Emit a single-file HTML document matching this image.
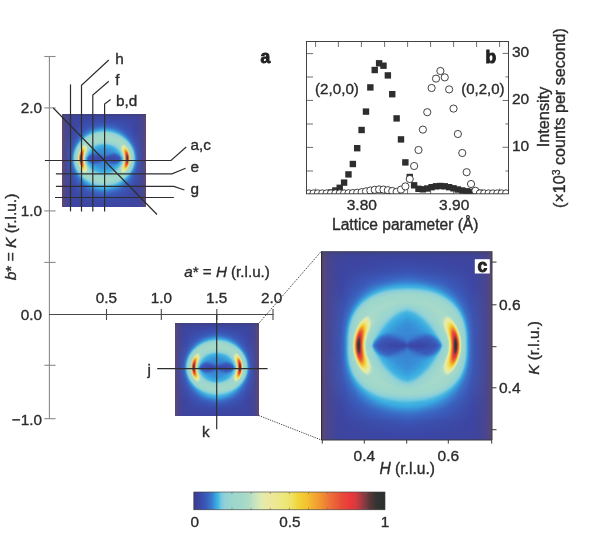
<!DOCTYPE html><html><head><meta charset="utf-8"><style>html,body{margin:0;padding:0;background:#fff;width:600px;height:552px;overflow:hidden}svg{display:block;filter:blur(0.35px)}text{font-family:"Liberation Sans",sans-serif;stroke:#2b2b2b;stroke-width:0.35px}</style></head><body>
<svg width="600" height="552" viewBox="0 0 600 552">
<defs>
<symbol id="hm" viewBox="0 0 170 189" preserveAspectRatio="none">
<defs><linearGradient id="hm0" gradientUnits="userSpaceOnUse" x2="85.60" spreadMethod="reflect"><stop offset="0.006" stop-color="#4f436a"/><stop offset="0.123" stop-color="#41427f"/><stop offset="1.000" stop-color="#3c4285"/></linearGradient><linearGradient id="hm1" gradientUnits="userSpaceOnUse" x2="85.60" spreadMethod="reflect"><stop offset="0.006" stop-color="#53446b"/><stop offset="0.099" stop-color="#434382"/><stop offset="0.426" stop-color="#3c428c"/><stop offset="1.000" stop-color="#3c438d"/></linearGradient><linearGradient id="hm2" gradientUnits="userSpaceOnUse" x2="85.60" spreadMethod="reflect"><stop offset="0.006" stop-color="#56456c"/><stop offset="0.099" stop-color="#444386"/><stop offset="0.368" stop-color="#3c4391"/><stop offset="1.000" stop-color="#3c4393"/></linearGradient><linearGradient id="hm3" gradientUnits="userSpaceOnUse" x2="85.60" spreadMethod="reflect"><stop offset="0.006" stop-color="#59456d"/><stop offset="0.088" stop-color="#464488"/><stop offset="0.298" stop-color="#3c4395"/><stop offset="1.000" stop-color="#3c4498"/></linearGradient><linearGradient id="hm4" gradientUnits="userSpaceOnUse" x2="85.60" spreadMethod="reflect"><stop offset="0.006" stop-color="#5a466e"/><stop offset="0.088" stop-color="#46448a"/><stop offset="0.286" stop-color="#3c4497"/><stop offset="1.000" stop-color="#3b459b"/></linearGradient><linearGradient id="hm5" gradientUnits="userSpaceOnUse" x2="85.60" spreadMethod="reflect"><stop offset="0.006" stop-color="#5b466e"/><stop offset="0.088" stop-color="#46448c"/><stop offset="0.275" stop-color="#3c449a"/><stop offset="1.000" stop-color="#3b459e"/></linearGradient><linearGradient id="hm6" gradientUnits="userSpaceOnUse" x2="85.60" spreadMethod="reflect"><stop offset="0.006" stop-color="#5c466f"/><stop offset="0.088" stop-color="#47458d"/><stop offset="0.263" stop-color="#3d449b"/><stop offset="1.000" stop-color="#3b46a1"/></linearGradient><linearGradient id="hm7" gradientUnits="userSpaceOnUse" x2="85.60" spreadMethod="reflect"><stop offset="0.006" stop-color="#5d476f"/><stop offset="0.076" stop-color="#49458b"/><stop offset="0.228" stop-color="#3d449b"/><stop offset="1.000" stop-color="#3b46a3"/></linearGradient><linearGradient id="hm8" gradientUnits="userSpaceOnUse" x2="85.60" spreadMethod="reflect"><stop offset="0.006" stop-color="#5e476f"/><stop offset="0.076" stop-color="#49458c"/><stop offset="0.228" stop-color="#3d449c"/><stop offset="1.000" stop-color="#3b47a4"/></linearGradient><linearGradient id="hm9" gradientUnits="userSpaceOnUse" x2="85.60" spreadMethod="reflect"><stop offset="0.006" stop-color="#5e476f"/><stop offset="0.076" stop-color="#49458c"/><stop offset="0.228" stop-color="#3d449d"/><stop offset="1.000" stop-color="#3b48a6"/></linearGradient><linearGradient id="hm10" gradientUnits="userSpaceOnUse" x2="85.60" spreadMethod="reflect"><stop offset="0.006" stop-color="#5e476f"/><stop offset="0.076" stop-color="#49458d"/><stop offset="0.228" stop-color="#3d449e"/><stop offset="1.000" stop-color="#3b48a7"/></linearGradient><linearGradient id="hm11" gradientUnits="userSpaceOnUse" x2="85.60" spreadMethod="reflect"><stop offset="0.006" stop-color="#5f476f"/><stop offset="0.076" stop-color="#49458d"/><stop offset="0.228" stop-color="#3d459e"/><stop offset="1.000" stop-color="#3b49a8"/></linearGradient><linearGradient id="hm12" gradientUnits="userSpaceOnUse" x2="85.60" spreadMethod="reflect"><stop offset="0.006" stop-color="#5f476f"/><stop offset="0.076" stop-color="#49458d"/><stop offset="0.228" stop-color="#3d459f"/><stop offset="1.000" stop-color="#3b4aa9"/></linearGradient><linearGradient id="hm13" gradientUnits="userSpaceOnUse" x2="85.60" spreadMethod="reflect"><stop offset="0.006" stop-color="#5f476f"/><stop offset="0.076" stop-color="#49458d"/><stop offset="0.228" stop-color="#3d459f"/><stop offset="1.000" stop-color="#3b4baa"/></linearGradient><linearGradient id="hm14" gradientUnits="userSpaceOnUse" x2="85.60" spreadMethod="reflect"><stop offset="0.006" stop-color="#5f476f"/><stop offset="0.076" stop-color="#49458d"/><stop offset="0.228" stop-color="#3d459f"/><stop offset="1.000" stop-color="#3b4cac"/></linearGradient><linearGradient id="hm15" gradientUnits="userSpaceOnUse" x2="85.60" spreadMethod="reflect"><stop offset="0.006" stop-color="#5f476f"/><stop offset="0.076" stop-color="#49458e"/><stop offset="0.228" stop-color="#3d459f"/><stop offset="1.000" stop-color="#3b4dad"/></linearGradient><linearGradient id="hm16" gradientUnits="userSpaceOnUse" x2="85.60" spreadMethod="reflect"><stop offset="0.006" stop-color="#5f476f"/><stop offset="0.076" stop-color="#49458e"/><stop offset="0.228" stop-color="#3d45a0"/><stop offset="1.000" stop-color="#3b4fae"/></linearGradient><linearGradient id="hm17" gradientUnits="userSpaceOnUse" x2="85.60" spreadMethod="reflect"><stop offset="0.006" stop-color="#5f476f"/><stop offset="0.076" stop-color="#49468e"/><stop offset="0.228" stop-color="#3d45a0"/><stop offset="1.000" stop-color="#3a50b0"/></linearGradient><linearGradient id="hm18" gradientUnits="userSpaceOnUse" x2="85.60" spreadMethod="reflect"><stop offset="0.006" stop-color="#5f4770"/><stop offset="0.076" stop-color="#49468e"/><stop offset="0.228" stop-color="#3d45a0"/><stop offset="1.000" stop-color="#3a51b1"/></linearGradient><linearGradient id="hm19" gradientUnits="userSpaceOnUse" x2="85.60" spreadMethod="reflect"><stop offset="0.006" stop-color="#5f4770"/><stop offset="0.076" stop-color="#49468e"/><stop offset="0.228" stop-color="#3d45a0"/><stop offset="1.000" stop-color="#3a53b3"/></linearGradient><linearGradient id="hm20" gradientUnits="userSpaceOnUse" x2="85.60" spreadMethod="reflect"><stop offset="0.006" stop-color="#5f4770"/><stop offset="0.076" stop-color="#49468e"/><stop offset="0.228" stop-color="#3d45a0"/><stop offset="1.000" stop-color="#3a55b5"/></linearGradient><linearGradient id="hm21" gradientUnits="userSpaceOnUse" x2="85.60" spreadMethod="reflect"><stop offset="0.006" stop-color="#5f4770"/><stop offset="0.076" stop-color="#49468e"/><stop offset="0.228" stop-color="#3d45a0"/><stop offset="1.000" stop-color="#3a57b7"/></linearGradient><linearGradient id="hm22" gradientUnits="userSpaceOnUse" x2="85.60" spreadMethod="reflect"><stop offset="0.006" stop-color="#5f4770"/><stop offset="0.076" stop-color="#49468e"/><stop offset="0.228" stop-color="#3d45a0"/><stop offset="1.000" stop-color="#3a59b9"/></linearGradient><linearGradient id="hm23" gradientUnits="userSpaceOnUse" x2="85.60" spreadMethod="reflect"><stop offset="0.006" stop-color="#5f4770"/><stop offset="0.076" stop-color="#49468e"/><stop offset="0.228" stop-color="#3d45a1"/><stop offset="0.999" stop-color="#3a5dbb"/><stop offset="1.000" stop-color="#3a5dbb"/></linearGradient><linearGradient id="hm24" gradientUnits="userSpaceOnUse" x2="85.60" spreadMethod="reflect"><stop offset="0.006" stop-color="#5f4770"/><stop offset="0.076" stop-color="#49468e"/><stop offset="0.228" stop-color="#3d45a1"/><stop offset="0.987" stop-color="#3a60bd"/><stop offset="1.000" stop-color="#3a60bd"/></linearGradient><linearGradient id="hm25" gradientUnits="userSpaceOnUse" x2="85.60" spreadMethod="reflect"><stop offset="0.006" stop-color="#5f4770"/><stop offset="0.076" stop-color="#49468e"/><stop offset="0.228" stop-color="#3d45a1"/><stop offset="0.742" stop-color="#3a5bba"/><stop offset="1.000" stop-color="#3a64c0"/></linearGradient><linearGradient id="hm26" gradientUnits="userSpaceOnUse" x2="85.60" spreadMethod="reflect"><stop offset="0.006" stop-color="#5f4770"/><stop offset="0.076" stop-color="#49468e"/><stop offset="0.228" stop-color="#3d45a1"/><stop offset="0.695" stop-color="#3a5bba"/><stop offset="1.000" stop-color="#3a68c3"/></linearGradient><linearGradient id="hm27" gradientUnits="userSpaceOnUse" x2="85.60" spreadMethod="reflect"><stop offset="0.006" stop-color="#5f4770"/><stop offset="0.076" stop-color="#49468e"/><stop offset="0.228" stop-color="#3d45a1"/><stop offset="0.660" stop-color="#3a5bba"/><stop offset="0.964" stop-color="#3a6cc5"/><stop offset="1.000" stop-color="#3a6cc5"/></linearGradient><linearGradient id="hm28" gradientUnits="userSpaceOnUse" x2="85.60" spreadMethod="reflect"><stop offset="0.006" stop-color="#5f4770"/><stop offset="0.076" stop-color="#49468e"/><stop offset="0.228" stop-color="#3d46a2"/><stop offset="0.625" stop-color="#3a5ab9"/><stop offset="0.940" stop-color="#3a71c8"/><stop offset="1.000" stop-color="#3a71c9"/></linearGradient><linearGradient id="hm29" gradientUnits="userSpaceOnUse" x2="85.60" spreadMethod="reflect"><stop offset="0.006" stop-color="#5f4770"/><stop offset="0.076" stop-color="#49468e"/><stop offset="0.239" stop-color="#3d46a3"/><stop offset="0.613" stop-color="#3a5cbb"/><stop offset="0.964" stop-color="#3978cc"/><stop offset="1.000" stop-color="#3979cc"/></linearGradient><linearGradient id="hm30" gradientUnits="userSpaceOnUse" x2="85.60" spreadMethod="reflect"><stop offset="0.006" stop-color="#5f4770"/><stop offset="0.076" stop-color="#49468e"/><stop offset="0.239" stop-color="#3d46a3"/><stop offset="0.590" stop-color="#3a5cbb"/><stop offset="0.929" stop-color="#397fd0"/><stop offset="1.000" stop-color="#3980d0"/></linearGradient><linearGradient id="hm31" gradientUnits="userSpaceOnUse" x2="85.60" spreadMethod="reflect"><stop offset="0.006" stop-color="#5f4770"/><stop offset="0.076" stop-color="#49468e"/><stop offset="0.239" stop-color="#3d46a3"/><stop offset="0.567" stop-color="#3a5cbb"/><stop offset="0.905" stop-color="#3986d3"/><stop offset="1.000" stop-color="#3889d4"/></linearGradient><linearGradient id="hm32" gradientUnits="userSpaceOnUse" x2="85.60" spreadMethod="reflect"><stop offset="0.006" stop-color="#5f4770"/><stop offset="0.076" stop-color="#49468e"/><stop offset="0.239" stop-color="#3d46a4"/><stop offset="0.543" stop-color="#3a5bba"/><stop offset="0.882" stop-color="#388dd7"/><stop offset="1.000" stop-color="#3892d8"/></linearGradient><linearGradient id="hm33" gradientUnits="userSpaceOnUse" x2="85.60" spreadMethod="reflect"><stop offset="0.006" stop-color="#5f4770"/><stop offset="0.076" stop-color="#49468e"/><stop offset="0.239" stop-color="#3d46a4"/><stop offset="0.532" stop-color="#3a5dbb"/><stop offset="0.882" stop-color="#3899db"/><stop offset="1.000" stop-color="#389edd"/></linearGradient><linearGradient id="hm34" gradientUnits="userSpaceOnUse" x2="85.60" spreadMethod="reflect"><stop offset="0.006" stop-color="#5f4770"/><stop offset="0.076" stop-color="#49468e"/><stop offset="0.239" stop-color="#3d47a4"/><stop offset="0.508" stop-color="#3a5cba"/><stop offset="0.859" stop-color="#38a3de"/><stop offset="1.000" stop-color="#3aaae0"/></linearGradient><linearGradient id="hm35" gradientUnits="userSpaceOnUse" x2="85.60" spreadMethod="reflect"><stop offset="0.006" stop-color="#5f4770"/><stop offset="0.076" stop-color="#49468e"/><stop offset="0.239" stop-color="#3d47a4"/><stop offset="0.496" stop-color="#3a5cbb"/><stop offset="0.672" stop-color="#3984d2"/><stop offset="0.824" stop-color="#3aa9e0"/><stop offset="1.000" stop-color="#40b0e0"/></linearGradient><linearGradient id="hm36" gradientUnits="userSpaceOnUse" x2="85.60" spreadMethod="reflect"><stop offset="0.006" stop-color="#5f4770"/><stop offset="0.076" stop-color="#49468e"/><stop offset="0.239" stop-color="#3d47a5"/><stop offset="0.485" stop-color="#3a5dbb"/><stop offset="0.637" stop-color="#3982d1"/><stop offset="0.777" stop-color="#3babe0"/><stop offset="1.000" stop-color="#4ab8e0"/></linearGradient><linearGradient id="hm37" gradientUnits="userSpaceOnUse" x2="85.60" spreadMethod="reflect"><stop offset="0.006" stop-color="#5f4770"/><stop offset="0.076" stop-color="#49468f"/><stop offset="0.239" stop-color="#3d48a5"/><stop offset="0.473" stop-color="#3a5ebc"/><stop offset="0.602" stop-color="#397ecf"/><stop offset="0.730" stop-color="#3babe0"/><stop offset="0.870" stop-color="#57bee0"/><stop offset="0.987" stop-color="#66c4e0"/><stop offset="1.000" stop-color="#66c4e0"/></linearGradient><linearGradient id="hm38" gradientUnits="userSpaceOnUse" x2="85.60" spreadMethod="reflect"><stop offset="0.006" stop-color="#5f4770"/><stop offset="0.076" stop-color="#49468f"/><stop offset="0.239" stop-color="#3d48a5"/><stop offset="0.461" stop-color="#3a5ebc"/><stop offset="0.578" stop-color="#397dcf"/><stop offset="0.695" stop-color="#3cace0"/><stop offset="0.777" stop-color="#52bce0"/><stop offset="0.847" stop-color="#6fc7df"/><stop offset="0.987" stop-color="#7bcbdd"/><stop offset="1.000" stop-color="#7bcbdd"/></linearGradient><linearGradient id="hm39" gradientUnits="userSpaceOnUse" x2="85.60" spreadMethod="reflect"><stop offset="0.006" stop-color="#5f4770"/><stop offset="0.076" stop-color="#49468f"/><stop offset="0.239" stop-color="#3d48a6"/><stop offset="0.450" stop-color="#3a5ebc"/><stop offset="0.555" stop-color="#397cce"/><stop offset="0.660" stop-color="#3babe0"/><stop offset="0.718" stop-color="#4cb9e0"/><stop offset="0.777" stop-color="#71c8df"/><stop offset="0.905" stop-color="#8aceda"/><stop offset="1.000" stop-color="#8ccfd9"/></linearGradient><linearGradient id="hm40" gradientUnits="userSpaceOnUse" x2="85.60" spreadMethod="reflect"><stop offset="0.006" stop-color="#5f4770"/><stop offset="0.076" stop-color="#49468f"/><stop offset="0.239" stop-color="#3d49a6"/><stop offset="0.438" stop-color="#3a5fbc"/><stop offset="0.543" stop-color="#397ecf"/><stop offset="0.637" stop-color="#3cace0"/><stop offset="0.683" stop-color="#4dbae0"/><stop offset="0.730" stop-color="#73c8df"/><stop offset="0.824" stop-color="#8fd0d8"/><stop offset="1.000" stop-color="#94d2d4"/></linearGradient><linearGradient id="hm41" gradientUnits="userSpaceOnUse" x2="85.60" spreadMethod="reflect"><stop offset="0.006" stop-color="#5f4770"/><stop offset="0.076" stop-color="#49468f"/><stop offset="0.239" stop-color="#3d49a6"/><stop offset="0.426" stop-color="#3a5fbc"/><stop offset="0.520" stop-color="#397bce"/><stop offset="0.613" stop-color="#3dade0"/><stop offset="0.648" stop-color="#4bb8e0"/><stop offset="0.695" stop-color="#75c9df"/><stop offset="0.765" stop-color="#90d0d7"/><stop offset="1.000" stop-color="#98d4d0"/></linearGradient><linearGradient id="hm42" gradientUnits="userSpaceOnUse" x2="85.60" spreadMethod="reflect"><stop offset="0.006" stop-color="#5f4770"/><stop offset="0.076" stop-color="#49468f"/><stop offset="0.251" stop-color="#3c4aa8"/><stop offset="0.415" stop-color="#3a5ebc"/><stop offset="0.508" stop-color="#397dce"/><stop offset="0.590" stop-color="#3cace0"/><stop offset="0.625" stop-color="#4ebae0"/><stop offset="0.660" stop-color="#74c9df"/><stop offset="0.718" stop-color="#90d0d7"/><stop offset="0.952" stop-color="#9cd6cc"/><stop offset="1.000" stop-color="#9cd6cc"/></linearGradient><linearGradient id="hm43" gradientUnits="userSpaceOnUse" x2="85.60" spreadMethod="reflect"><stop offset="0.006" stop-color="#5f4770"/><stop offset="0.076" stop-color="#49468f"/><stop offset="0.251" stop-color="#3c4aa8"/><stop offset="0.403" stop-color="#3a5ebc"/><stop offset="0.485" stop-color="#3a78cc"/><stop offset="0.567" stop-color="#3babe0"/><stop offset="0.602" stop-color="#4fbae0"/><stop offset="0.637" stop-color="#78cade"/><stop offset="0.683" stop-color="#91d1d7"/><stop offset="0.859" stop-color="#9ed7cb"/><stop offset="1.000" stop-color="#9ed7cb"/></linearGradient><linearGradient id="hm44" gradientUnits="userSpaceOnUse" x2="85.60" spreadMethod="reflect"><stop offset="0.006" stop-color="#5f4770"/><stop offset="0.076" stop-color="#49468f"/><stop offset="0.251" stop-color="#3c4ba9"/><stop offset="0.403" stop-color="#3a61bd"/><stop offset="0.473" stop-color="#3a79cc"/><stop offset="0.532" stop-color="#38a0dd"/><stop offset="0.567" stop-color="#43b3e0"/><stop offset="0.590" stop-color="#5ec1e0"/><stop offset="0.613" stop-color="#7acade"/><stop offset="0.648" stop-color="#90d0d7"/><stop offset="0.789" stop-color="#9ed7cb"/><stop offset="1.000" stop-color="#a0d7cb"/></linearGradient><linearGradient id="hm45" gradientUnits="userSpaceOnUse" x2="85.60" spreadMethod="reflect"><stop offset="0.006" stop-color="#5f4770"/><stop offset="0.076" stop-color="#49468f"/><stop offset="0.251" stop-color="#3c4ba9"/><stop offset="0.391" stop-color="#3a60bd"/><stop offset="0.461" stop-color="#397acd"/><stop offset="0.508" stop-color="#3898db"/><stop offset="0.543" stop-color="#41b1e0"/><stop offset="0.555" stop-color="#48b7e0"/><stop offset="0.590" stop-color="#7acade"/><stop offset="0.625" stop-color="#91d1d7"/><stop offset="0.754" stop-color="#9fd7cb"/><stop offset="1.000" stop-color="#a1d8ca"/></linearGradient><linearGradient id="hm46" gradientUnits="userSpaceOnUse" x2="85.60" spreadMethod="reflect"><stop offset="0.006" stop-color="#5f4770"/><stop offset="0.076" stop-color="#49468f"/><stop offset="0.263" stop-color="#3c4dab"/><stop offset="0.391" stop-color="#3a63bf"/><stop offset="0.461" stop-color="#3981d0"/><stop offset="0.520" stop-color="#3eade0"/><stop offset="0.543" stop-color="#50bbe0"/><stop offset="0.567" stop-color="#77cade"/><stop offset="0.602" stop-color="#91d1d6"/><stop offset="0.707" stop-color="#9fd7cb"/><stop offset="1.000" stop-color="#a1d8ca"/></linearGradient><linearGradient id="hm47" gradientUnits="userSpaceOnUse" x2="85.60" spreadMethod="reflect"><stop offset="0.006" stop-color="#5f4770"/><stop offset="0.076" stop-color="#49468f"/><stop offset="0.263" stop-color="#3c4eac"/><stop offset="0.380" stop-color="#3a62be"/><stop offset="0.438" stop-color="#3a79cc"/><stop offset="0.485" stop-color="#389ddc"/><stop offset="0.520" stop-color="#47b6e0"/><stop offset="0.543" stop-color="#70c8df"/><stop offset="0.578" stop-color="#91d0d7"/><stop offset="0.672" stop-color="#9ed7cb"/><stop offset="1.000" stop-color="#a1d8ca"/></linearGradient><linearGradient id="hm48" gradientUnits="userSpaceOnUse" x2="85.60" spreadMethod="reflect"><stop offset="0.006" stop-color="#5f4770"/><stop offset="0.076" stop-color="#49468f"/><stop offset="0.275" stop-color="#3c4fae"/><stop offset="0.380" stop-color="#3a64c0"/><stop offset="0.438" stop-color="#3980d0"/><stop offset="0.485" stop-color="#3aaae0"/><stop offset="0.508" stop-color="#4cb9e0"/><stop offset="0.532" stop-color="#77cade"/><stop offset="0.555" stop-color="#8ed0d8"/><stop offset="0.648" stop-color="#9fd7cb"/><stop offset="0.917" stop-color="#a2d8ca"/><stop offset="1.000" stop-color="#a1d8ca"/></linearGradient><linearGradient id="hm49" gradientUnits="userSpaceOnUse" x2="85.60" spreadMethod="reflect"><stop offset="0.006" stop-color="#5f4770"/><stop offset="0.076" stop-color="#49468f"/><stop offset="0.275" stop-color="#3b50ae"/><stop offset="0.380" stop-color="#3a67c2"/><stop offset="0.426" stop-color="#397fcf"/><stop offset="0.473" stop-color="#3baae0"/><stop offset="0.496" stop-color="#50bbe0"/><stop offset="0.508" stop-color="#6ac5df"/><stop offset="0.532" stop-color="#89ced9"/><stop offset="0.578" stop-color="#9ad5ce"/><stop offset="0.835" stop-color="#a5d9c9"/><stop offset="1.000" stop-color="#a0d7cb"/></linearGradient><linearGradient id="hm50" gradientUnits="userSpaceOnUse" x2="85.60" spreadMethod="reflect"><stop offset="0.006" stop-color="#5f4770"/><stop offset="0.076" stop-color="#49468f"/><stop offset="0.275" stop-color="#3b51af"/><stop offset="0.368" stop-color="#3a66c1"/><stop offset="0.415" stop-color="#397dce"/><stop offset="0.461" stop-color="#3baae0"/><stop offset="0.473" stop-color="#43b2e0"/><stop offset="0.485" stop-color="#54bce0"/><stop offset="0.496" stop-color="#6fc7df"/><stop offset="0.520" stop-color="#8dcfd8"/><stop offset="0.590" stop-color="#9ed7cb"/><stop offset="0.835" stop-color="#a5d9c9"/><stop offset="1.000" stop-color="#9fd7cb"/></linearGradient><linearGradient id="hm51" gradientUnits="userSpaceOnUse" x2="85.60" spreadMethod="reflect"><stop offset="0.006" stop-color="#5f4770"/><stop offset="0.076" stop-color="#49468f"/><stop offset="0.275" stop-color="#3b51b0"/><stop offset="0.368" stop-color="#3a69c3"/><stop offset="0.415" stop-color="#3984d2"/><stop offset="0.450" stop-color="#3baae0"/><stop offset="0.461" stop-color="#43b3e0"/><stop offset="0.473" stop-color="#56bde0"/><stop offset="0.485" stop-color="#72c8df"/><stop offset="0.508" stop-color="#8fd0d7"/><stop offset="0.578" stop-color="#9ed7cb"/><stop offset="0.812" stop-color="#a6d9c9"/><stop offset="1.000" stop-color="#9ed7cb"/></linearGradient><linearGradient id="hm52" gradientUnits="userSpaceOnUse" x2="85.60" spreadMethod="reflect"><stop offset="0.006" stop-color="#5f4770"/><stop offset="0.076" stop-color="#49468f"/><stop offset="0.275" stop-color="#3b52b1"/><stop offset="0.368" stop-color="#3a6bc4"/><stop offset="0.415" stop-color="#388cd6"/><stop offset="0.438" stop-color="#3aa9df"/><stop offset="0.450" stop-color="#42b2e0"/><stop offset="0.461" stop-color="#56bde0"/><stop offset="0.473" stop-color="#73c8df"/><stop offset="0.496" stop-color="#90d0d7"/><stop offset="0.567" stop-color="#9fd7cb"/><stop offset="0.789" stop-color="#a6d9c9"/><stop offset="1.000" stop-color="#9dd6cc"/></linearGradient><linearGradient id="hm53" gradientUnits="userSpaceOnUse" x2="85.60" spreadMethod="reflect"><stop offset="0.006" stop-color="#5f4770"/><stop offset="0.076" stop-color="#494690"/><stop offset="0.275" stop-color="#3b53b1"/><stop offset="0.368" stop-color="#3a6fc6"/><stop offset="0.415" stop-color="#3897da"/><stop offset="0.438" stop-color="#41b1e0"/><stop offset="0.450" stop-color="#54bce0"/><stop offset="0.461" stop-color="#73c8de"/><stop offset="0.485" stop-color="#91d0d7"/><stop offset="0.543" stop-color="#9ed7cb"/><stop offset="0.754" stop-color="#a7d9c9"/><stop offset="1.000" stop-color="#9bd5cd"/></linearGradient><linearGradient id="hm54" gradientUnits="userSpaceOnUse" x2="85.60" spreadMethod="reflect"><stop offset="0.006" stop-color="#5f4770"/><stop offset="0.076" stop-color="#494690"/><stop offset="0.275" stop-color="#3b54b2"/><stop offset="0.356" stop-color="#3a6cc5"/><stop offset="0.403" stop-color="#3893d8"/><stop offset="0.426" stop-color="#40afe0"/><stop offset="0.438" stop-color="#51bbe0"/><stop offset="0.450" stop-color="#71c7df"/><stop offset="0.473" stop-color="#91d0d6"/><stop offset="0.532" stop-color="#9ed7cb"/><stop offset="0.742" stop-color="#a7d9c9"/><stop offset="1.000" stop-color="#97d4d1"/></linearGradient><linearGradient id="hm55" gradientUnits="userSpaceOnUse" x2="85.60" spreadMethod="reflect"><stop offset="0.006" stop-color="#5f4770"/><stop offset="0.076" stop-color="#494690"/><stop offset="0.263" stop-color="#3c52b1"/><stop offset="0.345" stop-color="#3a6ac3"/><stop offset="0.391" stop-color="#388ed7"/><stop offset="0.415" stop-color="#3eade0"/><stop offset="0.426" stop-color="#4cb8e0"/><stop offset="0.438" stop-color="#6dc6df"/><stop offset="0.461" stop-color="#90d0d7"/><stop offset="0.520" stop-color="#9fd7cb"/><stop offset="0.718" stop-color="#a7dac8"/><stop offset="0.952" stop-color="#97d3d1"/><stop offset="1.000" stop-color="#93d2d5"/></linearGradient><linearGradient id="hm56" gradientUnits="userSpaceOnUse" x2="85.60" spreadMethod="reflect"><stop offset="0.006" stop-color="#5f4770"/><stop offset="0.076" stop-color="#494690"/><stop offset="0.263" stop-color="#3c53b1"/><stop offset="0.345" stop-color="#3a6dc5"/><stop offset="0.380" stop-color="#398ad4"/><stop offset="0.403" stop-color="#3baadf"/><stop offset="0.415" stop-color="#47b5e0"/><stop offset="0.438" stop-color="#7fccdc"/><stop offset="0.450" stop-color="#8fd0d7"/><stop offset="0.508" stop-color="#9fd7cb"/><stop offset="0.707" stop-color="#a7dac8"/><stop offset="0.917" stop-color="#97d4d1"/><stop offset="1.000" stop-color="#8fd0d8"/></linearGradient><linearGradient id="hm57" gradientUnits="userSpaceOnUse" x2="85.60" spreadMethod="reflect"><stop offset="0.006" stop-color="#5f4770"/><stop offset="0.076" stop-color="#494690"/><stop offset="0.263" stop-color="#3b54b2"/><stop offset="0.345" stop-color="#3a70c7"/><stop offset="0.380" stop-color="#3892d8"/><stop offset="0.403" stop-color="#42b1df"/><stop offset="0.426" stop-color="#7bcadd"/><stop offset="0.438" stop-color="#8dcfd8"/><stop offset="0.496" stop-color="#9fd7cb"/><stop offset="0.683" stop-color="#a8dac8"/><stop offset="0.894" stop-color="#98d4d0"/><stop offset="1.000" stop-color="#82ccdc"/></linearGradient><linearGradient id="hm58" gradientUnits="userSpaceOnUse" x2="85.60" spreadMethod="reflect"><stop offset="0.006" stop-color="#5f4770"/><stop offset="0.076" stop-color="#494690"/><stop offset="0.263" stop-color="#3b54b3"/><stop offset="0.333" stop-color="#3a6dc5"/><stop offset="0.368" stop-color="#398cd5"/><stop offset="0.391" stop-color="#3eaedf"/><stop offset="0.403" stop-color="#51badf"/><stop offset="0.415" stop-color="#74c8de"/><stop offset="0.426" stop-color="#8aced9"/><stop offset="0.461" stop-color="#9bd5cd"/><stop offset="0.637" stop-color="#a8dac8"/><stop offset="0.870" stop-color="#98d4d0"/><stop offset="0.929" stop-color="#8ccfd9"/><stop offset="0.987" stop-color="#76c9df"/><stop offset="1.000" stop-color="#75c9df"/></linearGradient><linearGradient id="hm59" gradientUnits="userSpaceOnUse" x2="85.60" spreadMethod="reflect"><stop offset="0.006" stop-color="#5f4770"/><stop offset="0.076" stop-color="#494690"/><stop offset="0.251" stop-color="#3c53b1"/><stop offset="0.321" stop-color="#3b69c3"/><stop offset="0.356" stop-color="#3986d2"/><stop offset="0.380" stop-color="#3ba8df"/><stop offset="0.391" stop-color="#47b5df"/><stop offset="0.403" stop-color="#6ac5df"/><stop offset="0.415" stop-color="#84cddb"/><stop offset="0.426" stop-color="#92d1d6"/><stop offset="0.473" stop-color="#9ed7cb"/><stop offset="0.648" stop-color="#a8dac8"/><stop offset="0.859" stop-color="#97d3d1"/><stop offset="0.905" stop-color="#8ccfd9"/><stop offset="0.999" stop-color="#61c2e0"/><stop offset="1.000" stop-color="#61c2e0"/></linearGradient><linearGradient id="hm60" gradientUnits="userSpaceOnUse" x2="85.60" spreadMethod="reflect"><stop offset="0.006" stop-color="#5f4770"/><stop offset="0.076" stop-color="#494690"/><stop offset="0.251" stop-color="#3c54b2"/><stop offset="0.321" stop-color="#3b6cc4"/><stop offset="0.356" stop-color="#398cd5"/><stop offset="0.380" stop-color="#40b0df"/><stop offset="0.403" stop-color="#7ccbdc"/><stop offset="0.415" stop-color="#8fd0d7"/><stop offset="0.461" stop-color="#9ed6cb"/><stop offset="0.637" stop-color="#a8dac8"/><stop offset="0.835" stop-color="#98d4d0"/><stop offset="0.882" stop-color="#8dcfd9"/><stop offset="0.987" stop-color="#4dbae0"/><stop offset="1.000" stop-color="#4bb9e0"/></linearGradient><linearGradient id="hm61" gradientUnits="userSpaceOnUse" x2="85.60" spreadMethod="reflect"><stop offset="0.006" stop-color="#5f4770"/><stop offset="0.076" stop-color="#494690"/><stop offset="0.251" stop-color="#3c54b2"/><stop offset="0.321" stop-color="#3b6ec6"/><stop offset="0.356" stop-color="#3895d9"/><stop offset="0.368" stop-color="#3caadf"/><stop offset="0.380" stop-color="#4bb7df"/><stop offset="0.391" stop-color="#71c7de"/><stop offset="0.403" stop-color="#89ced9"/><stop offset="0.438" stop-color="#9cd6cc"/><stop offset="0.602" stop-color="#a8dac8"/><stop offset="0.824" stop-color="#97d4d1"/><stop offset="0.870" stop-color="#88ceda"/><stop offset="0.929" stop-color="#5cc0e0"/><stop offset="0.964" stop-color="#47b7e0"/><stop offset="1.000" stop-color="#44b4e0"/></linearGradient><linearGradient id="hm62" gradientUnits="userSpaceOnUse" x2="85.60" spreadMethod="reflect"><stop offset="0.006" stop-color="#5f4770"/><stop offset="0.076" stop-color="#494690"/><stop offset="0.251" stop-color="#3c55b3"/><stop offset="0.321" stop-color="#3a72c8"/><stop offset="0.345" stop-color="#398bd5"/><stop offset="0.356" stop-color="#39a0dc"/><stop offset="0.368" stop-color="#41b0df"/><stop offset="0.391" stop-color="#80cbdb"/><stop offset="0.403" stop-color="#91d0d6"/><stop offset="0.450" stop-color="#9fd7cb"/><stop offset="0.613" stop-color="#a8dac8"/><stop offset="0.800" stop-color="#99d5cf"/><stop offset="0.847" stop-color="#8dcfd9"/><stop offset="0.905" stop-color="#5cc0e0"/><stop offset="0.940" stop-color="#46b6e0"/><stop offset="1.000" stop-color="#40b0e0"/></linearGradient><linearGradient id="hm63" gradientUnits="userSpaceOnUse" x2="85.60" spreadMethod="reflect"><stop offset="0.006" stop-color="#5f4770"/><stop offset="0.076" stop-color="#494690"/><stop offset="0.239" stop-color="#3c53b1"/><stop offset="0.310" stop-color="#3b6dc5"/><stop offset="0.345" stop-color="#3993d8"/><stop offset="0.356" stop-color="#3ba9df"/><stop offset="0.368" stop-color="#4cb7df"/><stop offset="0.380" stop-color="#74c8de"/><stop offset="0.391" stop-color="#8cced8"/><stop offset="0.426" stop-color="#9dd6cb"/><stop offset="0.590" stop-color="#a8dac8"/><stop offset="0.789" stop-color="#99d4cf"/><stop offset="0.835" stop-color="#8acfd9"/><stop offset="0.882" stop-color="#61c2e0"/><stop offset="0.905" stop-color="#4ab8e0"/><stop offset="0.999" stop-color="#3cace0"/><stop offset="1.000" stop-color="#3cace0"/></linearGradient><linearGradient id="hm64" gradientUnits="userSpaceOnUse" x2="85.60" spreadMethod="reflect"><stop offset="0.006" stop-color="#5f4770"/><stop offset="0.076" stop-color="#494690"/><stop offset="0.239" stop-color="#3c54b1"/><stop offset="0.310" stop-color="#3b6fc6"/><stop offset="0.333" stop-color="#3989d3"/><stop offset="0.345" stop-color="#399ddb"/><stop offset="0.356" stop-color="#40afdf"/><stop offset="0.380" stop-color="#81ccdb"/><stop offset="0.391" stop-color="#92d0d5"/><stop offset="0.438" stop-color="#9fd7cb"/><stop offset="0.555" stop-color="#abdac7"/><stop offset="0.777" stop-color="#99d4cf"/><stop offset="0.812" stop-color="#90d0d8"/><stop offset="0.859" stop-color="#68c5e0"/><stop offset="0.882" stop-color="#4cbae0"/><stop offset="0.952" stop-color="#3cace0"/><stop offset="1.000" stop-color="#3aaae0"/></linearGradient><linearGradient id="hm65" gradientUnits="userSpaceOnUse" x2="85.60" spreadMethod="reflect"><stop offset="0.006" stop-color="#5f4770"/><stop offset="0.076" stop-color="#494690"/><stop offset="0.239" stop-color="#3c54b2"/><stop offset="0.298" stop-color="#3b6ac3"/><stop offset="0.321" stop-color="#3a7fcf"/><stop offset="0.345" stop-color="#3aa6de"/><stop offset="0.356" stop-color="#49b6df"/><stop offset="0.368" stop-color="#72c7de"/><stop offset="0.380" stop-color="#8cced8"/><stop offset="0.415" stop-color="#9dd6cb"/><stop offset="0.508" stop-color="#aadac8"/><stop offset="0.532" stop-color="#bfe1c2"/><stop offset="0.543" stop-color="#bde0c3"/><stop offset="0.578" stop-color="#a8dac8"/><stop offset="0.765" stop-color="#98d4d0"/><stop offset="0.800" stop-color="#8fd0d8"/><stop offset="0.847" stop-color="#63c3e0"/><stop offset="0.870" stop-color="#48b8e0"/><stop offset="0.975" stop-color="#38a8e0"/><stop offset="1.000" stop-color="#38a6df"/></linearGradient><linearGradient id="hm66" gradientUnits="userSpaceOnUse" x2="85.60" spreadMethod="reflect"><stop offset="0.006" stop-color="#5f4770"/><stop offset="0.076" stop-color="#494690"/><stop offset="0.239" stop-color="#3c55b2"/><stop offset="0.298" stop-color="#3b6cc4"/><stop offset="0.321" stop-color="#3984d1"/><stop offset="0.345" stop-color="#3eaddf"/><stop offset="0.356" stop-color="#59bedf"/><stop offset="0.368" stop-color="#7fcbdb"/><stop offset="0.380" stop-color="#91d0d5"/><stop offset="0.426" stop-color="#9fd7cb"/><stop offset="0.485" stop-color="#a6d9c9"/><stop offset="0.496" stop-color="#acdbc7"/><stop offset="0.520" stop-color="#d1e7ba"/><stop offset="0.532" stop-color="#d4e8b8"/><stop offset="0.578" stop-color="#aadac8"/><stop offset="0.754" stop-color="#98d4d0"/><stop offset="0.789" stop-color="#8ed0d8"/><stop offset="0.824" stop-color="#6fc7e0"/><stop offset="0.847" stop-color="#4fbbe0"/><stop offset="0.882" stop-color="#41b0e0"/><stop offset="0.999" stop-color="#38a2de"/><stop offset="1.000" stop-color="#38a2de"/></linearGradient><linearGradient id="hm67" gradientUnits="userSpaceOnUse" x2="85.60" spreadMethod="reflect"><stop offset="0.006" stop-color="#5f4770"/><stop offset="0.076" stop-color="#494690"/><stop offset="0.239" stop-color="#3c55b3"/><stop offset="0.298" stop-color="#3b6ec6"/><stop offset="0.321" stop-color="#3989d4"/><stop offset="0.333" stop-color="#39a0dc"/><stop offset="0.345" stop-color="#44b2df"/><stop offset="0.356" stop-color="#6bc5de"/><stop offset="0.368" stop-color="#89ced9"/><stop offset="0.391" stop-color="#99d4ce"/><stop offset="0.473" stop-color="#a6d9c9"/><stop offset="0.485" stop-color="#aedbc6"/><stop offset="0.508" stop-color="#deeab0"/><stop offset="0.520" stop-color="#e4eaaa"/><stop offset="0.543" stop-color="#d8e9b5"/><stop offset="0.578" stop-color="#aedbc7"/><stop offset="0.648" stop-color="#a3d8ca"/><stop offset="0.742" stop-color="#98d4d0"/><stop offset="0.777" stop-color="#8ecfd8"/><stop offset="0.812" stop-color="#6cc6e0"/><stop offset="0.835" stop-color="#4cb9e0"/><stop offset="0.905" stop-color="#3aaae0"/><stop offset="1.000" stop-color="#389edd"/></linearGradient><linearGradient id="hm68" gradientUnits="userSpaceOnUse" x2="85.60" spreadMethod="reflect"><stop offset="0.006" stop-color="#5f4770"/><stop offset="0.076" stop-color="#494690"/><stop offset="0.239" stop-color="#3c56b3"/><stop offset="0.298" stop-color="#3b71c7"/><stop offset="0.321" stop-color="#3990d6"/><stop offset="0.333" stop-color="#3ba7de"/><stop offset="0.345" stop-color="#4fb8df"/><stop offset="0.356" stop-color="#79c9dd"/><stop offset="0.368" stop-color="#90cfd6"/><stop offset="0.403" stop-color="#9dd6cb"/><stop offset="0.461" stop-color="#a5d9c9"/><stop offset="0.473" stop-color="#addbc7"/><stop offset="0.485" stop-color="#cde5bb"/><stop offset="0.496" stop-color="#e5eaa9"/><stop offset="0.508" stop-color="#ebe89f"/><stop offset="0.532" stop-color="#e8e9a5"/><stop offset="0.555" stop-color="#d5e8b7"/><stop offset="0.578" stop-color="#b3ddc5"/><stop offset="0.602" stop-color="#a7d9c9"/><stop offset="0.730" stop-color="#99d4cf"/><stop offset="0.765" stop-color="#8ecfd8"/><stop offset="0.800" stop-color="#6bc6e0"/><stop offset="0.824" stop-color="#4ab8e0"/><stop offset="0.905" stop-color="#38a7e0"/><stop offset="1.000" stop-color="#389bdc"/></linearGradient><linearGradient id="hm69" gradientUnits="userSpaceOnUse" x2="85.60" spreadMethod="reflect"><stop offset="0.006" stop-color="#5f4770"/><stop offset="0.088" stop-color="#474794"/><stop offset="0.239" stop-color="#3c56b3"/><stop offset="0.298" stop-color="#3a74c9"/><stop offset="0.321" stop-color="#3997d9"/><stop offset="0.333" stop-color="#3faddf"/><stop offset="0.356" stop-color="#83ccda"/><stop offset="0.368" stop-color="#93d1d4"/><stop offset="0.415" stop-color="#a0d7ca"/><stop offset="0.461" stop-color="#aadac8"/><stop offset="0.473" stop-color="#cce5bb"/><stop offset="0.485" stop-color="#e7e9a5"/><stop offset="0.496" stop-color="#ece896"/><stop offset="0.508" stop-color="#ece891"/><stop offset="0.543" stop-color="#e7e9a6"/><stop offset="0.567" stop-color="#cce5bd"/><stop offset="0.590" stop-color="#aadac8"/><stop offset="0.718" stop-color="#99d5cf"/><stop offset="0.754" stop-color="#8ed0d8"/><stop offset="0.789" stop-color="#6ac6e0"/><stop offset="0.812" stop-color="#49b8e0"/><stop offset="0.894" stop-color="#38a5df"/><stop offset="1.000" stop-color="#3898db"/></linearGradient><linearGradient id="hm70" gradientUnits="userSpaceOnUse" x2="85.60" spreadMethod="reflect"><stop offset="0.006" stop-color="#5f4770"/><stop offset="0.088" stop-color="#474794"/><stop offset="0.239" stop-color="#3c56b4"/><stop offset="0.286" stop-color="#3b6cc4"/><stop offset="0.310" stop-color="#3987d2"/><stop offset="0.321" stop-color="#399edb"/><stop offset="0.333" stop-color="#44b2df"/><stop offset="0.345" stop-color="#6dc5de"/><stop offset="0.356" stop-color="#8bced8"/><stop offset="0.391" stop-color="#9dd6cb"/><stop offset="0.450" stop-color="#a7d9c8"/><stop offset="0.461" stop-color="#c5e3be"/><stop offset="0.473" stop-color="#e6e9a4"/><stop offset="0.485" stop-color="#ece88f"/><stop offset="0.496" stop-color="#ece884"/><stop offset="0.520" stop-color="#ece88c"/><stop offset="0.543" stop-color="#ebe8a0"/><stop offset="0.555" stop-color="#e3ebac"/><stop offset="0.578" stop-color="#bde0c3"/><stop offset="0.590" stop-color="#acdbc7"/><stop offset="0.648" stop-color="#a1d8ca"/><stop offset="0.718" stop-color="#96d3d2"/><stop offset="0.742" stop-color="#8fd0d8"/><stop offset="0.777" stop-color="#6ac6e0"/><stop offset="0.800" stop-color="#49b8e0"/><stop offset="0.882" stop-color="#38a4df"/><stop offset="1.000" stop-color="#3895da"/></linearGradient><linearGradient id="hm71" gradientUnits="userSpaceOnUse" x2="85.60" spreadMethod="reflect"><stop offset="0.006" stop-color="#5f4770"/><stop offset="0.088" stop-color="#474794"/><stop offset="0.239" stop-color="#3c57b4"/><stop offset="0.286" stop-color="#3b6ec5"/><stop offset="0.310" stop-color="#398cd4"/><stop offset="0.321" stop-color="#3aa5dd"/><stop offset="0.333" stop-color="#4db7df"/><stop offset="0.345" stop-color="#79c9dc"/><stop offset="0.356" stop-color="#90cfd6"/><stop offset="0.391" stop-color="#9ed6cb"/><stop offset="0.438" stop-color="#a4d8c9"/><stop offset="0.450" stop-color="#b9dfc3"/><stop offset="0.461" stop-color="#e3e9a8"/><stop offset="0.473" stop-color="#ece88d"/><stop offset="0.485" stop-color="#ece779"/><stop offset="0.496" stop-color="#ede671"/><stop offset="0.543" stop-color="#ece89b"/><stop offset="0.555" stop-color="#e6eaa8"/><stop offset="0.578" stop-color="#bfe1c2"/><stop offset="0.590" stop-color="#acdbc7"/><stop offset="0.625" stop-color="#a2d8ca"/><stop offset="0.707" stop-color="#97d3d1"/><stop offset="0.730" stop-color="#90d0d8"/><stop offset="0.765" stop-color="#6cc6e0"/><stop offset="0.789" stop-color="#49b8e0"/><stop offset="0.859" stop-color="#38a7df"/><stop offset="0.987" stop-color="#3893d9"/><stop offset="1.000" stop-color="#3893d9"/></linearGradient><linearGradient id="hm72" gradientUnits="userSpaceOnUse" x2="85.60" spreadMethod="reflect"><stop offset="0.006" stop-color="#5f4770"/><stop offset="0.088" stop-color="#474794"/><stop offset="0.228" stop-color="#3c55b2"/><stop offset="0.286" stop-color="#3b70c6"/><stop offset="0.310" stop-color="#3991d7"/><stop offset="0.321" stop-color="#3daade"/><stop offset="0.333" stop-color="#59bddf"/><stop offset="0.345" stop-color="#82cbda"/><stop offset="0.356" stop-color="#93d0d4"/><stop offset="0.403" stop-color="#a0d7ca"/><stop offset="0.426" stop-color="#a3d8c9"/><stop offset="0.438" stop-color="#addbc7"/><stop offset="0.450" stop-color="#dae8b1"/><stop offset="0.461" stop-color="#ece890"/><stop offset="0.485" stop-color="#f0de5a"/><stop offset="0.496" stop-color="#f0df5c"/><stop offset="0.532" stop-color="#ece889"/><stop offset="0.555" stop-color="#e8e9a6"/><stop offset="0.567" stop-color="#d7e9b6"/><stop offset="0.590" stop-color="#abdbc7"/><stop offset="0.625" stop-color="#a1d8ca"/><stop offset="0.695" stop-color="#98d4d0"/><stop offset="0.718" stop-color="#91d0d7"/><stop offset="0.754" stop-color="#6ec7e0"/><stop offset="0.777" stop-color="#49b8e0"/><stop offset="0.847" stop-color="#38a6df"/><stop offset="0.975" stop-color="#3891d8"/><stop offset="1.000" stop-color="#3890d8"/></linearGradient><linearGradient id="hm73" gradientUnits="userSpaceOnUse" x2="85.60" spreadMethod="reflect"><stop offset="0.006" stop-color="#5f4770"/><stop offset="0.088" stop-color="#474794"/><stop offset="0.228" stop-color="#3c55b2"/><stop offset="0.275" stop-color="#3b69c2"/><stop offset="0.298" stop-color="#3a81cf"/><stop offset="0.310" stop-color="#3997d9"/><stop offset="0.321" stop-color="#40aede"/><stop offset="0.333" stop-color="#65c2de"/><stop offset="0.345" stop-color="#89cdd8"/><stop offset="0.368" stop-color="#9ad4cd"/><stop offset="0.426" stop-color="#a5d8c9"/><stop offset="0.438" stop-color="#c9e4bc"/><stop offset="0.450" stop-color="#eae898"/><stop offset="0.461" stop-color="#ede573"/><stop offset="0.473" stop-color="#f1d848"/><stop offset="0.485" stop-color="#f2d138"/><stop offset="0.496" stop-color="#f1d53f"/><stop offset="0.520" stop-color="#ede671"/><stop offset="0.555" stop-color="#e8e9a5"/><stop offset="0.567" stop-color="#d7e9b6"/><stop offset="0.578" stop-color="#bce0c3"/><stop offset="0.590" stop-color="#a9dac8"/><stop offset="0.637" stop-color="#a0d7cb"/><stop offset="0.695" stop-color="#95d2d3"/><stop offset="0.718" stop-color="#8aceda"/><stop offset="0.742" stop-color="#70c8df"/><stop offset="0.765" stop-color="#4ab9e0"/><stop offset="0.835" stop-color="#38a6df"/><stop offset="0.964" stop-color="#3890d8"/><stop offset="1.000" stop-color="#388fd7"/></linearGradient><linearGradient id="hm74" gradientUnits="userSpaceOnUse" x2="85.60" spreadMethod="reflect"><stop offset="0.006" stop-color="#5f4770"/><stop offset="0.088" stop-color="#474794"/><stop offset="0.228" stop-color="#3c55b2"/><stop offset="0.275" stop-color="#3b6ac2"/><stop offset="0.298" stop-color="#3985d1"/><stop offset="0.310" stop-color="#399ddb"/><stop offset="0.321" stop-color="#44b2de"/><stop offset="0.333" stop-color="#71c6dd"/><stop offset="0.345" stop-color="#8eced7"/><stop offset="0.380" stop-color="#9ed6cb"/><stop offset="0.415" stop-color="#a2d8ca"/><stop offset="0.426" stop-color="#b3ddc5"/><stop offset="0.438" stop-color="#e4e8a6"/><stop offset="0.450" stop-color="#ece67d"/><stop offset="0.461" stop-color="#f1d748"/><stop offset="0.473" stop-color="#f2c733"/><stop offset="0.485" stop-color="#f2c532"/><stop offset="0.496" stop-color="#f2cd35"/><stop offset="0.508" stop-color="#f1d846"/><stop offset="0.520" stop-color="#eee369"/><stop offset="0.555" stop-color="#e8e9a5"/><stop offset="0.567" stop-color="#d3e8b8"/><stop offset="0.578" stop-color="#b7dec4"/><stop offset="0.590" stop-color="#a6d9c9"/><stop offset="0.683" stop-color="#96d3d2"/><stop offset="0.707" stop-color="#8ccfd9"/><stop offset="0.730" stop-color="#73c9df"/><stop offset="0.754" stop-color="#4cbae0"/><stop offset="0.800" stop-color="#3babe0"/><stop offset="0.940" stop-color="#3890d8"/><stop offset="1.000" stop-color="#388ed7"/></linearGradient><linearGradient id="hm75" gradientUnits="userSpaceOnUse" x2="85.60" spreadMethod="reflect"><stop offset="0.006" stop-color="#5f4770"/><stop offset="0.088" stop-color="#474794"/><stop offset="0.228" stop-color="#3c55b2"/><stop offset="0.275" stop-color="#3b6bc3"/><stop offset="0.298" stop-color="#3988d3"/><stop offset="0.310" stop-color="#3aa2dc"/><stop offset="0.321" stop-color="#4bb6de"/><stop offset="0.333" stop-color="#7ac9dc"/><stop offset="0.345" stop-color="#91d0d5"/><stop offset="0.380" stop-color="#9ed6cb"/><stop offset="0.415" stop-color="#a5d8c9"/><stop offset="0.426" stop-color="#d1e5b7"/><stop offset="0.438" stop-color="#ebe88d"/><stop offset="0.450" stop-color="#f0db54"/><stop offset="0.461" stop-color="#f2c232"/><stop offset="0.473" stop-color="#f2b230"/><stop offset="0.496" stop-color="#f2c532"/><stop offset="0.508" stop-color="#f2d23a"/><stop offset="0.520" stop-color="#efe162"/><stop offset="0.543" stop-color="#ece894"/><stop offset="0.555" stop-color="#e6eaa8"/><stop offset="0.567" stop-color="#cde6bc"/><stop offset="0.578" stop-color="#b0dcc6"/><stop offset="0.590" stop-color="#a3d8ca"/><stop offset="0.672" stop-color="#97d3d1"/><stop offset="0.695" stop-color="#8fd0d8"/><stop offset="0.730" stop-color="#65c3e0"/><stop offset="0.742" stop-color="#50bbe0"/><stop offset="0.765" stop-color="#41b1e0"/><stop offset="0.835" stop-color="#389fdd"/><stop offset="0.964" stop-color="#388ed7"/><stop offset="1.000" stop-color="#388dd6"/></linearGradient><linearGradient id="hm76" gradientUnits="userSpaceOnUse" x2="85.60" spreadMethod="reflect"><stop offset="0.006" stop-color="#5f4770"/><stop offset="0.088" stop-color="#474794"/><stop offset="0.228" stop-color="#3c56b3"/><stop offset="0.275" stop-color="#3b6cc4"/><stop offset="0.298" stop-color="#398cd4"/><stop offset="0.310" stop-color="#3ba6dd"/><stop offset="0.321" stop-color="#54bbde"/><stop offset="0.333" stop-color="#80cbdb"/><stop offset="0.345" stop-color="#93d0d4"/><stop offset="0.391" stop-color="#a0d7ca"/><stop offset="0.403" stop-color="#a1d7ca"/><stop offset="0.415" stop-color="#b4ddc4"/><stop offset="0.426" stop-color="#e6e8a1"/><stop offset="0.438" stop-color="#eee36c"/><stop offset="0.450" stop-color="#f2c635"/><stop offset="0.461" stop-color="#f1a730"/><stop offset="0.473" stop-color="#f19f30"/><stop offset="0.485" stop-color="#f2a930"/><stop offset="0.508" stop-color="#f2ce36"/><stop offset="0.520" stop-color="#f0df5e"/><stop offset="0.532" stop-color="#ece880"/><stop offset="0.543" stop-color="#ece897"/><stop offset="0.555" stop-color="#e2eaac"/><stop offset="0.567" stop-color="#c4e3c0"/><stop offset="0.578" stop-color="#aadac8"/><stop offset="0.602" stop-color="#a1d8ca"/><stop offset="0.672" stop-color="#95d2d3"/><stop offset="0.695" stop-color="#87ceda"/><stop offset="0.718" stop-color="#6ac6e0"/><stop offset="0.730" stop-color="#54bde0"/><stop offset="0.742" stop-color="#46b6e0"/><stop offset="0.812" stop-color="#38a2de"/><stop offset="0.940" stop-color="#388ed7"/><stop offset="1.000" stop-color="#388cd6"/></linearGradient><linearGradient id="hm77" gradientUnits="userSpaceOnUse" x2="85.60" spreadMethod="reflect"><stop offset="0.006" stop-color="#5f4770"/><stop offset="0.088" stop-color="#474794"/><stop offset="0.228" stop-color="#3c56b3"/><stop offset="0.275" stop-color="#3b6ec5"/><stop offset="0.298" stop-color="#398fd6"/><stop offset="0.310" stop-color="#3daade"/><stop offset="0.321" stop-color="#5dbfde"/><stop offset="0.333" stop-color="#86ccd9"/><stop offset="0.345" stop-color="#94d1d3"/><stop offset="0.403" stop-color="#a3d8c9"/><stop offset="0.415" stop-color="#cfe5b7"/><stop offset="0.426" stop-color="#ece788"/><stop offset="0.438" stop-color="#f1d244"/><stop offset="0.450" stop-color="#f1a930"/><stop offset="0.461" stop-color="#f08e32"/><stop offset="0.473" stop-color="#f08e31"/><stop offset="0.485" stop-color="#f19d30"/><stop offset="0.508" stop-color="#f2cb35"/><stop offset="0.520" stop-color="#efdf5d"/><stop offset="0.532" stop-color="#ece882"/><stop offset="0.543" stop-color="#ebe89b"/><stop offset="0.555" stop-color="#dbe9b3"/><stop offset="0.567" stop-color="#b8dfc4"/><stop offset="0.578" stop-color="#a5d9c9"/><stop offset="0.660" stop-color="#96d3d2"/><stop offset="0.683" stop-color="#8bcfd9"/><stop offset="0.707" stop-color="#70c8df"/><stop offset="0.730" stop-color="#48b7e0"/><stop offset="0.789" stop-color="#38a6df"/><stop offset="0.905" stop-color="#388fd7"/><stop offset="1.000" stop-color="#388bd5"/></linearGradient><linearGradient id="hm78" gradientUnits="userSpaceOnUse" x2="85.60" spreadMethod="reflect"><stop offset="0.006" stop-color="#5f4770"/><stop offset="0.088" stop-color="#474794"/><stop offset="0.228" stop-color="#3c56b3"/><stop offset="0.275" stop-color="#3b6fc5"/><stop offset="0.298" stop-color="#3993d7"/><stop offset="0.310" stop-color="#3fadde"/><stop offset="0.321" stop-color="#65c2de"/><stop offset="0.333" stop-color="#8acdd8"/><stop offset="0.356" stop-color="#9bd4cc"/><stop offset="0.391" stop-color="#a1d7ca"/><stop offset="0.403" stop-color="#aedbc6"/><stop offset="0.415" stop-color="#e4e8a3"/><stop offset="0.426" stop-color="#eee167"/><stop offset="0.438" stop-color="#f2b932"/><stop offset="0.450" stop-color="#ef8b33"/><stop offset="0.461" stop-color="#ee7538"/><stop offset="0.473" stop-color="#ee7c36"/><stop offset="0.496" stop-color="#f2ae30"/><stop offset="0.508" stop-color="#f2ca34"/><stop offset="0.520" stop-color="#efe060"/><stop offset="0.532" stop-color="#ece887"/><stop offset="0.543" stop-color="#e9e9a1"/><stop offset="0.555" stop-color="#d0e6ba"/><stop offset="0.567" stop-color="#addbc7"/><stop offset="0.578" stop-color="#a2d8ca"/><stop offset="0.648" stop-color="#97d4d1"/><stop offset="0.672" stop-color="#8fd0d8"/><stop offset="0.695" stop-color="#74c9df"/><stop offset="0.718" stop-color="#4cb9e0"/><stop offset="0.765" stop-color="#3aaae0"/><stop offset="0.882" stop-color="#388fd8"/><stop offset="1.000" stop-color="#388ad5"/></linearGradient><linearGradient id="hm79" gradientUnits="userSpaceOnUse" x2="85.60" spreadMethod="reflect"><stop offset="0.006" stop-color="#5f4770"/><stop offset="0.088" stop-color="#474794"/><stop offset="0.228" stop-color="#3c56b3"/><stop offset="0.275" stop-color="#3b70c6"/><stop offset="0.298" stop-color="#3997d9"/><stop offset="0.310" stop-color="#41afde"/><stop offset="0.321" stop-color="#6dc5dd"/><stop offset="0.333" stop-color="#8dced7"/><stop offset="0.368" stop-color="#9ed6cb"/><stop offset="0.391" stop-color="#a1d7ca"/><stop offset="0.403" stop-color="#c4e2bd"/><stop offset="0.415" stop-color="#ebe78d"/><stop offset="0.426" stop-color="#f1d043"/><stop offset="0.438" stop-color="#f09a31"/><stop offset="0.450" stop-color="#ed6e38"/><stop offset="0.461" stop-color="#ec6438"/><stop offset="0.473" stop-color="#ed6f38"/><stop offset="0.496" stop-color="#f2aa30"/><stop offset="0.508" stop-color="#f2cb35"/><stop offset="0.520" stop-color="#eee267"/><stop offset="0.532" stop-color="#ece88d"/><stop offset="0.543" stop-color="#e4eaa9"/><stop offset="0.555" stop-color="#c1e2c1"/><stop offset="0.567" stop-color="#a6d9c9"/><stop offset="0.637" stop-color="#99d4cf"/><stop offset="0.660" stop-color="#91d1d7"/><stop offset="0.695" stop-color="#68c5e0"/><stop offset="0.707" stop-color="#50bbe0"/><stop offset="0.730" stop-color="#40b0e0"/><stop offset="0.789" stop-color="#389edd"/><stop offset="0.917" stop-color="#388cd6"/><stop offset="1.000" stop-color="#3889d4"/></linearGradient><linearGradient id="hm80" gradientUnits="userSpaceOnUse" x2="85.60" spreadMethod="reflect"><stop offset="0.006" stop-color="#5f4770"/><stop offset="0.088" stop-color="#474794"/><stop offset="0.228" stop-color="#3c56b3"/><stop offset="0.275" stop-color="#3b71c7"/><stop offset="0.298" stop-color="#399ada"/><stop offset="0.310" stop-color="#45b2de"/><stop offset="0.321" stop-color="#73c7dd"/><stop offset="0.333" stop-color="#8fcfd6"/><stop offset="0.368" stop-color="#9ed6ca"/><stop offset="0.391" stop-color="#a6d8c8"/><stop offset="0.403" stop-color="#dbe7ae"/><stop offset="0.415" stop-color="#ede370"/><stop offset="0.426" stop-color="#f1b732"/><stop offset="0.438" stop-color="#ee7936"/><stop offset="0.450" stop-color="#ea5738"/><stop offset="0.461" stop-color="#ea5538"/><stop offset="0.473" stop-color="#ec6538"/><stop offset="0.485" stop-color="#ef8234"/><stop offset="0.496" stop-color="#f2a930"/><stop offset="0.508" stop-color="#f2ce39"/><stop offset="0.520" stop-color="#ede571"/><stop offset="0.532" stop-color="#ece895"/><stop offset="0.543" stop-color="#dae9b2"/><stop offset="0.555" stop-color="#b2ddc5"/><stop offset="0.567" stop-color="#a2d8ca"/><stop offset="0.637" stop-color="#97d3d1"/><stop offset="0.660" stop-color="#8dcfd9"/><stop offset="0.683" stop-color="#6fc7df"/><stop offset="0.707" stop-color="#46b6e0"/><stop offset="0.754" stop-color="#38a4df"/><stop offset="0.835" stop-color="#3891d8"/><stop offset="1.000" stop-color="#3888d4"/></linearGradient><linearGradient id="hm81" gradientUnits="userSpaceOnUse" x2="85.60" spreadMethod="reflect"><stop offset="0.006" stop-color="#5f4770"/><stop offset="0.088" stop-color="#474794"/><stop offset="0.228" stop-color="#3c56b3"/><stop offset="0.275" stop-color="#3b72c7"/><stop offset="0.286" stop-color="#3a84d0"/><stop offset="0.298" stop-color="#399ddb"/><stop offset="0.310" stop-color="#49b4de"/><stop offset="0.321" stop-color="#79c9dc"/><stop offset="0.333" stop-color="#91d0d5"/><stop offset="0.368" stop-color="#9ed6ca"/><stop offset="0.380" stop-color="#a0d7ca"/><stop offset="0.391" stop-color="#b2dcc5"/><stop offset="0.403" stop-color="#e8e89b"/><stop offset="0.415" stop-color="#f0d74f"/><stop offset="0.426" stop-color="#f09932"/><stop offset="0.438" stop-color="#eb5d38"/><stop offset="0.450" stop-color="#e94638"/><stop offset="0.461" stop-color="#e84938"/><stop offset="0.473" stop-color="#eb5c38"/><stop offset="0.485" stop-color="#ee7f35"/><stop offset="0.496" stop-color="#f2ab30"/><stop offset="0.508" stop-color="#f1d23f"/><stop offset="0.520" stop-color="#ede67a"/><stop offset="0.532" stop-color="#eae99d"/><stop offset="0.543" stop-color="#cce5bc"/><stop offset="0.555" stop-color="#a8dac8"/><stop offset="0.602" stop-color="#9ed6cb"/><stop offset="0.648" stop-color="#90d0d7"/><stop offset="0.672" stop-color="#75c9df"/><stop offset="0.695" stop-color="#48b7e0"/><stop offset="0.742" stop-color="#38a1de"/><stop offset="0.789" stop-color="#3891d8"/><stop offset="1.000" stop-color="#3987d4"/></linearGradient><linearGradient id="hm82" gradientUnits="userSpaceOnUse" x2="85.60" spreadMethod="reflect"><stop offset="0.006" stop-color="#5f4770"/><stop offset="0.088" stop-color="#474794"/><stop offset="0.228" stop-color="#3c57b4"/><stop offset="0.275" stop-color="#3b73c8"/><stop offset="0.286" stop-color="#3a85d1"/><stop offset="0.298" stop-color="#3aa0db"/><stop offset="0.310" stop-color="#4db6de"/><stop offset="0.321" stop-color="#7dcadb"/><stop offset="0.333" stop-color="#92d0d4"/><stop offset="0.368" stop-color="#9fd6ca"/><stop offset="0.380" stop-color="#a0d7ca"/><stop offset="0.391" stop-color="#c5e2bc"/><stop offset="0.403" stop-color="#ece687"/><stop offset="0.415" stop-color="#f1c338"/><stop offset="0.426" stop-color="#ee7a35"/><stop offset="0.438" stop-color="#e94838"/><stop offset="0.450" stop-color="#eb3b38"/><stop offset="0.461" stop-color="#ea4138"/><stop offset="0.473" stop-color="#ea5638"/><stop offset="0.485" stop-color="#ee7e35"/><stop offset="0.496" stop-color="#f2af30"/><stop offset="0.508" stop-color="#f1d749"/><stop offset="0.520" stop-color="#ece884"/><stop offset="0.532" stop-color="#e5e9a7"/><stop offset="0.543" stop-color="#bbe0c3"/><stop offset="0.555" stop-color="#a3d8ca"/><stop offset="0.625" stop-color="#96d3d2"/><stop offset="0.648" stop-color="#8bcfd9"/><stop offset="0.672" stop-color="#66c4e0"/><stop offset="0.683" stop-color="#4bb9e0"/><stop offset="0.718" stop-color="#38a5df"/><stop offset="0.765" stop-color="#388bd6"/><stop offset="1.000" stop-color="#3987d3"/></linearGradient><linearGradient id="hm83" gradientUnits="userSpaceOnUse" x2="85.60" spreadMethod="reflect"><stop offset="0.006" stop-color="#5f4770"/><stop offset="0.088" stop-color="#474794"/><stop offset="0.228" stop-color="#3c57b4"/><stop offset="0.275" stop-color="#3b74c8"/><stop offset="0.286" stop-color="#3987d2"/><stop offset="0.298" stop-color="#3aa2dc"/><stop offset="0.310" stop-color="#51b8de"/><stop offset="0.321" stop-color="#80cada"/><stop offset="0.333" stop-color="#93d0d3"/><stop offset="0.380" stop-color="#a3d8c9"/><stop offset="0.391" stop-color="#d7e6b0"/><stop offset="0.403" stop-color="#eee16c"/><stop offset="0.415" stop-color="#f1aa31"/><stop offset="0.426" stop-color="#eb5e38"/><stop offset="0.438" stop-color="#e73c3a"/><stop offset="0.450" stop-color="#df393d"/><stop offset="0.461" stop-color="#ea3c39"/><stop offset="0.473" stop-color="#ea5238"/><stop offset="0.485" stop-color="#ee7f35"/><stop offset="0.496" stop-color="#f2b531"/><stop offset="0.508" stop-color="#f0dc55"/><stop offset="0.520" stop-color="#ece88e"/><stop offset="0.532" stop-color="#dae8b2"/><stop offset="0.543" stop-color="#addbc7"/><stop offset="0.555" stop-color="#a1d8ca"/><stop offset="0.613" stop-color="#99d4cf"/><stop offset="0.637" stop-color="#90d0d7"/><stop offset="0.660" stop-color="#6ec7df"/><stop offset="0.672" stop-color="#4fbae0"/><stop offset="0.695" stop-color="#3aa9e0"/><stop offset="0.730" stop-color="#388cd6"/><stop offset="0.777" stop-color="#397cce"/><stop offset="0.952" stop-color="#3986d3"/><stop offset="1.000" stop-color="#3986d3"/></linearGradient><linearGradient id="hm84" gradientUnits="userSpaceOnUse" x2="85.60" spreadMethod="reflect"><stop offset="0.006" stop-color="#5f4770"/><stop offset="0.088" stop-color="#474794"/><stop offset="0.228" stop-color="#3c57b4"/><stop offset="0.263" stop-color="#3b6ac2"/><stop offset="0.286" stop-color="#3988d2"/><stop offset="0.298" stop-color="#3ba4dc"/><stop offset="0.310" stop-color="#55bbde"/><stop offset="0.321" stop-color="#83cbda"/><stop offset="0.333" stop-color="#94d1d3"/><stop offset="0.368" stop-color="#9fd6ca"/><stop offset="0.380" stop-color="#aadac7"/><stop offset="0.391" stop-color="#e4e8a2"/><stop offset="0.403" stop-color="#efd853"/><stop offset="0.415" stop-color="#ef8f33"/><stop offset="0.426" stop-color="#ea4a38"/><stop offset="0.438" stop-color="#d03a40"/><stop offset="0.450" stop-color="#c73a42"/><stop offset="0.461" stop-color="#e53a3b"/><stop offset="0.473" stop-color="#ea5138"/><stop offset="0.485" stop-color="#ef8234"/><stop offset="0.496" stop-color="#f2bb32"/><stop offset="0.508" stop-color="#eee163"/><stop offset="0.520" stop-color="#ebe898"/><stop offset="0.532" stop-color="#cbe5bc"/><stop offset="0.543" stop-color="#a5d9c9"/><stop offset="0.613" stop-color="#97d3d1"/><stop offset="0.637" stop-color="#88ceda"/><stop offset="0.648" stop-color="#75c9de"/><stop offset="0.660" stop-color="#54bde0"/><stop offset="0.672" stop-color="#41b1e0"/><stop offset="0.695" stop-color="#3897da"/><stop offset="0.730" stop-color="#397cce"/><stop offset="0.777" stop-color="#3a6ec7"/><stop offset="0.929" stop-color="#3984d2"/><stop offset="1.000" stop-color="#3985d3"/></linearGradient><linearGradient id="hm85" gradientUnits="userSpaceOnUse" x2="85.60" spreadMethod="reflect"><stop offset="0.006" stop-color="#5f4770"/><stop offset="0.088" stop-color="#474794"/><stop offset="0.228" stop-color="#3c57b4"/><stop offset="0.263" stop-color="#3b6ac2"/><stop offset="0.286" stop-color="#3989d3"/><stop offset="0.298" stop-color="#3ba6dd"/><stop offset="0.310" stop-color="#59bcde"/><stop offset="0.321" stop-color="#85ccd9"/><stop offset="0.333" stop-color="#94d1d2"/><stop offset="0.368" stop-color="#9fd6ca"/><stop offset="0.380" stop-color="#b5ddc4"/><stop offset="0.391" stop-color="#e9e893"/><stop offset="0.403" stop-color="#f1c940"/><stop offset="0.415" stop-color="#ed7636"/><stop offset="0.426" stop-color="#e23e3b"/><stop offset="0.438" stop-color="#a93a43"/><stop offset="0.450" stop-color="#ad3a43"/><stop offset="0.461" stop-color="#de3a3d"/><stop offset="0.473" stop-color="#ea5038"/><stop offset="0.496" stop-color="#f2c233"/><stop offset="0.508" stop-color="#ede573"/><stop offset="0.520" stop-color="#e7e9a2"/><stop offset="0.532" stop-color="#bbe0c3"/><stop offset="0.543" stop-color="#a2d8ca"/><stop offset="0.602" stop-color="#99d4cf"/><stop offset="0.625" stop-color="#8fd0d8"/><stop offset="0.637" stop-color="#7ccbdd"/><stop offset="0.660" stop-color="#41b1e0"/><stop offset="0.683" stop-color="#3890d8"/><stop offset="0.718" stop-color="#3a72c9"/><stop offset="0.777" stop-color="#3a64c0"/><stop offset="0.964" stop-color="#3984d2"/><stop offset="1.000" stop-color="#3985d2"/></linearGradient><linearGradient id="hm86" gradientUnits="userSpaceOnUse" x2="85.60" spreadMethod="reflect"><stop offset="0.006" stop-color="#5f4770"/><stop offset="0.088" stop-color="#474794"/><stop offset="0.216" stop-color="#3d54b1"/><stop offset="0.263" stop-color="#3b6ac2"/><stop offset="0.286" stop-color="#398ad3"/><stop offset="0.298" stop-color="#3ca7dd"/><stop offset="0.310" stop-color="#5bbdde"/><stop offset="0.321" stop-color="#86ccd9"/><stop offset="0.333" stop-color="#94d1d2"/><stop offset="0.368" stop-color="#9fd6ca"/><stop offset="0.380" stop-color="#c2e1bd"/><stop offset="0.391" stop-color="#ece684"/><stop offset="0.403" stop-color="#f1b833"/><stop offset="0.415" stop-color="#eb5f38"/><stop offset="0.426" stop-color="#cc3a3f"/><stop offset="0.438" stop-color="#843a40"/><stop offset="0.450" stop-color="#953a42"/><stop offset="0.461" stop-color="#d8393e"/><stop offset="0.473" stop-color="#ea5138"/><stop offset="0.485" stop-color="#f08d33"/><stop offset="0.496" stop-color="#f2ca3a"/><stop offset="0.508" stop-color="#ede67f"/><stop offset="0.520" stop-color="#e0e9ac"/><stop offset="0.532" stop-color="#aedcc7"/><stop offset="0.543" stop-color="#a1d8ca"/><stop offset="0.602" stop-color="#97d4d1"/><stop offset="0.613" stop-color="#93d1d5"/><stop offset="0.625" stop-color="#85cddb"/><stop offset="0.637" stop-color="#66c4df"/><stop offset="0.648" stop-color="#43b2e0"/><stop offset="0.660" stop-color="#39a0dd"/><stop offset="0.683" stop-color="#397dcf"/><stop offset="0.718" stop-color="#3a68c2"/><stop offset="0.789" stop-color="#3a5dbb"/><stop offset="0.999" stop-color="#3984d2"/><stop offset="1.000" stop-color="#3984d2"/></linearGradient><linearGradient id="hm87" gradientUnits="userSpaceOnUse" x2="85.60" spreadMethod="reflect"><stop offset="0.006" stop-color="#5f4770"/><stop offset="0.088" stop-color="#474794"/><stop offset="0.216" stop-color="#3d54b1"/><stop offset="0.263" stop-color="#3b6ac2"/><stop offset="0.286" stop-color="#398bd4"/><stop offset="0.298" stop-color="#3ca8dd"/><stop offset="0.310" stop-color="#5dbede"/><stop offset="0.321" stop-color="#88ccd8"/><stop offset="0.345" stop-color="#9bd4cc"/><stop offset="0.368" stop-color="#a0d7ca"/><stop offset="0.380" stop-color="#cee3b6"/><stop offset="0.391" stop-color="#ede272"/><stop offset="0.403" stop-color="#f0a532"/><stop offset="0.415" stop-color="#ea4f38"/><stop offset="0.426" stop-color="#a83a41"/><stop offset="0.438" stop-color="#64393b"/><stop offset="0.450" stop-color="#813a3f"/><stop offset="0.461" stop-color="#d3393f"/><stop offset="0.473" stop-color="#ea5338"/><stop offset="0.485" stop-color="#f09332"/><stop offset="0.496" stop-color="#f1d142"/><stop offset="0.508" stop-color="#ece889"/><stop offset="0.520" stop-color="#d5e7b5"/><stop offset="0.532" stop-color="#a6d9c9"/><stop offset="0.602" stop-color="#95d3d2"/><stop offset="0.613" stop-color="#8ed0d8"/><stop offset="0.625" stop-color="#74c8de"/><stop offset="0.637" stop-color="#48b6e0"/><stop offset="0.648" stop-color="#39a1dd"/><stop offset="0.672" stop-color="#3979cd"/><stop offset="0.707" stop-color="#3a64c0"/><stop offset="0.789" stop-color="#3a57b7"/><stop offset="0.894" stop-color="#3a67c2"/><stop offset="0.999" stop-color="#3982d1"/><stop offset="1.000" stop-color="#3982d1"/></linearGradient><linearGradient id="hm88" gradientUnits="userSpaceOnUse" x2="85.60" spreadMethod="reflect"><stop offset="0.006" stop-color="#5f4770"/><stop offset="0.088" stop-color="#474794"/><stop offset="0.216" stop-color="#3d54b1"/><stop offset="0.263" stop-color="#3b6bc2"/><stop offset="0.286" stop-color="#398cd4"/><stop offset="0.298" stop-color="#3da8dd"/><stop offset="0.310" stop-color="#5fbfde"/><stop offset="0.321" stop-color="#89cdd8"/><stop offset="0.345" stop-color="#9bd4cc"/><stop offset="0.368" stop-color="#a2d7c9"/><stop offset="0.380" stop-color="#d8e6af"/><stop offset="0.391" stop-color="#eedd61"/><stop offset="0.403" stop-color="#ef9433"/><stop offset="0.415" stop-color="#e5443a"/><stop offset="0.426" stop-color="#83393f"/><stop offset="0.438" stop-color="#503737"/><stop offset="0.450" stop-color="#72393d"/><stop offset="0.461" stop-color="#d0393f"/><stop offset="0.473" stop-color="#ea5638"/><stop offset="0.485" stop-color="#f09a32"/><stop offset="0.496" stop-color="#f0d64b"/><stop offset="0.508" stop-color="#ece891"/><stop offset="0.520" stop-color="#c9e4bc"/><stop offset="0.532" stop-color="#a3d8ca"/><stop offset="0.590" stop-color="#99d4cf"/><stop offset="0.602" stop-color="#94d2d4"/><stop offset="0.613" stop-color="#82cddb"/><stop offset="0.625" stop-color="#54bce0"/><stop offset="0.637" stop-color="#3aa5de"/><stop offset="0.648" stop-color="#388ad5"/><stop offset="0.672" stop-color="#3a6dc6"/><stop offset="0.730" stop-color="#3a58b8"/><stop offset="0.859" stop-color="#3a56b6"/><stop offset="0.964" stop-color="#3a74ca"/><stop offset="1.000" stop-color="#3980d0"/></linearGradient><linearGradient id="hm89" gradientUnits="userSpaceOnUse" x2="85.60" spreadMethod="reflect"><stop offset="0.006" stop-color="#5f4770"/><stop offset="0.088" stop-color="#474794"/><stop offset="0.216" stop-color="#3d54b1"/><stop offset="0.263" stop-color="#3b6bc2"/><stop offset="0.286" stop-color="#398cd4"/><stop offset="0.298" stop-color="#3da9dd"/><stop offset="0.310" stop-color="#60bfde"/><stop offset="0.321" stop-color="#89cdd8"/><stop offset="0.345" stop-color="#9bd4cc"/><stop offset="0.368" stop-color="#a4d8c9"/><stop offset="0.380" stop-color="#dfe7a8"/><stop offset="0.391" stop-color="#efd855"/><stop offset="0.403" stop-color="#ee8434"/><stop offset="0.415" stop-color="#d93e3c"/><stop offset="0.426" stop-color="#66383b"/><stop offset="0.438" stop-color="#443535"/><stop offset="0.450" stop-color="#68393b"/><stop offset="0.461" stop-color="#cd393f"/><stop offset="0.473" stop-color="#eb5938"/><stop offset="0.485" stop-color="#f1a131"/><stop offset="0.496" stop-color="#efdb56"/><stop offset="0.508" stop-color="#eae898"/><stop offset="0.520" stop-color="#bfe1c1"/><stop offset="0.532" stop-color="#a1d8ca"/><stop offset="0.590" stop-color="#97d3d1"/><stop offset="0.602" stop-color="#8fd0d7"/><stop offset="0.613" stop-color="#6ac5df"/><stop offset="0.625" stop-color="#3eacdf"/><stop offset="0.637" stop-color="#388ed6"/><stop offset="0.648" stop-color="#3979cc"/><stop offset="0.672" stop-color="#3a65c1"/><stop offset="0.730" stop-color="#3a55b5"/><stop offset="0.882" stop-color="#3a54b4"/><stop offset="0.952" stop-color="#3a65c1"/><stop offset="0.999" stop-color="#397cce"/><stop offset="1.000" stop-color="#397bce"/></linearGradient><linearGradient id="hm90" gradientUnits="userSpaceOnUse" x2="85.60" spreadMethod="reflect"><stop offset="0.006" stop-color="#5f4770"/><stop offset="0.088" stop-color="#474794"/><stop offset="0.216" stop-color="#3d54b1"/><stop offset="0.263" stop-color="#3b6bc2"/><stop offset="0.286" stop-color="#398dd4"/><stop offset="0.298" stop-color="#3da9dd"/><stop offset="0.310" stop-color="#61c0de"/><stop offset="0.321" stop-color="#8acdd8"/><stop offset="0.345" stop-color="#9bd5cc"/><stop offset="0.368" stop-color="#a8d9c8"/><stop offset="0.380" stop-color="#e4e7a1"/><stop offset="0.391" stop-color="#f0d249"/><stop offset="0.403" stop-color="#ed7735"/><stop offset="0.415" stop-color="#cb3c3e"/><stop offset="0.426" stop-color="#523738"/><stop offset="0.438" stop-color="#3c3434"/><stop offset="0.450" stop-color="#60383a"/><stop offset="0.461" stop-color="#cc3a3f"/><stop offset="0.473" stop-color="#eb5b38"/><stop offset="0.485" stop-color="#f1a830"/><stop offset="0.496" stop-color="#efde5d"/><stop offset="0.508" stop-color="#e8e99f"/><stop offset="0.520" stop-color="#b6dec4"/><stop offset="0.532" stop-color="#a1d7ca"/><stop offset="0.590" stop-color="#95d3d3"/><stop offset="0.602" stop-color="#85cdda"/><stop offset="0.613" stop-color="#4bb6e0"/><stop offset="0.625" stop-color="#3896d9"/><stop offset="0.637" stop-color="#397cce"/><stop offset="0.660" stop-color="#3a65c0"/><stop offset="0.718" stop-color="#3a54b4"/><stop offset="0.894" stop-color="#3a50b0"/><stop offset="0.964" stop-color="#3a5fbd"/><stop offset="0.999" stop-color="#3a74ca"/><stop offset="1.000" stop-color="#3a74ca"/></linearGradient><linearGradient id="hm91" gradientUnits="userSpaceOnUse" x2="85.60" spreadMethod="reflect"><stop offset="0.006" stop-color="#5f4770"/><stop offset="0.088" stop-color="#474794"/><stop offset="0.216" stop-color="#3d54b1"/><stop offset="0.263" stop-color="#3b6bc2"/><stop offset="0.286" stop-color="#398dd4"/><stop offset="0.298" stop-color="#3daadd"/><stop offset="0.310" stop-color="#62c0de"/><stop offset="0.321" stop-color="#8acdd7"/><stop offset="0.345" stop-color="#9bd5cb"/><stop offset="0.356" stop-color="#9ed6ca"/><stop offset="0.368" stop-color="#acdac7"/><stop offset="0.380" stop-color="#e7e89b"/><stop offset="0.391" stop-color="#f0cb44"/><stop offset="0.403" stop-color="#ec6e36"/><stop offset="0.415" stop-color="#bd3a3e"/><stop offset="0.426" stop-color="#453636"/><stop offset="0.438" stop-color="#373433"/><stop offset="0.450" stop-color="#5c3839"/><stop offset="0.461" stop-color="#cc3a3f"/><stop offset="0.473" stop-color="#eb5e38"/><stop offset="0.485" stop-color="#f1ac31"/><stop offset="0.496" stop-color="#efe063"/><stop offset="0.508" stop-color="#e5e9a4"/><stop offset="0.520" stop-color="#b0dcc6"/><stop offset="0.532" stop-color="#a0d7ca"/><stop offset="0.578" stop-color="#98d4d0"/><stop offset="0.590" stop-color="#93d1d5"/><stop offset="0.602" stop-color="#6ec5dd"/><stop offset="0.613" stop-color="#3ba4dd"/><stop offset="0.625" stop-color="#3982d1"/><stop offset="0.637" stop-color="#3a6fc7"/><stop offset="0.672" stop-color="#3a59b9"/><stop offset="0.824" stop-color="#3b4bab"/><stop offset="0.952" stop-color="#3a52b2"/><stop offset="0.987" stop-color="#3a61be"/><stop offset="0.999" stop-color="#3a6bc5"/><stop offset="1.000" stop-color="#3a6ac4"/></linearGradient><linearGradient id="hm92" gradientUnits="userSpaceOnUse" x2="85.60" spreadMethod="reflect"><stop offset="0.006" stop-color="#5f4770"/><stop offset="0.088" stop-color="#474794"/><stop offset="0.216" stop-color="#3d54b1"/><stop offset="0.263" stop-color="#3b6bc2"/><stop offset="0.286" stop-color="#398dd5"/><stop offset="0.298" stop-color="#3eaadd"/><stop offset="0.310" stop-color="#62c0de"/><stop offset="0.321" stop-color="#8acdd7"/><stop offset="0.345" stop-color="#9bd5cb"/><stop offset="0.356" stop-color="#9ed6ca"/><stop offset="0.368" stop-color="#aedbc6"/><stop offset="0.380" stop-color="#e8e897"/><stop offset="0.391" stop-color="#f1c741"/><stop offset="0.403" stop-color="#ec6736"/><stop offset="0.415" stop-color="#b0393f"/><stop offset="0.426" stop-color="#3f3534"/><stop offset="0.438" stop-color="#353332"/><stop offset="0.450" stop-color="#593739"/><stop offset="0.461" stop-color="#cc3a3f"/><stop offset="0.473" stop-color="#eb6038"/><stop offset="0.485" stop-color="#f1af31"/><stop offset="0.496" stop-color="#eee269"/><stop offset="0.508" stop-color="#e2e8a7"/><stop offset="0.520" stop-color="#addbc7"/><stop offset="0.532" stop-color="#a0d7cb"/><stop offset="0.578" stop-color="#95d2d3"/><stop offset="0.590" stop-color="#8ed0d8"/><stop offset="0.602" stop-color="#54badf"/><stop offset="0.613" stop-color="#3890d7"/><stop offset="0.625" stop-color="#3a75ca"/><stop offset="0.660" stop-color="#3a59b8"/><stop offset="0.789" stop-color="#3b4aaa"/><stop offset="0.952" stop-color="#3b4bab"/><stop offset="0.987" stop-color="#3a56b6"/><stop offset="0.999" stop-color="#3a5fbd"/><stop offset="1.000" stop-color="#3a5fbc"/></linearGradient><linearGradient id="hm93" gradientUnits="userSpaceOnUse" x2="85.60" spreadMethod="reflect"><stop offset="0.006" stop-color="#5f4770"/><stop offset="0.088" stop-color="#474794"/><stop offset="0.216" stop-color="#3d54b1"/><stop offset="0.263" stop-color="#3b6bc2"/><stop offset="0.286" stop-color="#398dd5"/><stop offset="0.298" stop-color="#3eaadd"/><stop offset="0.310" stop-color="#62c0de"/><stop offset="0.321" stop-color="#8acdd7"/><stop offset="0.345" stop-color="#9bd5cb"/><stop offset="0.356" stop-color="#9ed6ca"/><stop offset="0.368" stop-color="#b0dcc5"/><stop offset="0.380" stop-color="#e8e895"/><stop offset="0.391" stop-color="#f1c43f"/><stop offset="0.403" stop-color="#ec6337"/><stop offset="0.415" stop-color="#a8393f"/><stop offset="0.426" stop-color="#3c3434"/><stop offset="0.438" stop-color="#343332"/><stop offset="0.450" stop-color="#583739"/><stop offset="0.461" stop-color="#cc3a3e"/><stop offset="0.473" stop-color="#eb6138"/><stop offset="0.485" stop-color="#f1b131"/><stop offset="0.496" stop-color="#eee36d"/><stop offset="0.508" stop-color="#e1e8a9"/><stop offset="0.520" stop-color="#aadac8"/><stop offset="0.532" stop-color="#9fd7cb"/><stop offset="0.578" stop-color="#92d1d6"/><stop offset="0.590" stop-color="#80ccdc"/><stop offset="0.602" stop-color="#42abde"/><stop offset="0.613" stop-color="#3982d1"/><stop offset="0.625" stop-color="#3a6dc6"/><stop offset="0.660" stop-color="#3a56b6"/><stop offset="0.812" stop-color="#3b47a7"/><stop offset="0.975" stop-color="#3b4aaa"/><stop offset="1.000" stop-color="#3a54b4"/></linearGradient><linearGradient id="hm94" gradientUnits="userSpaceOnUse" x2="85.60" spreadMethod="reflect"><stop offset="0.006" stop-color="#5f4770"/><stop offset="0.088" stop-color="#474794"/><stop offset="0.216" stop-color="#3c54b1"/><stop offset="0.263" stop-color="#3b6cc3"/><stop offset="0.286" stop-color="#398fd5"/><stop offset="0.298" stop-color="#3eacde"/><stop offset="0.310" stop-color="#65c2de"/><stop offset="0.321" stop-color="#8bcdd7"/><stop offset="0.345" stop-color="#9bd5cb"/><stop offset="0.356" stop-color="#9ed6ca"/><stop offset="0.368" stop-color="#b1dcc5"/><stop offset="0.380" stop-color="#e9e894"/><stop offset="0.391" stop-color="#f1c33e"/><stop offset="0.403" stop-color="#eb6237"/><stop offset="0.415" stop-color="#a5393f"/><stop offset="0.426" stop-color="#3b3434"/><stop offset="0.438" stop-color="#333332"/><stop offset="0.450" stop-color="#583739"/><stop offset="0.461" stop-color="#cc3a3e"/><stop offset="0.473" stop-color="#eb6238"/><stop offset="0.485" stop-color="#f1b231"/><stop offset="0.496" stop-color="#eee36e"/><stop offset="0.508" stop-color="#e0e8aa"/><stop offset="0.520" stop-color="#aadac8"/><stop offset="0.532" stop-color="#9fd7cb"/><stop offset="0.567" stop-color="#95d3d2"/><stop offset="0.578" stop-color="#8dcfd8"/><stop offset="0.590" stop-color="#72c8df"/><stop offset="0.602" stop-color="#3ca1dc"/><stop offset="0.613" stop-color="#397cce"/><stop offset="0.625" stop-color="#3a6ac4"/><stop offset="0.660" stop-color="#3a55b5"/><stop offset="0.812" stop-color="#3b46a6"/><stop offset="0.975" stop-color="#3b48a8"/><stop offset="1.000" stop-color="#3a4faf"/></linearGradient><linearGradient id="hm95" gradientUnits="userSpaceOnUse" x2="85.60" spreadMethod="reflect"><stop offset="0.006" stop-color="#5f4770"/><stop offset="0.088" stop-color="#474794"/><stop offset="0.216" stop-color="#3c55b1"/><stop offset="0.263" stop-color="#3b6cc4"/><stop offset="0.286" stop-color="#3990d6"/><stop offset="0.298" stop-color="#3facde"/><stop offset="0.310" stop-color="#67c2dd"/><stop offset="0.321" stop-color="#8cced7"/><stop offset="0.345" stop-color="#9bd5cb"/><stop offset="0.356" stop-color="#9ed6ca"/><stop offset="0.368" stop-color="#b0dbc6"/><stop offset="0.380" stop-color="#e8e895"/><stop offset="0.391" stop-color="#f1c43f"/><stop offset="0.403" stop-color="#ec6437"/><stop offset="0.415" stop-color="#a9393f"/><stop offset="0.426" stop-color="#3c3434"/><stop offset="0.438" stop-color="#343332"/><stop offset="0.450" stop-color="#583739"/><stop offset="0.461" stop-color="#cc3a3e"/><stop offset="0.473" stop-color="#eb6138"/><stop offset="0.485" stop-color="#f1b131"/><stop offset="0.496" stop-color="#eee26c"/><stop offset="0.508" stop-color="#e1e8a9"/><stop offset="0.520" stop-color="#abdac8"/><stop offset="0.532" stop-color="#9fd7cb"/><stop offset="0.578" stop-color="#92d1d6"/><stop offset="0.590" stop-color="#82cddb"/><stop offset="0.602" stop-color="#44acdf"/><stop offset="0.613" stop-color="#3982d1"/><stop offset="0.625" stop-color="#3a6dc6"/><stop offset="0.660" stop-color="#3a56b6"/><stop offset="0.812" stop-color="#3b47a7"/><stop offset="0.964" stop-color="#3b49a9"/><stop offset="1.000" stop-color="#3a56b5"/></linearGradient><linearGradient id="hm96" gradientUnits="userSpaceOnUse" x2="85.60" spreadMethod="reflect"><stop offset="0.006" stop-color="#5f4770"/><stop offset="0.088" stop-color="#474794"/><stop offset="0.216" stop-color="#3c55b1"/><stop offset="0.263" stop-color="#3b6cc4"/><stop offset="0.286" stop-color="#3990d6"/><stop offset="0.298" stop-color="#3facde"/><stop offset="0.310" stop-color="#67c2dd"/><stop offset="0.321" stop-color="#8ccdd7"/><stop offset="0.345" stop-color="#9bd5cb"/><stop offset="0.356" stop-color="#9ed6ca"/><stop offset="0.368" stop-color="#aedbc6"/><stop offset="0.380" stop-color="#e8e898"/><stop offset="0.391" stop-color="#f1c742"/><stop offset="0.403" stop-color="#ec6836"/><stop offset="0.415" stop-color="#b2393f"/><stop offset="0.426" stop-color="#403535"/><stop offset="0.438" stop-color="#353332"/><stop offset="0.450" stop-color="#5a3739"/><stop offset="0.461" stop-color="#cc3a3f"/><stop offset="0.473" stop-color="#eb5f38"/><stop offset="0.485" stop-color="#f1af31"/><stop offset="0.496" stop-color="#eee168"/><stop offset="0.508" stop-color="#e3e9a7"/><stop offset="0.520" stop-color="#addbc7"/><stop offset="0.532" stop-color="#a0d7cb"/><stop offset="0.578" stop-color="#95d3d3"/><stop offset="0.590" stop-color="#8fd0d7"/><stop offset="0.602" stop-color="#57bbdf"/><stop offset="0.613" stop-color="#3892d8"/><stop offset="0.625" stop-color="#3a76cb"/><stop offset="0.648" stop-color="#3a5fbd"/><stop offset="0.707" stop-color="#3a50b0"/><stop offset="0.929" stop-color="#3b4aaa"/><stop offset="0.987" stop-color="#3a58b7"/><stop offset="0.999" stop-color="#3a62bf"/><stop offset="1.000" stop-color="#3a61be"/></linearGradient><linearGradient id="hm97" gradientUnits="userSpaceOnUse" x2="85.60" spreadMethod="reflect"><stop offset="0.006" stop-color="#5f4770"/><stop offset="0.088" stop-color="#474794"/><stop offset="0.216" stop-color="#3c55b1"/><stop offset="0.263" stop-color="#3b6cc4"/><stop offset="0.286" stop-color="#3990d6"/><stop offset="0.298" stop-color="#3facde"/><stop offset="0.310" stop-color="#66c2de"/><stop offset="0.321" stop-color="#8bcdd7"/><stop offset="0.345" stop-color="#9bd5cb"/><stop offset="0.356" stop-color="#9ed6cb"/><stop offset="0.368" stop-color="#abdac7"/><stop offset="0.380" stop-color="#e6e89c"/><stop offset="0.391" stop-color="#f0cc45"/><stop offset="0.403" stop-color="#ec6f36"/><stop offset="0.415" stop-color="#bf3a3e"/><stop offset="0.426" stop-color="#473636"/><stop offset="0.438" stop-color="#383433"/><stop offset="0.450" stop-color="#5d3839"/><stop offset="0.461" stop-color="#cc3a3f"/><stop offset="0.473" stop-color="#eb5d38"/><stop offset="0.485" stop-color="#f1ab31"/><stop offset="0.496" stop-color="#efe062"/><stop offset="0.508" stop-color="#e6e9a3"/><stop offset="0.520" stop-color="#b1dcc6"/><stop offset="0.532" stop-color="#a0d7ca"/><stop offset="0.578" stop-color="#98d4d0"/><stop offset="0.590" stop-color="#93d2d5"/><stop offset="0.602" stop-color="#72c7dd"/><stop offset="0.613" stop-color="#3ca6de"/><stop offset="0.625" stop-color="#3984d2"/><stop offset="0.637" stop-color="#3a70c8"/><stop offset="0.672" stop-color="#3a59b9"/><stop offset="0.824" stop-color="#3b4bab"/><stop offset="0.952" stop-color="#3a53b3"/><stop offset="0.999" stop-color="#3a6dc6"/><stop offset="1.000" stop-color="#3a6cc5"/></linearGradient><linearGradient id="hm98" gradientUnits="userSpaceOnUse" x2="85.60" spreadMethod="reflect"><stop offset="0.006" stop-color="#5f4770"/><stop offset="0.088" stop-color="#474794"/><stop offset="0.216" stop-color="#3c55b1"/><stop offset="0.263" stop-color="#3b6cc4"/><stop offset="0.286" stop-color="#3990d6"/><stop offset="0.298" stop-color="#3eacde"/><stop offset="0.310" stop-color="#65c2de"/><stop offset="0.321" stop-color="#8bcdd7"/><stop offset="0.345" stop-color="#9bd4cc"/><stop offset="0.368" stop-color="#a7d9c8"/><stop offset="0.380" stop-color="#e3e7a2"/><stop offset="0.391" stop-color="#f0d34b"/><stop offset="0.403" stop-color="#ed7935"/><stop offset="0.415" stop-color="#ce3c3e"/><stop offset="0.426" stop-color="#563738"/><stop offset="0.438" stop-color="#3d3434"/><stop offset="0.450" stop-color="#62383a"/><stop offset="0.461" stop-color="#cc3a3f"/><stop offset="0.473" stop-color="#eb5b38"/><stop offset="0.485" stop-color="#f1a630"/><stop offset="0.496" stop-color="#efde5c"/><stop offset="0.508" stop-color="#e9e99e"/><stop offset="0.520" stop-color="#b7dfc4"/><stop offset="0.532" stop-color="#a1d7ca"/><stop offset="0.590" stop-color="#95d3d3"/><stop offset="0.602" stop-color="#87ceda"/><stop offset="0.613" stop-color="#4eb8e0"/><stop offset="0.625" stop-color="#3998da"/><stop offset="0.637" stop-color="#397dcf"/><stop offset="0.660" stop-color="#3a65c1"/><stop offset="0.718" stop-color="#3a54b4"/><stop offset="0.894" stop-color="#3a50b0"/><stop offset="0.964" stop-color="#3a62be"/><stop offset="0.999" stop-color="#3a76cb"/><stop offset="1.000" stop-color="#3a75cb"/></linearGradient><linearGradient id="hm99" gradientUnits="userSpaceOnUse" x2="85.60" spreadMethod="reflect"><stop offset="0.006" stop-color="#5f4770"/><stop offset="0.088" stop-color="#474794"/><stop offset="0.216" stop-color="#3c55b1"/><stop offset="0.263" stop-color="#3b6cc4"/><stop offset="0.286" stop-color="#3990d6"/><stop offset="0.298" stop-color="#3eabde"/><stop offset="0.310" stop-color="#64c1de"/><stop offset="0.321" stop-color="#8acdd7"/><stop offset="0.345" stop-color="#9bd4cc"/><stop offset="0.368" stop-color="#a4d8c9"/><stop offset="0.380" stop-color="#dee7a9"/><stop offset="0.391" stop-color="#efd958"/><stop offset="0.403" stop-color="#ef8734"/><stop offset="0.415" stop-color="#dc3f3c"/><stop offset="0.426" stop-color="#6b383c"/><stop offset="0.438" stop-color="#473636"/><stop offset="0.450" stop-color="#69393c"/><stop offset="0.461" stop-color="#ce393f"/><stop offset="0.473" stop-color="#eb5838"/><stop offset="0.485" stop-color="#f1a031"/><stop offset="0.496" stop-color="#f0da54"/><stop offset="0.508" stop-color="#eae897"/><stop offset="0.520" stop-color="#c1e1c0"/><stop offset="0.532" stop-color="#a1d8ca"/><stop offset="0.590" stop-color="#97d3d1"/><stop offset="0.602" stop-color="#90d0d7"/><stop offset="0.613" stop-color="#6dc6de"/><stop offset="0.625" stop-color="#3fade0"/><stop offset="0.637" stop-color="#3890d7"/><stop offset="0.648" stop-color="#397acd"/><stop offset="0.672" stop-color="#3a66c1"/><stop offset="0.730" stop-color="#3a55b5"/><stop offset="0.882" stop-color="#3a55b5"/><stop offset="0.964" stop-color="#3a6cc5"/><stop offset="0.999" stop-color="#397dce"/><stop offset="1.000" stop-color="#397cce"/></linearGradient><linearGradient id="hm100" gradientUnits="userSpaceOnUse" x2="85.60" spreadMethod="reflect"><stop offset="0.006" stop-color="#5f4770"/><stop offset="0.088" stop-color="#474794"/><stop offset="0.216" stop-color="#3c55b1"/><stop offset="0.263" stop-color="#3b6cc3"/><stop offset="0.286" stop-color="#398fd5"/><stop offset="0.298" stop-color="#3eabde"/><stop offset="0.310" stop-color="#62c0de"/><stop offset="0.321" stop-color="#89cdd8"/><stop offset="0.345" stop-color="#9bd4cc"/><stop offset="0.368" stop-color="#a2d7c9"/><stop offset="0.380" stop-color="#d7e5b0"/><stop offset="0.391" stop-color="#eede63"/><stop offset="0.403" stop-color="#f09733"/><stop offset="0.415" stop-color="#e6463a"/><stop offset="0.426" stop-color="#8a3a3f"/><stop offset="0.438" stop-color="#533737"/><stop offset="0.450" stop-color="#74393d"/><stop offset="0.461" stop-color="#d0393f"/><stop offset="0.473" stop-color="#ea5538"/><stop offset="0.485" stop-color="#f09932"/><stop offset="0.496" stop-color="#f1d549"/><stop offset="0.508" stop-color="#ece88f"/><stop offset="0.520" stop-color="#cce5ba"/><stop offset="0.532" stop-color="#a3d8ca"/><stop offset="0.590" stop-color="#99d4cf"/><stop offset="0.602" stop-color="#94d2d4"/><stop offset="0.613" stop-color="#84cddb"/><stop offset="0.625" stop-color="#57bde0"/><stop offset="0.637" stop-color="#3ba7df"/><stop offset="0.648" stop-color="#388cd6"/><stop offset="0.672" stop-color="#3a6dc6"/><stop offset="0.730" stop-color="#3a59b8"/><stop offset="0.859" stop-color="#3a58b7"/><stop offset="1.000" stop-color="#3980d0"/></linearGradient><linearGradient id="hm101" gradientUnits="userSpaceOnUse" x2="85.60" spreadMethod="reflect"><stop offset="0.006" stop-color="#5f4770"/><stop offset="0.088" stop-color="#474794"/><stop offset="0.216" stop-color="#3c55b1"/><stop offset="0.263" stop-color="#3b6cc3"/><stop offset="0.286" stop-color="#398ed5"/><stop offset="0.298" stop-color="#3eaade"/><stop offset="0.310" stop-color="#60c0de"/><stop offset="0.321" stop-color="#88cdd8"/><stop offset="0.345" stop-color="#9bd4cc"/><stop offset="0.368" stop-color="#a0d6ca"/><stop offset="0.380" stop-color="#cce3b8"/><stop offset="0.391" stop-color="#ede376"/><stop offset="0.403" stop-color="#f1a932"/><stop offset="0.415" stop-color="#ea5138"/><stop offset="0.426" stop-color="#b03a41"/><stop offset="0.438" stop-color="#6a393c"/><stop offset="0.450" stop-color="#853a40"/><stop offset="0.461" stop-color="#d4393e"/><stop offset="0.473" stop-color="#ea5338"/><stop offset="0.485" stop-color="#f09233"/><stop offset="0.496" stop-color="#f1d040"/><stop offset="0.508" stop-color="#ece887"/><stop offset="0.520" stop-color="#d8e7b3"/><stop offset="0.532" stop-color="#a7d9c8"/><stop offset="0.567" stop-color="#9ed7cb"/><stop offset="0.613" stop-color="#8ed0d8"/><stop offset="0.625" stop-color="#75c9de"/><stop offset="0.637" stop-color="#4ab7e0"/><stop offset="0.648" stop-color="#3aa3de"/><stop offset="0.672" stop-color="#397bcd"/><stop offset="0.707" stop-color="#3a65c0"/><stop offset="0.789" stop-color="#3a57b7"/><stop offset="0.905" stop-color="#3a6cc5"/><stop offset="0.999" stop-color="#3982d1"/><stop offset="1.000" stop-color="#3982d1"/></linearGradient><linearGradient id="hm102" gradientUnits="userSpaceOnUse" x2="85.60" spreadMethod="reflect"><stop offset="0.006" stop-color="#5f4770"/><stop offset="0.088" stop-color="#474794"/><stop offset="0.216" stop-color="#3c55b1"/><stop offset="0.263" stop-color="#3b6cc3"/><stop offset="0.286" stop-color="#398ed5"/><stop offset="0.298" stop-color="#3da9dd"/><stop offset="0.310" stop-color="#5ebfde"/><stop offset="0.321" stop-color="#87ccd9"/><stop offset="0.345" stop-color="#9ad4cc"/><stop offset="0.368" stop-color="#9fd6ca"/><stop offset="0.380" stop-color="#c0e1bf"/><stop offset="0.391" stop-color="#ece687"/><stop offset="0.403" stop-color="#f1bb35"/><stop offset="0.415" stop-color="#eb6437"/><stop offset="0.426" stop-color="#d23a3e"/><stop offset="0.438" stop-color="#8b3a41"/><stop offset="0.450" stop-color="#993a42"/><stop offset="0.461" stop-color="#d9393d"/><stop offset="0.473" stop-color="#ea5138"/><stop offset="0.485" stop-color="#ef8b33"/><stop offset="0.496" stop-color="#f2c838"/><stop offset="0.508" stop-color="#ede67d"/><stop offset="0.520" stop-color="#e2e9aa"/><stop offset="0.532" stop-color="#b0dcc6"/><stop offset="0.543" stop-color="#a1d8ca"/><stop offset="0.602" stop-color="#97d4d1"/><stop offset="0.613" stop-color="#93d1d5"/><stop offset="0.625" stop-color="#85cddb"/><stop offset="0.637" stop-color="#68c4df"/><stop offset="0.648" stop-color="#44b3e0"/><stop offset="0.660" stop-color="#39a2de"/><stop offset="0.683" stop-color="#397fd0"/><stop offset="0.718" stop-color="#3a69c3"/><stop offset="0.789" stop-color="#3a5ebc"/><stop offset="0.987" stop-color="#3983d2"/><stop offset="1.000" stop-color="#3984d2"/></linearGradient><linearGradient id="hm103" gradientUnits="userSpaceOnUse" x2="85.60" spreadMethod="reflect"><stop offset="0.006" stop-color="#5f4770"/><stop offset="0.088" stop-color="#474794"/><stop offset="0.216" stop-color="#3c55b1"/><stop offset="0.263" stop-color="#3b6cc3"/><stop offset="0.286" stop-color="#398cd4"/><stop offset="0.298" stop-color="#3ca8dd"/><stop offset="0.310" stop-color="#5bbdde"/><stop offset="0.321" stop-color="#85ccd9"/><stop offset="0.333" stop-color="#94d1d2"/><stop offset="0.368" stop-color="#9fd6ca"/><stop offset="0.380" stop-color="#b2dcc5"/><stop offset="0.391" stop-color="#e9e896"/><stop offset="0.403" stop-color="#f1cc43"/><stop offset="0.415" stop-color="#ee7b35"/><stop offset="0.426" stop-color="#e53f3a"/><stop offset="0.438" stop-color="#b23a43"/><stop offset="0.450" stop-color="#b23a43"/><stop offset="0.461" stop-color="#e03a3c"/><stop offset="0.473" stop-color="#ea5038"/><stop offset="0.496" stop-color="#f2c133"/><stop offset="0.508" stop-color="#eee470"/><stop offset="0.520" stop-color="#e8e9a0"/><stop offset="0.532" stop-color="#bee1c1"/><stop offset="0.543" stop-color="#a2d8ca"/><stop offset="0.602" stop-color="#99d4cf"/><stop offset="0.625" stop-color="#8ed0d8"/><stop offset="0.637" stop-color="#7ccbdd"/><stop offset="0.660" stop-color="#42b2e0"/><stop offset="0.683" stop-color="#3892d8"/><stop offset="0.718" stop-color="#3a74ca"/><stop offset="0.777" stop-color="#3a66c1"/><stop offset="0.964" stop-color="#3984d2"/><stop offset="1.000" stop-color="#3985d2"/></linearGradient><linearGradient id="hm104" gradientUnits="userSpaceOnUse" x2="85.60" spreadMethod="reflect"><stop offset="0.006" stop-color="#5f4770"/><stop offset="0.076" stop-color="#494791"/><stop offset="0.216" stop-color="#3c55b1"/><stop offset="0.263" stop-color="#3b6bc3"/><stop offset="0.286" stop-color="#398bd4"/><stop offset="0.298" stop-color="#3ca6dd"/><stop offset="0.310" stop-color="#57bcde"/><stop offset="0.321" stop-color="#83cbda"/><stop offset="0.333" stop-color="#93d0d3"/><stop offset="0.380" stop-color="#a8d9c8"/><stop offset="0.391" stop-color="#e2e7a5"/><stop offset="0.403" stop-color="#efda58"/><stop offset="0.415" stop-color="#f09533"/><stop offset="0.426" stop-color="#ea4d38"/><stop offset="0.438" stop-color="#d73a3f"/><stop offset="0.450" stop-color="#cd3a41"/><stop offset="0.461" stop-color="#e63a3a"/><stop offset="0.473" stop-color="#ea5138"/><stop offset="0.485" stop-color="#ef8134"/><stop offset="0.496" stop-color="#f2ba31"/><stop offset="0.508" stop-color="#efe060"/><stop offset="0.520" stop-color="#ebe896"/><stop offset="0.532" stop-color="#cee6ba"/><stop offset="0.543" stop-color="#a6d9c9"/><stop offset="0.613" stop-color="#96d3d2"/><stop offset="0.637" stop-color="#87ceda"/><stop offset="0.648" stop-color="#74c9df"/><stop offset="0.660" stop-color="#54bde0"/><stop offset="0.672" stop-color="#41b1e0"/><stop offset="0.695" stop-color="#3899db"/><stop offset="0.730" stop-color="#397ecf"/><stop offset="0.777" stop-color="#3a70c8"/><stop offset="0.929" stop-color="#3984d2"/><stop offset="1.000" stop-color="#3985d3"/></linearGradient><linearGradient id="hm105" gradientUnits="userSpaceOnUse" x2="85.60" spreadMethod="reflect"><stop offset="0.006" stop-color="#5f4770"/><stop offset="0.076" stop-color="#494791"/><stop offset="0.216" stop-color="#3c55b1"/><stop offset="0.263" stop-color="#3b6bc3"/><stop offset="0.286" stop-color="#398ad3"/><stop offset="0.298" stop-color="#3ba5dd"/><stop offset="0.310" stop-color="#53bade"/><stop offset="0.321" stop-color="#80cada"/><stop offset="0.333" stop-color="#93d0d4"/><stop offset="0.380" stop-color="#a2d7c9"/><stop offset="0.391" stop-color="#d4e5b3"/><stop offset="0.403" stop-color="#ede372"/><stop offset="0.415" stop-color="#f1af32"/><stop offset="0.426" stop-color="#eb6338"/><stop offset="0.438" stop-color="#e83d39"/><stop offset="0.450" stop-color="#e3393c"/><stop offset="0.461" stop-color="#ea3d38"/><stop offset="0.473" stop-color="#ea5338"/><stop offset="0.485" stop-color="#ee7e35"/><stop offset="0.496" stop-color="#f2b331"/><stop offset="0.508" stop-color="#f0db52"/><stop offset="0.520" stop-color="#ece88c"/><stop offset="0.532" stop-color="#dde9b0"/><stop offset="0.543" stop-color="#afdcc6"/><stop offset="0.555" stop-color="#a1d8ca"/><stop offset="0.613" stop-color="#98d4d0"/><stop offset="0.637" stop-color="#8fd0d8"/><stop offset="0.660" stop-color="#6cc6e0"/><stop offset="0.672" stop-color="#4ebae0"/><stop offset="0.695" stop-color="#3baae0"/><stop offset="0.742" stop-color="#3988d4"/><stop offset="0.789" stop-color="#397fcf"/><stop offset="0.975" stop-color="#3986d3"/><stop offset="1.000" stop-color="#3986d3"/></linearGradient><linearGradient id="hm106" gradientUnits="userSpaceOnUse" x2="85.60" spreadMethod="reflect"><stop offset="0.006" stop-color="#5f4770"/><stop offset="0.076" stop-color="#494791"/><stop offset="0.216" stop-color="#3c55b1"/><stop offset="0.263" stop-color="#3b6bc2"/><stop offset="0.286" stop-color="#3988d2"/><stop offset="0.298" stop-color="#3aa3dc"/><stop offset="0.310" stop-color="#4eb7de"/><stop offset="0.321" stop-color="#7dcadb"/><stop offset="0.333" stop-color="#92d0d4"/><stop offset="0.368" stop-color="#9ed6ca"/><stop offset="0.380" stop-color="#a0d7ca"/><stop offset="0.391" stop-color="#c1e1be"/><stop offset="0.403" stop-color="#ebe78b"/><stop offset="0.415" stop-color="#f1c73c"/><stop offset="0.426" stop-color="#ee8035"/><stop offset="0.438" stop-color="#e94c38"/><stop offset="0.450" stop-color="#eb3d38"/><stop offset="0.461" stop-color="#e94338"/><stop offset="0.473" stop-color="#ea5738"/><stop offset="0.485" stop-color="#ee7e35"/><stop offset="0.496" stop-color="#f2ae30"/><stop offset="0.508" stop-color="#f1d646"/><stop offset="0.520" stop-color="#ece782"/><stop offset="0.532" stop-color="#e6e9a5"/><stop offset="0.543" stop-color="#bee1c2"/><stop offset="0.555" stop-color="#a3d8ca"/><stop offset="0.625" stop-color="#96d3d2"/><stop offset="0.648" stop-color="#89ceda"/><stop offset="0.672" stop-color="#63c3e0"/><stop offset="0.683" stop-color="#4ab8e0"/><stop offset="0.718" stop-color="#38a5df"/><stop offset="0.765" stop-color="#388cd6"/><stop offset="1.000" stop-color="#3986d3"/></linearGradient><linearGradient id="hm107" gradientUnits="userSpaceOnUse" x2="85.60" spreadMethod="reflect"><stop offset="0.006" stop-color="#5f4770"/><stop offset="0.076" stop-color="#494791"/><stop offset="0.216" stop-color="#3c55b1"/><stop offset="0.263" stop-color="#3b6ac2"/><stop offset="0.286" stop-color="#3986d2"/><stop offset="0.298" stop-color="#3aa0db"/><stop offset="0.310" stop-color="#4ab5de"/><stop offset="0.321" stop-color="#79c8dc"/><stop offset="0.333" stop-color="#91cfd5"/><stop offset="0.368" stop-color="#9ed6cb"/><stop offset="0.380" stop-color="#a0d7ca"/><stop offset="0.391" stop-color="#afdbc6"/><stop offset="0.403" stop-color="#e6e89f"/><stop offset="0.415" stop-color="#efda55"/><stop offset="0.426" stop-color="#f09f31"/><stop offset="0.438" stop-color="#eb6238"/><stop offset="0.450" stop-color="#e94838"/><stop offset="0.461" stop-color="#e84b38"/><stop offset="0.473" stop-color="#eb5e38"/><stop offset="0.485" stop-color="#ee7f35"/><stop offset="0.496" stop-color="#f1ab30"/><stop offset="0.508" stop-color="#f1d13d"/><stop offset="0.520" stop-color="#ede678"/><stop offset="0.532" stop-color="#eae89c"/><stop offset="0.543" stop-color="#cfe6ba"/><stop offset="0.555" stop-color="#a9dac8"/><stop offset="0.578" stop-color="#a0d7cb"/><stop offset="0.637" stop-color="#94d2d4"/><stop offset="0.648" stop-color="#90d0d8"/><stop offset="0.672" stop-color="#73c8df"/><stop offset="0.695" stop-color="#47b6e0"/><stop offset="0.742" stop-color="#38a1de"/><stop offset="0.789" stop-color="#3891d8"/><stop offset="1.000" stop-color="#3987d4"/></linearGradient><linearGradient id="hm108" gradientUnits="userSpaceOnUse" x2="85.60" spreadMethod="reflect"><stop offset="0.006" stop-color="#5f4770"/><stop offset="0.076" stop-color="#494791"/><stop offset="0.216" stop-color="#3c55b1"/><stop offset="0.263" stop-color="#3b6ac2"/><stop offset="0.286" stop-color="#3a85d1"/><stop offset="0.298" stop-color="#399ddb"/><stop offset="0.310" stop-color="#46b2de"/><stop offset="0.321" stop-color="#73c7dd"/><stop offset="0.333" stop-color="#8fcfd6"/><stop offset="0.368" stop-color="#9ed6cb"/><stop offset="0.391" stop-color="#a4d8c9"/><stop offset="0.403" stop-color="#d7e6b1"/><stop offset="0.415" stop-color="#ede477"/><stop offset="0.426" stop-color="#f1bc33"/><stop offset="0.438" stop-color="#ee8035"/><stop offset="0.450" stop-color="#eb5b38"/><stop offset="0.461" stop-color="#ea5838"/><stop offset="0.473" stop-color="#ec6738"/><stop offset="0.485" stop-color="#ef8334"/><stop offset="0.496" stop-color="#f2a930"/><stop offset="0.508" stop-color="#f2cd38"/><stop offset="0.520" stop-color="#eee46f"/><stop offset="0.532" stop-color="#ece893"/><stop offset="0.543" stop-color="#dde9b0"/><stop offset="0.555" stop-color="#b5dec5"/><stop offset="0.567" stop-color="#a2d8ca"/><stop offset="0.637" stop-color="#96d3d2"/><stop offset="0.660" stop-color="#8bcfd9"/><stop offset="0.683" stop-color="#6bc6e0"/><stop offset="0.695" stop-color="#52bce0"/><stop offset="0.707" stop-color="#45b5e0"/><stop offset="0.754" stop-color="#38a4df"/><stop offset="0.835" stop-color="#3890d8"/><stop offset="1.000" stop-color="#3988d4"/></linearGradient><linearGradient id="hm109" gradientUnits="userSpaceOnUse" x2="85.60" spreadMethod="reflect"><stop offset="0.006" stop-color="#5f4770"/><stop offset="0.076" stop-color="#494791"/><stop offset="0.216" stop-color="#3c55b1"/><stop offset="0.263" stop-color="#3b69c1"/><stop offset="0.286" stop-color="#3a83d0"/><stop offset="0.298" stop-color="#3999da"/><stop offset="0.310" stop-color="#42b0de"/><stop offset="0.321" stop-color="#6cc4de"/><stop offset="0.333" stop-color="#8cced7"/><stop offset="0.368" stop-color="#9dd6cb"/><stop offset="0.391" stop-color="#a1d7ca"/><stop offset="0.403" stop-color="#c0e1bf"/><stop offset="0.415" stop-color="#eae892"/><stop offset="0.426" stop-color="#f0d449"/><stop offset="0.438" stop-color="#f1a031"/><stop offset="0.450" stop-color="#ed7337"/><stop offset="0.461" stop-color="#ec6738"/><stop offset="0.473" stop-color="#ed7138"/><stop offset="0.496" stop-color="#f2ab30"/><stop offset="0.508" stop-color="#f2cb34"/><stop offset="0.520" stop-color="#eee266"/><stop offset="0.532" stop-color="#ece88c"/><stop offset="0.543" stop-color="#e6eaa7"/><stop offset="0.555" stop-color="#c4e3c0"/><stop offset="0.567" stop-color="#a7d9c9"/><stop offset="0.637" stop-color="#98d4d0"/><stop offset="0.660" stop-color="#90d0d7"/><stop offset="0.683" stop-color="#76cade"/><stop offset="0.707" stop-color="#4cb9e0"/><stop offset="0.754" stop-color="#39a9e0"/><stop offset="0.859" stop-color="#3890d8"/><stop offset="1.000" stop-color="#3888d4"/></linearGradient><linearGradient id="hm110" gradientUnits="userSpaceOnUse" x2="85.60" spreadMethod="reflect"><stop offset="0.006" stop-color="#5f4770"/><stop offset="0.076" stop-color="#494791"/><stop offset="0.216" stop-color="#3c55b1"/><stop offset="0.263" stop-color="#3b69c1"/><stop offset="0.286" stop-color="#3a81cf"/><stop offset="0.310" stop-color="#40adde"/><stop offset="0.321" stop-color="#64c1de"/><stop offset="0.333" stop-color="#88cdd9"/><stop offset="0.356" stop-color="#9ad4cd"/><stop offset="0.391" stop-color="#a0d7ca"/><stop offset="0.403" stop-color="#abdac7"/><stop offset="0.415" stop-color="#e1e8a8"/><stop offset="0.426" stop-color="#eee36e"/><stop offset="0.438" stop-color="#f2bf33"/><stop offset="0.450" stop-color="#f09132"/><stop offset="0.461" stop-color="#ee7a37"/><stop offset="0.473" stop-color="#ee8035"/><stop offset="0.496" stop-color="#f2af30"/><stop offset="0.508" stop-color="#f2ca34"/><stop offset="0.520" stop-color="#efe05f"/><stop offset="0.532" stop-color="#ece886"/><stop offset="0.543" stop-color="#eae9a0"/><stop offset="0.555" stop-color="#d2e7b9"/><stop offset="0.567" stop-color="#afdcc6"/><stop offset="0.578" stop-color="#a2d8ca"/><stop offset="0.648" stop-color="#97d3d1"/><stop offset="0.672" stop-color="#8dcfd9"/><stop offset="0.695" stop-color="#71c8df"/><stop offset="0.718" stop-color="#48b7e0"/><stop offset="0.777" stop-color="#38a5df"/><stop offset="0.894" stop-color="#388ed7"/><stop offset="1.000" stop-color="#3889d5"/></linearGradient><linearGradient id="hm111" gradientUnits="userSpaceOnUse" x2="85.60" spreadMethod="reflect"><stop offset="0.006" stop-color="#5f4770"/><stop offset="0.076" stop-color="#494791"/><stop offset="0.216" stop-color="#3c55b1"/><stop offset="0.275" stop-color="#3b70c6"/><stop offset="0.298" stop-color="#3992d7"/><stop offset="0.310" stop-color="#3dabde"/><stop offset="0.321" stop-color="#5bbede"/><stop offset="0.333" stop-color="#83cbda"/><stop offset="0.345" stop-color="#93d0d4"/><stop offset="0.391" stop-color="#a0d7ca"/><stop offset="0.403" stop-color="#a2d8c9"/><stop offset="0.415" stop-color="#c9e3ba"/><stop offset="0.426" stop-color="#ebe78d"/><stop offset="0.438" stop-color="#f0d64b"/><stop offset="0.450" stop-color="#f1b030"/><stop offset="0.461" stop-color="#f09331"/><stop offset="0.473" stop-color="#f09231"/><stop offset="0.485" stop-color="#f19f30"/><stop offset="0.508" stop-color="#f2cc35"/><stop offset="0.520" stop-color="#f0df5d"/><stop offset="0.532" stop-color="#ece882"/><stop offset="0.543" stop-color="#ece89a"/><stop offset="0.555" stop-color="#dceab1"/><stop offset="0.567" stop-color="#bbe0c3"/><stop offset="0.578" stop-color="#a5d9c9"/><stop offset="0.648" stop-color="#99d4cf"/><stop offset="0.683" stop-color="#88ceda"/><stop offset="0.707" stop-color="#6ac6e0"/><stop offset="0.718" stop-color="#53bce0"/><stop offset="0.730" stop-color="#46b6e0"/><stop offset="0.789" stop-color="#38a4df"/><stop offset="0.905" stop-color="#388ed7"/><stop offset="1.000" stop-color="#388ad5"/></linearGradient><linearGradient id="hm112" gradientUnits="userSpaceOnUse" x2="85.60" spreadMethod="reflect"><stop offset="0.006" stop-color="#5f4770"/><stop offset="0.076" stop-color="#494791"/><stop offset="0.228" stop-color="#3c57b4"/><stop offset="0.275" stop-color="#3b6fc5"/><stop offset="0.298" stop-color="#398ed5"/><stop offset="0.310" stop-color="#3ba7dd"/><stop offset="0.321" stop-color="#51b9de"/><stop offset="0.333" stop-color="#7dcadb"/><stop offset="0.345" stop-color="#91d0d5"/><stop offset="0.380" stop-color="#9ed6cb"/><stop offset="0.403" stop-color="#a1d7ca"/><stop offset="0.415" stop-color="#b0dcc6"/><stop offset="0.426" stop-color="#e3e8a5"/><stop offset="0.438" stop-color="#ede474"/><stop offset="0.450" stop-color="#f1cb38"/><stop offset="0.461" stop-color="#f2ad30"/><stop offset="0.473" stop-color="#f1a230"/><stop offset="0.485" stop-color="#f2ac30"/><stop offset="0.508" stop-color="#f2cf37"/><stop offset="0.520" stop-color="#efdf5e"/><stop offset="0.532" stop-color="#ece87f"/><stop offset="0.543" stop-color="#ece896"/><stop offset="0.555" stop-color="#e3eaab"/><stop offset="0.567" stop-color="#c6e3bf"/><stop offset="0.578" stop-color="#abdbc7"/><stop offset="0.590" stop-color="#a2d8ca"/><stop offset="0.660" stop-color="#97d4d1"/><stop offset="0.683" stop-color="#8fd0d8"/><stop offset="0.718" stop-color="#63c3e0"/><stop offset="0.730" stop-color="#4ebae0"/><stop offset="0.765" stop-color="#3dade0"/><stop offset="0.905" stop-color="#388fd8"/><stop offset="1.000" stop-color="#388bd5"/></linearGradient><linearGradient id="hm113" gradientUnits="userSpaceOnUse" x2="85.60" spreadMethod="reflect"><stop offset="0.006" stop-color="#5f4770"/><stop offset="0.076" stop-color="#494791"/><stop offset="0.228" stop-color="#3c57b4"/><stop offset="0.275" stop-color="#3b6ec5"/><stop offset="0.298" stop-color="#398ad4"/><stop offset="0.310" stop-color="#3aa3dd"/><stop offset="0.321" stop-color="#49b5de"/><stop offset="0.333" stop-color="#75c8dd"/><stop offset="0.345" stop-color="#8ecfd7"/><stop offset="0.380" stop-color="#9dd6cb"/><stop offset="0.415" stop-color="#a3d8c9"/><stop offset="0.426" stop-color="#cae4ba"/><stop offset="0.438" stop-color="#ebe892"/><stop offset="0.450" stop-color="#efde5d"/><stop offset="0.461" stop-color="#f2c633"/><stop offset="0.473" stop-color="#f2b730"/><stop offset="0.496" stop-color="#f2c633"/><stop offset="0.508" stop-color="#f2d33c"/><stop offset="0.520" stop-color="#efe163"/><stop offset="0.543" stop-color="#ece894"/><stop offset="0.555" stop-color="#e6eaa7"/><stop offset="0.567" stop-color="#cfe6bb"/><stop offset="0.578" stop-color="#b2ddc6"/><stop offset="0.590" stop-color="#a4d8c9"/><stop offset="0.672" stop-color="#96d3d2"/><stop offset="0.695" stop-color="#8ccfd9"/><stop offset="0.718" stop-color="#71c8df"/><stop offset="0.742" stop-color="#4ab8e0"/><stop offset="0.800" stop-color="#38a7e0"/><stop offset="0.917" stop-color="#388fd8"/><stop offset="1.000" stop-color="#388cd6"/></linearGradient><linearGradient id="hm114" gradientUnits="userSpaceOnUse" x2="85.60" spreadMethod="reflect"><stop offset="0.006" stop-color="#5f4770"/><stop offset="0.076" stop-color="#494791"/><stop offset="0.228" stop-color="#3c57b4"/><stop offset="0.275" stop-color="#3b6dc4"/><stop offset="0.298" stop-color="#3987d2"/><stop offset="0.310" stop-color="#399edb"/><stop offset="0.321" stop-color="#43b1de"/><stop offset="0.333" stop-color="#6bc4de"/><stop offset="0.345" stop-color="#8acdd8"/><stop offset="0.368" stop-color="#9ad4cd"/><stop offset="0.415" stop-color="#a1d7ca"/><stop offset="0.426" stop-color="#aedbc6"/><stop offset="0.438" stop-color="#e0e8ab"/><stop offset="0.450" stop-color="#ece783"/><stop offset="0.461" stop-color="#f0da50"/><stop offset="0.473" stop-color="#f2ca34"/><stop offset="0.485" stop-color="#f2c733"/><stop offset="0.496" stop-color="#f2ce36"/><stop offset="0.508" stop-color="#f1d949"/><stop offset="0.520" stop-color="#eee46b"/><stop offset="0.555" stop-color="#e8e9a5"/><stop offset="0.567" stop-color="#d4e8b8"/><stop offset="0.578" stop-color="#b8dfc4"/><stop offset="0.590" stop-color="#a7d9c9"/><stop offset="0.672" stop-color="#98d4d0"/><stop offset="0.707" stop-color="#88ceda"/><stop offset="0.730" stop-color="#6dc7e0"/><stop offset="0.754" stop-color="#48b7e0"/><stop offset="0.824" stop-color="#38a3de"/><stop offset="0.952" stop-color="#388ed7"/><stop offset="1.000" stop-color="#388dd6"/></linearGradient><linearGradient id="hm115" gradientUnits="userSpaceOnUse" x2="85.60" spreadMethod="reflect"><stop offset="0.006" stop-color="#5f4770"/><stop offset="0.076" stop-color="#494791"/><stop offset="0.228" stop-color="#3c57b4"/><stop offset="0.275" stop-color="#3b6cc3"/><stop offset="0.298" stop-color="#3a84d1"/><stop offset="0.321" stop-color="#3fadde"/><stop offset="0.345" stop-color="#83ccda"/><stop offset="0.356" stop-color="#93d0d4"/><stop offset="0.403" stop-color="#a0d7ca"/><stop offset="0.426" stop-color="#a3d8c9"/><stop offset="0.438" stop-color="#c2e2bf"/><stop offset="0.450" stop-color="#e9e89d"/><stop offset="0.461" stop-color="#ece67a"/><stop offset="0.473" stop-color="#f0db51"/><stop offset="0.485" stop-color="#f2d33c"/><stop offset="0.496" stop-color="#f1d744"/><stop offset="0.520" stop-color="#ede673"/><stop offset="0.555" stop-color="#e8e9a5"/><stop offset="0.567" stop-color="#d7e9b6"/><stop offset="0.590" stop-color="#aadac8"/><stop offset="0.613" stop-color="#a1d8ca"/><stop offset="0.683" stop-color="#97d4d1"/><stop offset="0.707" stop-color="#90d0d7"/><stop offset="0.742" stop-color="#68c5e0"/><stop offset="0.754" stop-color="#53bce0"/><stop offset="0.765" stop-color="#46b6e0"/><stop offset="0.835" stop-color="#38a3de"/><stop offset="0.964" stop-color="#388fd8"/><stop offset="1.000" stop-color="#388ed7"/></linearGradient><linearGradient id="hm116" gradientUnits="userSpaceOnUse" x2="85.60" spreadMethod="reflect"><stop offset="0.006" stop-color="#5f4770"/><stop offset="0.076" stop-color="#494791"/><stop offset="0.228" stop-color="#3c56b3"/><stop offset="0.286" stop-color="#3b73c8"/><stop offset="0.310" stop-color="#3992d7"/><stop offset="0.321" stop-color="#3ca9de"/><stop offset="0.333" stop-color="#51badf"/><stop offset="0.345" stop-color="#7bcadc"/><stop offset="0.356" stop-color="#90cfd6"/><stop offset="0.391" stop-color="#9dd6cb"/><stop offset="0.426" stop-color="#a2d7ca"/><stop offset="0.438" stop-color="#a9dac8"/><stop offset="0.450" stop-color="#d4e6b5"/><stop offset="0.461" stop-color="#ebe895"/><stop offset="0.485" stop-color="#efe062"/><stop offset="0.496" stop-color="#efe061"/><stop offset="0.555" stop-color="#e7e9a6"/><stop offset="0.567" stop-color="#d7e9b6"/><stop offset="0.590" stop-color="#abdbc7"/><stop offset="0.613" stop-color="#a2d8ca"/><stop offset="0.695" stop-color="#96d3d2"/><stop offset="0.718" stop-color="#8ed0d8"/><stop offset="0.754" stop-color="#64c3e0"/><stop offset="0.765" stop-color="#50bbe0"/><stop offset="0.789" stop-color="#42b2e0"/><stop offset="0.870" stop-color="#389ddc"/><stop offset="1.000" stop-color="#388fd8"/></linearGradient><linearGradient id="hm117" gradientUnits="userSpaceOnUse" x2="85.60" spreadMethod="reflect"><stop offset="0.006" stop-color="#5f4770"/><stop offset="0.076" stop-color="#494791"/><stop offset="0.228" stop-color="#3c56b3"/><stop offset="0.286" stop-color="#3b71c7"/><stop offset="0.310" stop-color="#398dd5"/><stop offset="0.321" stop-color="#3aa4dd"/><stop offset="0.333" stop-color="#47b4df"/><stop offset="0.345" stop-color="#70c6de"/><stop offset="0.356" stop-color="#8bced8"/><stop offset="0.391" stop-color="#9dd6cb"/><stop offset="0.438" stop-color="#a3d8ca"/><stop offset="0.450" stop-color="#b3ddc5"/><stop offset="0.461" stop-color="#dfe9ad"/><stop offset="0.473" stop-color="#ece892"/><stop offset="0.485" stop-color="#ece77e"/><stop offset="0.496" stop-color="#ece675"/><stop offset="0.543" stop-color="#ece89c"/><stop offset="0.555" stop-color="#e5eaa9"/><stop offset="0.578" stop-color="#bfe1c2"/><stop offset="0.590" stop-color="#acdbc7"/><stop offset="0.625" stop-color="#a2d8ca"/><stop offset="0.707" stop-color="#95d3d3"/><stop offset="0.730" stop-color="#8ccfd9"/><stop offset="0.765" stop-color="#61c2e0"/><stop offset="0.777" stop-color="#4ebae0"/><stop offset="0.812" stop-color="#3eaee0"/><stop offset="0.905" stop-color="#389adb"/><stop offset="1.000" stop-color="#3891d8"/></linearGradient><linearGradient id="hm118" gradientUnits="userSpaceOnUse" x2="85.60" spreadMethod="reflect"><stop offset="0.006" stop-color="#5f4770"/><stop offset="0.076" stop-color="#494791"/><stop offset="0.228" stop-color="#3c56b3"/><stop offset="0.286" stop-color="#3b6fc6"/><stop offset="0.310" stop-color="#3989d3"/><stop offset="0.321" stop-color="#399edb"/><stop offset="0.333" stop-color="#41afdf"/><stop offset="0.356" stop-color="#83ccda"/><stop offset="0.368" stop-color="#92d0d5"/><stop offset="0.415" stop-color="#9fd7ca"/><stop offset="0.450" stop-color="#a4d8c9"/><stop offset="0.461" stop-color="#bee0c1"/><stop offset="0.473" stop-color="#e3e9a9"/><stop offset="0.485" stop-color="#ece893"/><stop offset="0.496" stop-color="#ece887"/><stop offset="0.520" stop-color="#ece88e"/><stop offset="0.543" stop-color="#eae8a1"/><stop offset="0.555" stop-color="#e2ebad"/><stop offset="0.578" stop-color="#bce0c3"/><stop offset="0.590" stop-color="#acdbc7"/><stop offset="0.637" stop-color="#a1d8ca"/><stop offset="0.707" stop-color="#98d4d0"/><stop offset="0.742" stop-color="#8aced9"/><stop offset="0.765" stop-color="#71c8df"/><stop offset="0.789" stop-color="#4dbae0"/><stop offset="0.835" stop-color="#3cace0"/><stop offset="0.975" stop-color="#3894d9"/><stop offset="1.000" stop-color="#3893d9"/></linearGradient><linearGradient id="hm119" gradientUnits="userSpaceOnUse" x2="85.60" spreadMethod="reflect"><stop offset="0.006" stop-color="#5f4770"/><stop offset="0.076" stop-color="#494791"/><stop offset="0.228" stop-color="#3c56b3"/><stop offset="0.286" stop-color="#3b6dc5"/><stop offset="0.310" stop-color="#3985d1"/><stop offset="0.333" stop-color="#3dabdf"/><stop offset="0.345" stop-color="#52badf"/><stop offset="0.356" stop-color="#79c9dd"/><stop offset="0.368" stop-color="#8fcfd7"/><stop offset="0.415" stop-color="#9fd6cb"/><stop offset="0.461" stop-color="#a7d9c8"/><stop offset="0.473" stop-color="#c5e3bf"/><stop offset="0.485" stop-color="#e4e9a9"/><stop offset="0.496" stop-color="#ece899"/><stop offset="0.508" stop-color="#ece893"/><stop offset="0.543" stop-color="#e6eaa8"/><stop offset="0.567" stop-color="#cbe5be"/><stop offset="0.590" stop-color="#aadac8"/><stop offset="0.718" stop-color="#98d4d0"/><stop offset="0.754" stop-color="#88ceda"/><stop offset="0.777" stop-color="#70c8df"/><stop offset="0.800" stop-color="#4dbae0"/><stop offset="0.859" stop-color="#3aaae0"/><stop offset="0.987" stop-color="#3896da"/><stop offset="1.000" stop-color="#3896da"/></linearGradient><linearGradient id="hm120" gradientUnits="userSpaceOnUse" x2="85.60" spreadMethod="reflect"><stop offset="0.006" stop-color="#5f4770"/><stop offset="0.076" stop-color="#494791"/><stop offset="0.228" stop-color="#3c55b2"/><stop offset="0.286" stop-color="#3b6cc4"/><stop offset="0.321" stop-color="#3990d6"/><stop offset="0.333" stop-color="#3aa5de"/><stop offset="0.345" stop-color="#46b4df"/><stop offset="0.356" stop-color="#6cc5de"/><stop offset="0.368" stop-color="#87cdd9"/><stop offset="0.391" stop-color="#98d3cf"/><stop offset="0.473" stop-color="#a9dac8"/><stop offset="0.496" stop-color="#e1eaad"/><stop offset="0.508" stop-color="#eae9a2"/><stop offset="0.532" stop-color="#e7eaa7"/><stop offset="0.555" stop-color="#d3e8b8"/><stop offset="0.578" stop-color="#b2ddc6"/><stop offset="0.602" stop-color="#a7d9c9"/><stop offset="0.730" stop-color="#97d4d1"/><stop offset="0.754" stop-color="#91d0d7"/><stop offset="0.789" stop-color="#70c8df"/><stop offset="0.812" stop-color="#4dbae0"/><stop offset="0.859" stop-color="#3dade0"/><stop offset="0.999" stop-color="#3898db"/><stop offset="1.000" stop-color="#3898db"/></linearGradient><linearGradient id="hm121" gradientUnits="userSpaceOnUse" x2="85.60" spreadMethod="reflect"><stop offset="0.006" stop-color="#5f4770"/><stop offset="0.076" stop-color="#494791"/><stop offset="0.239" stop-color="#3c57b5"/><stop offset="0.298" stop-color="#3b72c7"/><stop offset="0.321" stop-color="#398ad4"/><stop offset="0.345" stop-color="#40afdf"/><stop offset="0.356" stop-color="#5abedf"/><stop offset="0.368" stop-color="#7dcadc"/><stop offset="0.380" stop-color="#90d0d6"/><stop offset="0.426" stop-color="#9fd6cb"/><stop offset="0.485" stop-color="#aadac8"/><stop offset="0.508" stop-color="#d9e9b4"/><stop offset="0.520" stop-color="#e1ebad"/><stop offset="0.543" stop-color="#d6e8b7"/><stop offset="0.578" stop-color="#addbc7"/><stop offset="0.742" stop-color="#97d3d1"/><stop offset="0.765" stop-color="#90d0d7"/><stop offset="0.800" stop-color="#70c8df"/><stop offset="0.824" stop-color="#4ebae0"/><stop offset="0.859" stop-color="#40b0e0"/><stop offset="0.964" stop-color="#389edd"/><stop offset="1.000" stop-color="#389bdc"/></linearGradient><linearGradient id="hm122" gradientUnits="userSpaceOnUse" x2="85.60" spreadMethod="reflect"><stop offset="0.006" stop-color="#5f4770"/><stop offset="0.076" stop-color="#494791"/><stop offset="0.239" stop-color="#3c57b4"/><stop offset="0.298" stop-color="#3b6fc6"/><stop offset="0.333" stop-color="#3996d9"/><stop offset="0.345" stop-color="#3caadf"/><stop offset="0.356" stop-color="#4ab7df"/><stop offset="0.368" stop-color="#70c7de"/><stop offset="0.380" stop-color="#89cdd9"/><stop offset="0.403" stop-color="#98d3cf"/><stop offset="0.496" stop-color="#a9dac8"/><stop offset="0.520" stop-color="#cce5bd"/><stop offset="0.532" stop-color="#d0e7ba"/><stop offset="0.578" stop-color="#a9dac8"/><stop offset="0.742" stop-color="#9ad5ce"/><stop offset="0.777" stop-color="#90d0d7"/><stop offset="0.812" stop-color="#71c8df"/><stop offset="0.835" stop-color="#50bbe0"/><stop offset="0.859" stop-color="#43b3e0"/><stop offset="0.964" stop-color="#38a1de"/><stop offset="1.000" stop-color="#389fdd"/></linearGradient><linearGradient id="hm123" gradientUnits="userSpaceOnUse" x2="85.60" spreadMethod="reflect"><stop offset="0.006" stop-color="#5f4770"/><stop offset="0.076" stop-color="#494791"/><stop offset="0.239" stop-color="#3c56b4"/><stop offset="0.310" stop-color="#3a76ca"/><stop offset="0.333" stop-color="#398fd6"/><stop offset="0.345" stop-color="#39a3dd"/><stop offset="0.356" stop-color="#42b1df"/><stop offset="0.380" stop-color="#7ecbdc"/><stop offset="0.391" stop-color="#90d0d7"/><stop offset="0.438" stop-color="#9ed6cb"/><stop offset="0.508" stop-color="#a8d9c8"/><stop offset="0.532" stop-color="#badfc3"/><stop offset="0.543" stop-color="#b9dfc4"/><stop offset="0.578" stop-color="#a8dac8"/><stop offset="0.754" stop-color="#99d5cf"/><stop offset="0.789" stop-color="#90d0d7"/><stop offset="0.835" stop-color="#64c3e0"/><stop offset="0.859" stop-color="#48b7e0"/><stop offset="0.964" stop-color="#38a6df"/><stop offset="1.000" stop-color="#38a3de"/></linearGradient><linearGradient id="hm124" gradientUnits="userSpaceOnUse" x2="85.60" spreadMethod="reflect"><stop offset="0.006" stop-color="#5f4770"/><stop offset="0.076" stop-color="#494791"/><stop offset="0.239" stop-color="#3c56b3"/><stop offset="0.310" stop-color="#3a73c8"/><stop offset="0.345" stop-color="#389adb"/><stop offset="0.356" stop-color="#3dabdf"/><stop offset="0.368" stop-color="#4cb8df"/><stop offset="0.380" stop-color="#70c7de"/><stop offset="0.391" stop-color="#87cdda"/><stop offset="0.415" stop-color="#97d3d0"/><stop offset="0.555" stop-color="#aadac8"/><stop offset="0.765" stop-color="#99d5cf"/><stop offset="0.812" stop-color="#89ceda"/><stop offset="0.847" stop-color="#68c5e0"/><stop offset="0.870" stop-color="#4bb9e0"/><stop offset="0.952" stop-color="#3aaae0"/><stop offset="1.000" stop-color="#38a7e0"/></linearGradient><linearGradient id="hm125" gradientUnits="userSpaceOnUse" x2="85.60" spreadMethod="reflect"><stop offset="0.006" stop-color="#5f4770"/><stop offset="0.076" stop-color="#494791"/><stop offset="0.239" stop-color="#3c56b3"/><stop offset="0.310" stop-color="#3b70c7"/><stop offset="0.345" stop-color="#3992d8"/><stop offset="0.368" stop-color="#42b1df"/><stop offset="0.391" stop-color="#7bcadd"/><stop offset="0.403" stop-color="#8ecfd8"/><stop offset="0.450" stop-color="#9ed6cb"/><stop offset="0.613" stop-color="#a8dac8"/><stop offset="0.777" stop-color="#9ad5ce"/><stop offset="0.824" stop-color="#8bcfd9"/><stop offset="0.870" stop-color="#5ec1e0"/><stop offset="0.894" stop-color="#47b7e0"/><stop offset="1.000" stop-color="#3aaae0"/></linearGradient><linearGradient id="hm126" gradientUnits="userSpaceOnUse" x2="85.60" spreadMethod="reflect"><stop offset="0.006" stop-color="#5f4770"/><stop offset="0.076" stop-color="#494791"/><stop offset="0.251" stop-color="#3b57b5"/><stop offset="0.321" stop-color="#3a76ca"/><stop offset="0.356" stop-color="#389cdb"/><stop offset="0.368" stop-color="#3dacdf"/><stop offset="0.380" stop-color="#49b7df"/><stop offset="0.391" stop-color="#6cc5df"/><stop offset="0.403" stop-color="#83ccdb"/><stop offset="0.415" stop-color="#91d0d6"/><stop offset="0.473" stop-color="#9fd7cb"/><stop offset="0.637" stop-color="#a7d9c8"/><stop offset="0.800" stop-color="#97d3d1"/><stop offset="0.835" stop-color="#8dcfd9"/><stop offset="0.882" stop-color="#65c4e0"/><stop offset="0.905" stop-color="#4cb9e0"/><stop offset="0.987" stop-color="#3dade0"/><stop offset="1.000" stop-color="#3dade0"/></linearGradient><linearGradient id="hm127" gradientUnits="userSpaceOnUse" x2="85.60" spreadMethod="reflect"><stop offset="0.006" stop-color="#5f4770"/><stop offset="0.076" stop-color="#494791"/><stop offset="0.251" stop-color="#3c57b5"/><stop offset="0.321" stop-color="#3a72c8"/><stop offset="0.356" stop-color="#3893d8"/><stop offset="0.380" stop-color="#41b0df"/><stop offset="0.391" stop-color="#55bcdf"/><stop offset="0.403" stop-color="#76c9de"/><stop offset="0.415" stop-color="#89ced9"/><stop offset="0.450" stop-color="#9bd5cd"/><stop offset="0.625" stop-color="#a8dac8"/><stop offset="0.812" stop-color="#97d4d1"/><stop offset="0.859" stop-color="#87ceda"/><stop offset="0.905" stop-color="#60c2e0"/><stop offset="0.940" stop-color="#46b6e0"/><stop offset="1.000" stop-color="#40b0e0"/></linearGradient><linearGradient id="hm128" gradientUnits="userSpaceOnUse" x2="85.60" spreadMethod="reflect"><stop offset="0.006" stop-color="#5f4770"/><stop offset="0.076" stop-color="#494791"/><stop offset="0.251" stop-color="#3c56b4"/><stop offset="0.321" stop-color="#3b6fc6"/><stop offset="0.356" stop-color="#398cd5"/><stop offset="0.380" stop-color="#3caadf"/><stop offset="0.391" stop-color="#45b4df"/><stop offset="0.415" stop-color="#7ccadd"/><stop offset="0.426" stop-color="#8dcfd8"/><stop offset="0.485" stop-color="#9ed7cb"/><stop offset="0.660" stop-color="#a7d9c9"/><stop offset="0.824" stop-color="#98d4d0"/><stop offset="0.870" stop-color="#8bcfd9"/><stop offset="0.952" stop-color="#4dbae0"/><stop offset="1.000" stop-color="#44b4e0"/></linearGradient><linearGradient id="hm129" gradientUnits="userSpaceOnUse" x2="85.60" spreadMethod="reflect"><stop offset="0.006" stop-color="#5f4770"/><stop offset="0.076" stop-color="#494791"/><stop offset="0.251" stop-color="#3c56b4"/><stop offset="0.333" stop-color="#3a74c9"/><stop offset="0.368" stop-color="#3892d8"/><stop offset="0.391" stop-color="#3faedf"/><stop offset="0.403" stop-color="#4cb8df"/><stop offset="0.415" stop-color="#6bc5df"/><stop offset="0.438" stop-color="#8fd0d7"/><stop offset="0.496" stop-color="#9ed7cb"/><stop offset="0.672" stop-color="#a7d9c9"/><stop offset="0.835" stop-color="#99d4cf"/><stop offset="0.894" stop-color="#87ceda"/><stop offset="0.987" stop-color="#4fbbe0"/><stop offset="1.000" stop-color="#4dbae0"/></linearGradient><linearGradient id="hm130" gradientUnits="userSpaceOnUse" x2="85.60" spreadMethod="reflect"><stop offset="0.006" stop-color="#5f4770"/><stop offset="0.076" stop-color="#494790"/><stop offset="0.263" stop-color="#3b57b5"/><stop offset="0.333" stop-color="#3a70c7"/><stop offset="0.380" stop-color="#3899da"/><stop offset="0.403" stop-color="#42b1df"/><stop offset="0.415" stop-color="#53bce0"/><stop offset="0.426" stop-color="#71c8df"/><stop offset="0.450" stop-color="#90d0d7"/><stop offset="0.508" stop-color="#9ed7cb"/><stop offset="0.695" stop-color="#a6d9c9"/><stop offset="0.859" stop-color="#97d4d1"/><stop offset="0.905" stop-color="#8dcfd9"/><stop offset="0.999" stop-color="#63c3e0"/><stop offset="1.000" stop-color="#63c3e0"/></linearGradient><linearGradient id="hm131" gradientUnits="userSpaceOnUse" x2="85.60" spreadMethod="reflect"><stop offset="0.006" stop-color="#5f4770"/><stop offset="0.076" stop-color="#494790"/><stop offset="0.263" stop-color="#3b57b5"/><stop offset="0.345" stop-color="#3a74c9"/><stop offset="0.380" stop-color="#3890d7"/><stop offset="0.403" stop-color="#3cabdf"/><stop offset="0.415" stop-color="#44b3e0"/><stop offset="0.438" stop-color="#75c9de"/><stop offset="0.461" stop-color="#91d0d7"/><stop offset="0.520" stop-color="#9ed7cb"/><stop offset="0.707" stop-color="#a6d9c9"/><stop offset="0.882" stop-color="#96d3d2"/><stop offset="0.940" stop-color="#87ceda"/><stop offset="0.999" stop-color="#76c9df"/><stop offset="1.000" stop-color="#76c9df"/></linearGradient><linearGradient id="hm132" gradientUnits="userSpaceOnUse" x2="85.60" spreadMethod="reflect"><stop offset="0.006" stop-color="#5f4770"/><stop offset="0.076" stop-color="#494690"/><stop offset="0.263" stop-color="#3b56b4"/><stop offset="0.345" stop-color="#3a71c8"/><stop offset="0.391" stop-color="#3895d9"/><stop offset="0.415" stop-color="#3eade0"/><stop offset="0.426" stop-color="#47b5e0"/><stop offset="0.450" stop-color="#77c9de"/><stop offset="0.473" stop-color="#91d0d7"/><stop offset="0.543" stop-color="#9fd7cb"/><stop offset="0.730" stop-color="#a6d9c9"/><stop offset="0.905" stop-color="#96d3d2"/><stop offset="1.000" stop-color="#83cddb"/></linearGradient><linearGradient id="hm133" gradientUnits="userSpaceOnUse" x2="85.60" spreadMethod="reflect"><stop offset="0.006" stop-color="#5f4770"/><stop offset="0.076" stop-color="#494690"/><stop offset="0.263" stop-color="#3b55b3"/><stop offset="0.356" stop-color="#3a74c9"/><stop offset="0.403" stop-color="#389adb"/><stop offset="0.426" stop-color="#3fafe0"/><stop offset="0.438" stop-color="#49b7e0"/><stop offset="0.461" stop-color="#77cade"/><stop offset="0.485" stop-color="#90d0d7"/><stop offset="0.555" stop-color="#9fd7cb"/><stop offset="0.754" stop-color="#a5d9c9"/><stop offset="0.929" stop-color="#96d3d2"/><stop offset="1.000" stop-color="#8fd0d8"/></linearGradient><linearGradient id="hm134" gradientUnits="userSpaceOnUse" x2="85.60" spreadMethod="reflect"><stop offset="0.006" stop-color="#5f4770"/><stop offset="0.076" stop-color="#494690"/><stop offset="0.275" stop-color="#3b56b5"/><stop offset="0.368" stop-color="#3a78cb"/><stop offset="0.415" stop-color="#389ddc"/><stop offset="0.438" stop-color="#40b0e0"/><stop offset="0.450" stop-color="#4ab8e0"/><stop offset="0.473" stop-color="#77c9de"/><stop offset="0.496" stop-color="#8fd0d7"/><stop offset="0.578" stop-color="#9fd7cb"/><stop offset="0.777" stop-color="#a4d9c9"/><stop offset="0.975" stop-color="#95d2d3"/><stop offset="1.000" stop-color="#94d2d4"/></linearGradient><linearGradient id="hm135" gradientUnits="userSpaceOnUse" x2="85.60" spreadMethod="reflect"><stop offset="0.006" stop-color="#5f4770"/><stop offset="0.076" stop-color="#494690"/><stop offset="0.275" stop-color="#3b56b4"/><stop offset="0.368" stop-color="#3a73c9"/><stop offset="0.415" stop-color="#3894d9"/><stop offset="0.450" stop-color="#41b1e0"/><stop offset="0.461" stop-color="#4ab8e0"/><stop offset="0.485" stop-color="#76c9de"/><stop offset="0.508" stop-color="#8ecfd8"/><stop offset="0.590" stop-color="#9fd7cb"/><stop offset="0.789" stop-color="#a4d9c9"/><stop offset="1.000" stop-color="#97d4d1"/></linearGradient><linearGradient id="hm136" gradientUnits="userSpaceOnUse" x2="85.60" spreadMethod="reflect"><stop offset="0.006" stop-color="#5f4770"/><stop offset="0.076" stop-color="#494690"/><stop offset="0.275" stop-color="#3b55b3"/><stop offset="0.380" stop-color="#3a76cb"/><stop offset="0.426" stop-color="#3896da"/><stop offset="0.461" stop-color="#41b1e0"/><stop offset="0.473" stop-color="#4ab8e0"/><stop offset="0.496" stop-color="#73c8df"/><stop offset="0.532" stop-color="#91d1d6"/><stop offset="0.613" stop-color="#9fd7cb"/><stop offset="0.824" stop-color="#a2d8ca"/><stop offset="1.000" stop-color="#9bd5cd"/></linearGradient><linearGradient id="hm137" gradientUnits="userSpaceOnUse" x2="85.60" spreadMethod="reflect"><stop offset="0.006" stop-color="#5f4770"/><stop offset="0.076" stop-color="#494690"/><stop offset="0.275" stop-color="#3b54b3"/><stop offset="0.380" stop-color="#3a72c8"/><stop offset="0.438" stop-color="#3898da"/><stop offset="0.473" stop-color="#41b1e0"/><stop offset="0.485" stop-color="#48b7e0"/><stop offset="0.508" stop-color="#6fc7df"/><stop offset="0.543" stop-color="#8fd0d8"/><stop offset="0.637" stop-color="#9fd7cb"/><stop offset="0.882" stop-color="#a0d7cb"/><stop offset="1.000" stop-color="#9dd6cc"/></linearGradient><linearGradient id="hm138" gradientUnits="userSpaceOnUse" x2="85.60" spreadMethod="reflect"><stop offset="0.006" stop-color="#5f4770"/><stop offset="0.076" stop-color="#494690"/><stop offset="0.275" stop-color="#3b54b2"/><stop offset="0.391" stop-color="#3a74ca"/><stop offset="0.450" stop-color="#3899db"/><stop offset="0.496" stop-color="#47b6e0"/><stop offset="0.532" stop-color="#78cade"/><stop offset="0.567" stop-color="#91d1d7"/><stop offset="0.672" stop-color="#9fd7cb"/><stop offset="1.000" stop-color="#9ed7cb"/></linearGradient><linearGradient id="hm139" gradientUnits="userSpaceOnUse" x2="85.60" spreadMethod="reflect"><stop offset="0.006" stop-color="#5f4770"/><stop offset="0.076" stop-color="#494690"/><stop offset="0.275" stop-color="#3b53b1"/><stop offset="0.391" stop-color="#3a70c8"/><stop offset="0.461" stop-color="#389adb"/><stop offset="0.508" stop-color="#45b5e0"/><stop offset="0.520" stop-color="#4fbbe0"/><stop offset="0.543" stop-color="#72c8df"/><stop offset="0.590" stop-color="#92d1d6"/><stop offset="0.707" stop-color="#9fd7cb"/><stop offset="1.000" stop-color="#9ed7cb"/></linearGradient><linearGradient id="hm140" gradientUnits="userSpaceOnUse" x2="85.60" spreadMethod="reflect"><stop offset="0.006" stop-color="#5f4770"/><stop offset="0.076" stop-color="#494690"/><stop offset="0.275" stop-color="#3b52b1"/><stop offset="0.391" stop-color="#3a6dc6"/><stop offset="0.473" stop-color="#389adb"/><stop offset="0.520" stop-color="#43b3e0"/><stop offset="0.532" stop-color="#4ab8e0"/><stop offset="0.567" stop-color="#76c9de"/><stop offset="0.613" stop-color="#92d1d6"/><stop offset="0.742" stop-color="#9fd7cb"/><stop offset="1.000" stop-color="#9fd7cb"/></linearGradient><linearGradient id="hm141" gradientUnits="userSpaceOnUse" x2="85.60" spreadMethod="reflect"><stop offset="0.006" stop-color="#5f4770"/><stop offset="0.076" stop-color="#494690"/><stop offset="0.275" stop-color="#3b51b0"/><stop offset="0.403" stop-color="#3a6ec6"/><stop offset="0.485" stop-color="#3899db"/><stop offset="0.532" stop-color="#42b2e0"/><stop offset="0.555" stop-color="#51bbe0"/><stop offset="0.590" stop-color="#78cade"/><stop offset="0.637" stop-color="#91d0d7"/><stop offset="0.789" stop-color="#9ed7cb"/><stop offset="1.000" stop-color="#9ed7cb"/></linearGradient><linearGradient id="hm142" gradientUnits="userSpaceOnUse" x2="85.60" spreadMethod="reflect"><stop offset="0.006" stop-color="#5f4770"/><stop offset="0.076" stop-color="#494690"/><stop offset="0.275" stop-color="#3b51af"/><stop offset="0.403" stop-color="#3a6cc5"/><stop offset="0.496" stop-color="#3899db"/><stop offset="0.543" stop-color="#40b0e0"/><stop offset="0.567" stop-color="#4ab8e0"/><stop offset="0.613" stop-color="#77cade"/><stop offset="0.672" stop-color="#92d1d6"/><stop offset="0.859" stop-color="#9ed7cb"/><stop offset="1.000" stop-color="#9dd6cc"/></linearGradient><linearGradient id="hm143" gradientUnits="userSpaceOnUse" x2="85.60" spreadMethod="reflect"><stop offset="0.006" stop-color="#5f4770"/><stop offset="0.076" stop-color="#494690"/><stop offset="0.275" stop-color="#3b50af"/><stop offset="0.403" stop-color="#3a69c3"/><stop offset="0.508" stop-color="#3897da"/><stop offset="0.555" stop-color="#3eaee0"/><stop offset="0.590" stop-color="#4cb9e0"/><stop offset="0.637" stop-color="#76c9de"/><stop offset="0.707" stop-color="#91d1d7"/><stop offset="0.964" stop-color="#9cd6cc"/><stop offset="1.000" stop-color="#9cd6cc"/></linearGradient><linearGradient id="hm144" gradientUnits="userSpaceOnUse" x2="85.60" spreadMethod="reflect"><stop offset="0.006" stop-color="#5f4770"/><stop offset="0.076" stop-color="#49468f"/><stop offset="0.263" stop-color="#3c4eac"/><stop offset="0.391" stop-color="#3a64bf"/><stop offset="0.485" stop-color="#3985d2"/><stop offset="0.567" stop-color="#3dade0"/><stop offset="0.613" stop-color="#4dbae0"/><stop offset="0.660" stop-color="#73c9df"/><stop offset="0.754" stop-color="#91d1d7"/><stop offset="1.000" stop-color="#98d4d0"/></linearGradient><linearGradient id="hm145" gradientUnits="userSpaceOnUse" x2="85.60" spreadMethod="reflect"><stop offset="0.006" stop-color="#5f4770"/><stop offset="0.076" stop-color="#49468f"/><stop offset="0.251" stop-color="#3c4dab"/><stop offset="0.391" stop-color="#3a61be"/><stop offset="0.485" stop-color="#397fcf"/><stop offset="0.578" stop-color="#3babe0"/><stop offset="0.637" stop-color="#4cb9e0"/><stop offset="0.695" stop-color="#74c9df"/><stop offset="0.812" stop-color="#90d0d7"/><stop offset="1.000" stop-color="#94d2d4"/></linearGradient><linearGradient id="hm146" gradientUnits="userSpaceOnUse" x2="85.60" spreadMethod="reflect"><stop offset="0.006" stop-color="#5f4770"/><stop offset="0.076" stop-color="#49468f"/><stop offset="0.251" stop-color="#3c4caa"/><stop offset="0.403" stop-color="#3a62be"/><stop offset="0.508" stop-color="#3983d2"/><stop offset="0.602" stop-color="#3cace0"/><stop offset="0.672" stop-color="#50bbe0"/><stop offset="0.730" stop-color="#72c8df"/><stop offset="0.882" stop-color="#8dcfd9"/><stop offset="1.000" stop-color="#8fd0d8"/></linearGradient><linearGradient id="hm147" gradientUnits="userSpaceOnUse" x2="85.60" spreadMethod="reflect"><stop offset="0.006" stop-color="#5f4770"/><stop offset="0.076" stop-color="#49468f"/><stop offset="0.239" stop-color="#3c4ba8"/><stop offset="0.403" stop-color="#3a5fbd"/><stop offset="0.508" stop-color="#397ecf"/><stop offset="0.625" stop-color="#3cace0"/><stop offset="0.695" stop-color="#4cb9e0"/><stop offset="0.777" stop-color="#71c8df"/><stop offset="0.952" stop-color="#83cddb"/><stop offset="1.000" stop-color="#84cddb"/></linearGradient><linearGradient id="hm148" gradientUnits="userSpaceOnUse" x2="85.60" spreadMethod="reflect"><stop offset="0.006" stop-color="#5f4770"/><stop offset="0.076" stop-color="#49468f"/><stop offset="0.239" stop-color="#3c4aa8"/><stop offset="0.415" stop-color="#3a60bd"/><stop offset="0.532" stop-color="#3981d1"/><stop offset="0.648" stop-color="#3cace0"/><stop offset="0.742" stop-color="#50bbe0"/><stop offset="0.835" stop-color="#70c8e0"/><stop offset="1.000" stop-color="#78cade"/></linearGradient><linearGradient id="hm149" gradientUnits="userSpaceOnUse" x2="85.60" spreadMethod="reflect"><stop offset="0.006" stop-color="#5f4770"/><stop offset="0.076" stop-color="#49468f"/><stop offset="0.239" stop-color="#3c4aa7"/><stop offset="0.426" stop-color="#3a60bd"/><stop offset="0.555" stop-color="#3984d2"/><stop offset="0.672" stop-color="#3cace0"/><stop offset="0.789" stop-color="#50bbe0"/><stop offset="0.917" stop-color="#6bc6e0"/><stop offset="1.000" stop-color="#6ec7e0"/></linearGradient><linearGradient id="hm150" gradientUnits="userSpaceOnUse" x2="85.60" spreadMethod="reflect"><stop offset="0.006" stop-color="#5f4770"/><stop offset="0.076" stop-color="#49468f"/><stop offset="0.239" stop-color="#3c4aa7"/><stop offset="0.438" stop-color="#3a60bd"/><stop offset="0.578" stop-color="#3986d3"/><stop offset="0.695" stop-color="#3babe0"/><stop offset="0.964" stop-color="#5dc0e0"/><stop offset="1.000" stop-color="#5dc0e0"/></linearGradient><linearGradient id="hm151" gradientUnits="userSpaceOnUse" x2="85.60" spreadMethod="reflect"><stop offset="0.006" stop-color="#5f4770"/><stop offset="0.076" stop-color="#49468f"/><stop offset="0.239" stop-color="#3c49a7"/><stop offset="0.450" stop-color="#3a60bd"/><stop offset="0.602" stop-color="#3987d3"/><stop offset="0.730" stop-color="#3babe0"/><stop offset="1.000" stop-color="#4dbae0"/></linearGradient><linearGradient id="hm152" gradientUnits="userSpaceOnUse" x2="85.60" spreadMethod="reflect"><stop offset="0.006" stop-color="#5f4770"/><stop offset="0.076" stop-color="#49468f"/><stop offset="0.239" stop-color="#3d49a6"/><stop offset="0.461" stop-color="#3a60bd"/><stop offset="0.637" stop-color="#388bd5"/><stop offset="0.754" stop-color="#3aaae0"/><stop offset="1.000" stop-color="#45b5e0"/></linearGradient><linearGradient id="hm153" gradientUnits="userSpaceOnUse" x2="85.60" spreadMethod="reflect"><stop offset="0.006" stop-color="#5f4770"/><stop offset="0.076" stop-color="#49468f"/><stop offset="0.239" stop-color="#3d48a6"/><stop offset="0.473" stop-color="#3a5fbd"/><stop offset="0.683" stop-color="#3890d8"/><stop offset="0.800" stop-color="#3aaae0"/><stop offset="1.000" stop-color="#42b2e0"/></linearGradient><linearGradient id="hm154" gradientUnits="userSpaceOnUse" x2="85.60" spreadMethod="reflect"><stop offset="0.006" stop-color="#5f4770"/><stop offset="0.076" stop-color="#49468f"/><stop offset="0.239" stop-color="#3d48a6"/><stop offset="0.485" stop-color="#3a5fbc"/><stop offset="0.824" stop-color="#38a7e0"/><stop offset="1.000" stop-color="#3eaee0"/></linearGradient><linearGradient id="hm155" gradientUnits="userSpaceOnUse" x2="85.60" spreadMethod="reflect"><stop offset="0.006" stop-color="#5f4770"/><stop offset="0.076" stop-color="#49468f"/><stop offset="0.239" stop-color="#3d48a5"/><stop offset="0.496" stop-color="#3a5ebc"/><stop offset="0.847" stop-color="#38a2de"/><stop offset="1.000" stop-color="#3aaae0"/></linearGradient><linearGradient id="hm156" gradientUnits="userSpaceOnUse" x2="85.60" spreadMethod="reflect"><stop offset="0.006" stop-color="#5f4770"/><stop offset="0.076" stop-color="#49468f"/><stop offset="0.239" stop-color="#3d47a5"/><stop offset="0.520" stop-color="#3a5fbd"/><stop offset="0.870" stop-color="#389cdc"/><stop offset="1.000" stop-color="#38a2de"/></linearGradient><linearGradient id="hm157" gradientUnits="userSpaceOnUse" x2="85.60" spreadMethod="reflect"><stop offset="0.006" stop-color="#5f4770"/><stop offset="0.076" stop-color="#49468f"/><stop offset="0.239" stop-color="#3d47a5"/><stop offset="0.532" stop-color="#3a5ebc"/><stop offset="0.870" stop-color="#3892d9"/><stop offset="1.000" stop-color="#3899db"/></linearGradient><linearGradient id="hm158" gradientUnits="userSpaceOnUse" x2="85.60" spreadMethod="reflect"><stop offset="0.006" stop-color="#5f4770"/><stop offset="0.076" stop-color="#49468e"/><stop offset="0.239" stop-color="#3d47a4"/><stop offset="0.543" stop-color="#3a5dbc"/><stop offset="0.882" stop-color="#388cd6"/><stop offset="1.000" stop-color="#3890d8"/></linearGradient><linearGradient id="hm159" gradientUnits="userSpaceOnUse" x2="85.60" spreadMethod="reflect"><stop offset="0.006" stop-color="#5f4770"/><stop offset="0.076" stop-color="#49468e"/><stop offset="0.239" stop-color="#3d46a4"/><stop offset="0.567" stop-color="#3a5ebc"/><stop offset="0.905" stop-color="#3987d3"/><stop offset="1.000" stop-color="#3889d4"/></linearGradient><linearGradient id="hm160" gradientUnits="userSpaceOnUse" x2="85.60" spreadMethod="reflect"><stop offset="0.006" stop-color="#5f4770"/><stop offset="0.076" stop-color="#49468e"/><stop offset="0.239" stop-color="#3d46a4"/><stop offset="0.590" stop-color="#3a5ebc"/><stop offset="0.929" stop-color="#3981d1"/><stop offset="1.000" stop-color="#3982d1"/></linearGradient><linearGradient id="hm161" gradientUnits="userSpaceOnUse" x2="85.60" spreadMethod="reflect"><stop offset="0.006" stop-color="#5f4770"/><stop offset="0.076" stop-color="#49468e"/><stop offset="0.239" stop-color="#3d46a3"/><stop offset="0.613" stop-color="#3a5ebc"/><stop offset="0.964" stop-color="#397bce"/><stop offset="1.000" stop-color="#397cce"/></linearGradient><linearGradient id="hm162" gradientUnits="userSpaceOnUse" x2="85.60" spreadMethod="reflect"><stop offset="0.006" stop-color="#5f4770"/><stop offset="0.076" stop-color="#49468e"/><stop offset="0.239" stop-color="#3d46a3"/><stop offset="0.637" stop-color="#3a5ebc"/><stop offset="0.975" stop-color="#3a75ca"/><stop offset="1.000" stop-color="#3a75cb"/></linearGradient><linearGradient id="hm163" gradientUnits="userSpaceOnUse" x2="85.60" spreadMethod="reflect"><stop offset="0.006" stop-color="#5f4770"/><stop offset="0.076" stop-color="#49468e"/><stop offset="0.228" stop-color="#3d46a2"/><stop offset="0.648" stop-color="#3a5cbb"/><stop offset="0.964" stop-color="#3a6fc7"/><stop offset="1.000" stop-color="#3a6fc7"/></linearGradient><linearGradient id="hm164" gradientUnits="userSpaceOnUse" x2="85.60" spreadMethod="reflect"><stop offset="0.006" stop-color="#5f4770"/><stop offset="0.076" stop-color="#49468e"/><stop offset="0.228" stop-color="#3d46a2"/><stop offset="0.672" stop-color="#3a5cba"/><stop offset="0.987" stop-color="#3a6bc5"/><stop offset="1.000" stop-color="#3a6bc5"/></linearGradient><linearGradient id="hm165" gradientUnits="userSpaceOnUse" x2="85.60" spreadMethod="reflect"><stop offset="0.006" stop-color="#5f4770"/><stop offset="0.076" stop-color="#49468e"/><stop offset="0.228" stop-color="#3d45a1"/><stop offset="0.718" stop-color="#3a5dbb"/><stop offset="1.000" stop-color="#3a68c2"/></linearGradient><linearGradient id="hm166" gradientUnits="userSpaceOnUse" x2="85.60" spreadMethod="reflect"><stop offset="0.006" stop-color="#5f4770"/><stop offset="0.076" stop-color="#49468e"/><stop offset="0.228" stop-color="#3d45a1"/><stop offset="0.777" stop-color="#3a5dbc"/><stop offset="1.000" stop-color="#3a64c0"/></linearGradient><linearGradient id="hm167" gradientUnits="userSpaceOnUse" x2="85.60" spreadMethod="reflect"><stop offset="0.006" stop-color="#5f4770"/><stop offset="0.076" stop-color="#49468e"/><stop offset="0.228" stop-color="#3d45a1"/><stop offset="0.987" stop-color="#3a61be"/><stop offset="1.000" stop-color="#3a61be"/></linearGradient><linearGradient id="hm168" gradientUnits="userSpaceOnUse" x2="85.60" spreadMethod="reflect"><stop offset="0.006" stop-color="#5f4770"/><stop offset="0.076" stop-color="#49468e"/><stop offset="0.228" stop-color="#3d45a1"/><stop offset="0.999" stop-color="#3a5dbb"/><stop offset="1.000" stop-color="#3a5dbb"/></linearGradient><linearGradient id="hm169" gradientUnits="userSpaceOnUse" x2="85.60" spreadMethod="reflect"><stop offset="0.006" stop-color="#5f4770"/><stop offset="0.076" stop-color="#4a468e"/><stop offset="0.228" stop-color="#3d45a1"/><stop offset="1.000" stop-color="#3a5ab9"/></linearGradient><linearGradient id="hm170" gradientUnits="userSpaceOnUse" x2="85.60" spreadMethod="reflect"><stop offset="0.006" stop-color="#5f4770"/><stop offset="0.076" stop-color="#4a468e"/><stop offset="0.228" stop-color="#3d45a0"/><stop offset="1.000" stop-color="#3a57b7"/></linearGradient><linearGradient id="hm171" gradientUnits="userSpaceOnUse" x2="85.60" spreadMethod="reflect"><stop offset="0.006" stop-color="#5f4770"/><stop offset="0.076" stop-color="#4a468e"/><stop offset="0.228" stop-color="#3d45a0"/><stop offset="1.000" stop-color="#3a56b6"/></linearGradient><linearGradient id="hm172" gradientUnits="userSpaceOnUse" x2="85.60" spreadMethod="reflect"><stop offset="0.006" stop-color="#5f4770"/><stop offset="0.076" stop-color="#4a468e"/><stop offset="0.228" stop-color="#3d45a0"/><stop offset="1.000" stop-color="#3a54b4"/></linearGradient><linearGradient id="hm173" gradientUnits="userSpaceOnUse" x2="85.60" spreadMethod="reflect"><stop offset="0.006" stop-color="#5f4770"/><stop offset="0.076" stop-color="#4a468e"/><stop offset="0.228" stop-color="#3d45a0"/><stop offset="1.000" stop-color="#3a52b2"/></linearGradient><linearGradient id="hm174" gradientUnits="userSpaceOnUse" x2="85.60" spreadMethod="reflect"><stop offset="0.006" stop-color="#5f4770"/><stop offset="0.076" stop-color="#4a468e"/><stop offset="0.228" stop-color="#3d45a0"/><stop offset="1.000" stop-color="#3a51b1"/></linearGradient><linearGradient id="hm175" gradientUnits="userSpaceOnUse" x2="85.60" spreadMethod="reflect"><stop offset="0.006" stop-color="#5f4770"/><stop offset="0.076" stop-color="#4a468e"/><stop offset="0.228" stop-color="#3d45a0"/><stop offset="1.000" stop-color="#3a4faf"/></linearGradient><linearGradient id="hm176" gradientUnits="userSpaceOnUse" x2="85.60" spreadMethod="reflect"><stop offset="0.006" stop-color="#5f4770"/><stop offset="0.076" stop-color="#4a468e"/><stop offset="0.228" stop-color="#3d45a0"/><stop offset="1.000" stop-color="#3b4eae"/></linearGradient><linearGradient id="hm177" gradientUnits="userSpaceOnUse" x2="85.60" spreadMethod="reflect"><stop offset="0.006" stop-color="#5f4770"/><stop offset="0.076" stop-color="#4a468e"/><stop offset="0.228" stop-color="#3d45a0"/><stop offset="1.000" stop-color="#3b4dad"/></linearGradient><linearGradient id="hm178" gradientUnits="userSpaceOnUse" x2="85.60" spreadMethod="reflect"><stop offset="0.006" stop-color="#5f4770"/><stop offset="0.076" stop-color="#4a468e"/><stop offset="0.228" stop-color="#3d45a0"/><stop offset="1.000" stop-color="#3b4cac"/></linearGradient><linearGradient id="hm179" gradientUnits="userSpaceOnUse" x2="85.60" spreadMethod="reflect"><stop offset="0.006" stop-color="#5f4770"/><stop offset="0.076" stop-color="#4a468e"/><stop offset="0.216" stop-color="#3d459f"/><stop offset="1.000" stop-color="#3b4bab"/></linearGradient><linearGradient id="hm180" gradientUnits="userSpaceOnUse" x2="85.60" spreadMethod="reflect"><stop offset="0.006" stop-color="#5f4770"/><stop offset="0.076" stop-color="#4a468e"/><stop offset="0.216" stop-color="#3d459f"/><stop offset="1.000" stop-color="#3b4aaa"/></linearGradient><linearGradient id="hm181" gradientUnits="userSpaceOnUse" x2="85.60" spreadMethod="reflect"><stop offset="0.006" stop-color="#5f4770"/><stop offset="0.076" stop-color="#4a468e"/><stop offset="0.216" stop-color="#3d459f"/><stop offset="1.000" stop-color="#3b49a9"/></linearGradient><linearGradient id="hm182" gradientUnits="userSpaceOnUse" x2="85.60" spreadMethod="reflect"><stop offset="0.006" stop-color="#5f4770"/><stop offset="0.076" stop-color="#4a468e"/><stop offset="0.216" stop-color="#3d459f"/><stop offset="1.000" stop-color="#3b48a8"/></linearGradient><linearGradient id="hm183" gradientUnits="userSpaceOnUse" x2="85.60" spreadMethod="reflect"><stop offset="0.006" stop-color="#5f4770"/><stop offset="0.076" stop-color="#4a458e"/><stop offset="0.216" stop-color="#3d459f"/><stop offset="1.000" stop-color="#3b48a8"/></linearGradient><linearGradient id="hm184" gradientUnits="userSpaceOnUse" x2="85.60" spreadMethod="reflect"><stop offset="0.006" stop-color="#5f4770"/><stop offset="0.076" stop-color="#4a458e"/><stop offset="0.216" stop-color="#3d459f"/><stop offset="1.000" stop-color="#3b47a7"/></linearGradient><linearGradient id="hm185" gradientUnits="userSpaceOnUse" x2="85.60" spreadMethod="reflect"><stop offset="0.006" stop-color="#5f4770"/><stop offset="0.076" stop-color="#4a458e"/><stop offset="0.216" stop-color="#3d459f"/><stop offset="1.000" stop-color="#3b47a7"/></linearGradient><linearGradient id="hm186" gradientUnits="userSpaceOnUse" x2="85.60" spreadMethod="reflect"><stop offset="0.006" stop-color="#5f4770"/><stop offset="0.076" stop-color="#4a458e"/><stop offset="0.216" stop-color="#3d459f"/><stop offset="1.000" stop-color="#3b46a6"/></linearGradient><linearGradient id="hm187" gradientUnits="userSpaceOnUse" x2="85.60" spreadMethod="reflect"><stop offset="0.006" stop-color="#5f4770"/><stop offset="0.076" stop-color="#4a458e"/><stop offset="0.216" stop-color="#3d459f"/><stop offset="1.000" stop-color="#3b46a5"/></linearGradient><linearGradient id="hm188" gradientUnits="userSpaceOnUse" x2="85.60" spreadMethod="reflect"><stop offset="0.006" stop-color="#5f4770"/><stop offset="0.076" stop-color="#4a458e"/><stop offset="0.216" stop-color="#3d459f"/><stop offset="1.000" stop-color="#3b46a5"/></linearGradient></defs>
<rect y="0" width="170" height="4" fill="url(#hm0)"/>
<rect y="1" width="170" height="4" fill="url(#hm1)"/>
<rect y="2" width="170" height="4" fill="url(#hm2)"/>
<rect y="3" width="170" height="4" fill="url(#hm3)"/>
<rect y="4" width="170" height="4" fill="url(#hm4)"/>
<rect y="5" width="170" height="4" fill="url(#hm5)"/>
<rect y="6" width="170" height="4" fill="url(#hm6)"/>
<rect y="7" width="170" height="4" fill="url(#hm7)"/>
<rect y="8" width="170" height="4" fill="url(#hm8)"/>
<rect y="9" width="170" height="4" fill="url(#hm9)"/>
<rect y="10" width="170" height="4" fill="url(#hm10)"/>
<rect y="11" width="170" height="4" fill="url(#hm11)"/>
<rect y="12" width="170" height="4" fill="url(#hm12)"/>
<rect y="13" width="170" height="4" fill="url(#hm13)"/>
<rect y="14" width="170" height="4" fill="url(#hm14)"/>
<rect y="15" width="170" height="4" fill="url(#hm15)"/>
<rect y="16" width="170" height="4" fill="url(#hm16)"/>
<rect y="17" width="170" height="4" fill="url(#hm17)"/>
<rect y="18" width="170" height="4" fill="url(#hm18)"/>
<rect y="19" width="170" height="4" fill="url(#hm19)"/>
<rect y="20" width="170" height="4" fill="url(#hm20)"/>
<rect y="21" width="170" height="4" fill="url(#hm21)"/>
<rect y="22" width="170" height="4" fill="url(#hm22)"/>
<rect y="23" width="170" height="4" fill="url(#hm23)"/>
<rect y="24" width="170" height="4" fill="url(#hm24)"/>
<rect y="25" width="170" height="4" fill="url(#hm25)"/>
<rect y="26" width="170" height="4" fill="url(#hm26)"/>
<rect y="27" width="170" height="4" fill="url(#hm27)"/>
<rect y="28" width="170" height="4" fill="url(#hm28)"/>
<rect y="29" width="170" height="4" fill="url(#hm29)"/>
<rect y="30" width="170" height="4" fill="url(#hm30)"/>
<rect y="31" width="170" height="4" fill="url(#hm31)"/>
<rect y="32" width="170" height="4" fill="url(#hm32)"/>
<rect y="33" width="170" height="4" fill="url(#hm33)"/>
<rect y="34" width="170" height="4" fill="url(#hm34)"/>
<rect y="35" width="170" height="4" fill="url(#hm35)"/>
<rect y="36" width="170" height="4" fill="url(#hm36)"/>
<rect y="37" width="170" height="4" fill="url(#hm37)"/>
<rect y="38" width="170" height="4" fill="url(#hm38)"/>
<rect y="39" width="170" height="4" fill="url(#hm39)"/>
<rect y="40" width="170" height="4" fill="url(#hm40)"/>
<rect y="41" width="170" height="4" fill="url(#hm41)"/>
<rect y="42" width="170" height="4" fill="url(#hm42)"/>
<rect y="43" width="170" height="4" fill="url(#hm43)"/>
<rect y="44" width="170" height="4" fill="url(#hm44)"/>
<rect y="45" width="170" height="4" fill="url(#hm45)"/>
<rect y="46" width="170" height="4" fill="url(#hm46)"/>
<rect y="47" width="170" height="4" fill="url(#hm47)"/>
<rect y="48" width="170" height="4" fill="url(#hm48)"/>
<rect y="49" width="170" height="4" fill="url(#hm49)"/>
<rect y="50" width="170" height="4" fill="url(#hm50)"/>
<rect y="51" width="170" height="4" fill="url(#hm51)"/>
<rect y="52" width="170" height="4" fill="url(#hm52)"/>
<rect y="53" width="170" height="4" fill="url(#hm53)"/>
<rect y="54" width="170" height="4" fill="url(#hm54)"/>
<rect y="55" width="170" height="4" fill="url(#hm55)"/>
<rect y="56" width="170" height="4" fill="url(#hm56)"/>
<rect y="57" width="170" height="4" fill="url(#hm57)"/>
<rect y="58" width="170" height="4" fill="url(#hm58)"/>
<rect y="59" width="170" height="4" fill="url(#hm59)"/>
<rect y="60" width="170" height="4" fill="url(#hm60)"/>
<rect y="61" width="170" height="4" fill="url(#hm61)"/>
<rect y="62" width="170" height="4" fill="url(#hm62)"/>
<rect y="63" width="170" height="4" fill="url(#hm63)"/>
<rect y="64" width="170" height="4" fill="url(#hm64)"/>
<rect y="65" width="170" height="4" fill="url(#hm65)"/>
<rect y="66" width="170" height="4" fill="url(#hm66)"/>
<rect y="67" width="170" height="4" fill="url(#hm67)"/>
<rect y="68" width="170" height="4" fill="url(#hm68)"/>
<rect y="69" width="170" height="4" fill="url(#hm69)"/>
<rect y="70" width="170" height="4" fill="url(#hm70)"/>
<rect y="71" width="170" height="4" fill="url(#hm71)"/>
<rect y="72" width="170" height="4" fill="url(#hm72)"/>
<rect y="73" width="170" height="4" fill="url(#hm73)"/>
<rect y="74" width="170" height="4" fill="url(#hm74)"/>
<rect y="75" width="170" height="4" fill="url(#hm75)"/>
<rect y="76" width="170" height="4" fill="url(#hm76)"/>
<rect y="77" width="170" height="4" fill="url(#hm77)"/>
<rect y="78" width="170" height="4" fill="url(#hm78)"/>
<rect y="79" width="170" height="4" fill="url(#hm79)"/>
<rect y="80" width="170" height="4" fill="url(#hm80)"/>
<rect y="81" width="170" height="4" fill="url(#hm81)"/>
<rect y="82" width="170" height="4" fill="url(#hm82)"/>
<rect y="83" width="170" height="4" fill="url(#hm83)"/>
<rect y="84" width="170" height="4" fill="url(#hm84)"/>
<rect y="85" width="170" height="4" fill="url(#hm85)"/>
<rect y="86" width="170" height="4" fill="url(#hm86)"/>
<rect y="87" width="170" height="4" fill="url(#hm87)"/>
<rect y="88" width="170" height="4" fill="url(#hm88)"/>
<rect y="89" width="170" height="4" fill="url(#hm89)"/>
<rect y="90" width="170" height="4" fill="url(#hm90)"/>
<rect y="91" width="170" height="4" fill="url(#hm91)"/>
<rect y="92" width="170" height="4" fill="url(#hm92)"/>
<rect y="93" width="170" height="4" fill="url(#hm93)"/>
<rect y="94" width="170" height="4" fill="url(#hm94)"/>
<rect y="95" width="170" height="4" fill="url(#hm95)"/>
<rect y="96" width="170" height="4" fill="url(#hm96)"/>
<rect y="97" width="170" height="4" fill="url(#hm97)"/>
<rect y="98" width="170" height="4" fill="url(#hm98)"/>
<rect y="99" width="170" height="4" fill="url(#hm99)"/>
<rect y="100" width="170" height="4" fill="url(#hm100)"/>
<rect y="101" width="170" height="4" fill="url(#hm101)"/>
<rect y="102" width="170" height="4" fill="url(#hm102)"/>
<rect y="103" width="170" height="4" fill="url(#hm103)"/>
<rect y="104" width="170" height="4" fill="url(#hm104)"/>
<rect y="105" width="170" height="4" fill="url(#hm105)"/>
<rect y="106" width="170" height="4" fill="url(#hm106)"/>
<rect y="107" width="170" height="4" fill="url(#hm107)"/>
<rect y="108" width="170" height="4" fill="url(#hm108)"/>
<rect y="109" width="170" height="4" fill="url(#hm109)"/>
<rect y="110" width="170" height="4" fill="url(#hm110)"/>
<rect y="111" width="170" height="4" fill="url(#hm111)"/>
<rect y="112" width="170" height="4" fill="url(#hm112)"/>
<rect y="113" width="170" height="4" fill="url(#hm113)"/>
<rect y="114" width="170" height="4" fill="url(#hm114)"/>
<rect y="115" width="170" height="4" fill="url(#hm115)"/>
<rect y="116" width="170" height="4" fill="url(#hm116)"/>
<rect y="117" width="170" height="4" fill="url(#hm117)"/>
<rect y="118" width="170" height="4" fill="url(#hm118)"/>
<rect y="119" width="170" height="4" fill="url(#hm119)"/>
<rect y="120" width="170" height="4" fill="url(#hm120)"/>
<rect y="121" width="170" height="4" fill="url(#hm121)"/>
<rect y="122" width="170" height="4" fill="url(#hm122)"/>
<rect y="123" width="170" height="4" fill="url(#hm123)"/>
<rect y="124" width="170" height="4" fill="url(#hm124)"/>
<rect y="125" width="170" height="4" fill="url(#hm125)"/>
<rect y="126" width="170" height="4" fill="url(#hm126)"/>
<rect y="127" width="170" height="4" fill="url(#hm127)"/>
<rect y="128" width="170" height="4" fill="url(#hm128)"/>
<rect y="129" width="170" height="4" fill="url(#hm129)"/>
<rect y="130" width="170" height="4" fill="url(#hm130)"/>
<rect y="131" width="170" height="4" fill="url(#hm131)"/>
<rect y="132" width="170" height="4" fill="url(#hm132)"/>
<rect y="133" width="170" height="4" fill="url(#hm133)"/>
<rect y="134" width="170" height="4" fill="url(#hm134)"/>
<rect y="135" width="170" height="4" fill="url(#hm135)"/>
<rect y="136" width="170" height="4" fill="url(#hm136)"/>
<rect y="137" width="170" height="4" fill="url(#hm137)"/>
<rect y="138" width="170" height="4" fill="url(#hm138)"/>
<rect y="139" width="170" height="4" fill="url(#hm139)"/>
<rect y="140" width="170" height="4" fill="url(#hm140)"/>
<rect y="141" width="170" height="4" fill="url(#hm141)"/>
<rect y="142" width="170" height="4" fill="url(#hm142)"/>
<rect y="143" width="170" height="4" fill="url(#hm143)"/>
<rect y="144" width="170" height="4" fill="url(#hm144)"/>
<rect y="145" width="170" height="4" fill="url(#hm145)"/>
<rect y="146" width="170" height="4" fill="url(#hm146)"/>
<rect y="147" width="170" height="4" fill="url(#hm147)"/>
<rect y="148" width="170" height="4" fill="url(#hm148)"/>
<rect y="149" width="170" height="4" fill="url(#hm149)"/>
<rect y="150" width="170" height="4" fill="url(#hm150)"/>
<rect y="151" width="170" height="4" fill="url(#hm151)"/>
<rect y="152" width="170" height="4" fill="url(#hm152)"/>
<rect y="153" width="170" height="4" fill="url(#hm153)"/>
<rect y="154" width="170" height="4" fill="url(#hm154)"/>
<rect y="155" width="170" height="4" fill="url(#hm155)"/>
<rect y="156" width="170" height="4" fill="url(#hm156)"/>
<rect y="157" width="170" height="4" fill="url(#hm157)"/>
<rect y="158" width="170" height="4" fill="url(#hm158)"/>
<rect y="159" width="170" height="4" fill="url(#hm159)"/>
<rect y="160" width="170" height="4" fill="url(#hm160)"/>
<rect y="161" width="170" height="4" fill="url(#hm161)"/>
<rect y="162" width="170" height="4" fill="url(#hm162)"/>
<rect y="163" width="170" height="4" fill="url(#hm163)"/>
<rect y="164" width="170" height="4" fill="url(#hm164)"/>
<rect y="165" width="170" height="4" fill="url(#hm165)"/>
<rect y="166" width="170" height="4" fill="url(#hm166)"/>
<rect y="167" width="170" height="4" fill="url(#hm167)"/>
<rect y="168" width="170" height="4" fill="url(#hm168)"/>
<rect y="169" width="170" height="4" fill="url(#hm169)"/>
<rect y="170" width="170" height="4" fill="url(#hm170)"/>
<rect y="171" width="170" height="4" fill="url(#hm171)"/>
<rect y="172" width="170" height="4" fill="url(#hm172)"/>
<rect y="173" width="170" height="4" fill="url(#hm173)"/>
<rect y="174" width="170" height="4" fill="url(#hm174)"/>
<rect y="175" width="170" height="4" fill="url(#hm175)"/>
<rect y="176" width="170" height="4" fill="url(#hm176)"/>
<rect y="177" width="170" height="4" fill="url(#hm177)"/>
<rect y="178" width="170" height="4" fill="url(#hm178)"/>
<rect y="179" width="170" height="4" fill="url(#hm179)"/>
<rect y="180" width="170" height="4" fill="url(#hm180)"/>
<rect y="181" width="170" height="4" fill="url(#hm181)"/>
<rect y="182" width="170" height="4" fill="url(#hm182)"/>
<rect y="183" width="170" height="4" fill="url(#hm183)"/>
<rect y="184" width="170" height="4" fill="url(#hm184)"/>
<rect y="185" width="170" height="4" fill="url(#hm185)"/>
<rect y="186" width="170" height="3" fill="url(#hm186)"/>
<rect y="187" width="170" height="2" fill="url(#hm187)"/>
<rect y="188" width="170" height="1" fill="url(#hm188)"/>
</symbol>
<symbol id="hs" viewBox="0 0 85 94" preserveAspectRatio="none">
<defs><linearGradient id="hs0" gradientUnits="userSpaceOnUse" x2="42.50" spreadMethod="reflect"><stop offset="0.012" stop-color="#50436d"/><stop offset="0.129" stop-color="#414282"/><stop offset="1.000" stop-color="#3c428a"/></linearGradient><linearGradient id="hs1" gradientUnits="userSpaceOnUse" x2="42.50" spreadMethod="reflect"><stop offset="0.012" stop-color="#554570"/><stop offset="0.106" stop-color="#434389"/><stop offset="0.388" stop-color="#3c4393"/><stop offset="1.000" stop-color="#3c4496"/></linearGradient><linearGradient id="hs2" gradientUnits="userSpaceOnUse" x2="42.50" spreadMethod="reflect"><stop offset="0.012" stop-color="#594671"/><stop offset="0.082" stop-color="#474489"/><stop offset="0.247" stop-color="#3d4498"/><stop offset="1.000" stop-color="#3b469e"/></linearGradient><linearGradient id="hs3" gradientUnits="userSpaceOnUse" x2="42.50" spreadMethod="reflect"><stop offset="0.012" stop-color="#5a4672"/><stop offset="0.082" stop-color="#48458c"/><stop offset="0.247" stop-color="#3d449b"/><stop offset="1.000" stop-color="#3b48a3"/></linearGradient><linearGradient id="hs4" gradientUnits="userSpaceOnUse" x2="42.50" spreadMethod="reflect"><stop offset="0.012" stop-color="#5b4772"/><stop offset="0.082" stop-color="#48458d"/><stop offset="0.247" stop-color="#3d449d"/><stop offset="1.000" stop-color="#3b49a7"/></linearGradient><linearGradient id="hs5" gradientUnits="userSpaceOnUse" x2="42.50" spreadMethod="reflect"><stop offset="0.012" stop-color="#5c4773"/><stop offset="0.082" stop-color="#48458e"/><stop offset="0.247" stop-color="#3d449e"/><stop offset="1.000" stop-color="#3b4caa"/></linearGradient><linearGradient id="hs6" gradientUnits="userSpaceOnUse" x2="42.50" spreadMethod="reflect"><stop offset="0.012" stop-color="#5c4773"/><stop offset="0.082" stop-color="#48458f"/><stop offset="0.224" stop-color="#3d459e"/><stop offset="1.000" stop-color="#3b4ead"/></linearGradient><linearGradient id="hs7" gradientUnits="userSpaceOnUse" x2="42.50" spreadMethod="reflect"><stop offset="0.012" stop-color="#5c4773"/><stop offset="0.082" stop-color="#48458f"/><stop offset="0.224" stop-color="#3d459f"/><stop offset="1.000" stop-color="#3a51b1"/></linearGradient><linearGradient id="hs8" gradientUnits="userSpaceOnUse" x2="42.50" spreadMethod="reflect"><stop offset="0.012" stop-color="#5d4773"/><stop offset="0.082" stop-color="#48458f"/><stop offset="0.224" stop-color="#3d459f"/><stop offset="1.000" stop-color="#3a54b4"/></linearGradient><linearGradient id="hs9" gradientUnits="userSpaceOnUse" x2="42.50" spreadMethod="reflect"><stop offset="0.012" stop-color="#5d4773"/><stop offset="0.082" stop-color="#48458f"/><stop offset="0.247" stop-color="#3d45a0"/><stop offset="0.788" stop-color="#3a54b4"/><stop offset="1.000" stop-color="#3a59b8"/></linearGradient><linearGradient id="hs10" gradientUnits="userSpaceOnUse" x2="42.50" spreadMethod="reflect"><stop offset="0.012" stop-color="#5d4773"/><stop offset="0.082" stop-color="#48458f"/><stop offset="0.247" stop-color="#3d45a1"/><stop offset="0.718" stop-color="#3a54b4"/><stop offset="1.000" stop-color="#3a60bd"/></linearGradient><linearGradient id="hs11" gradientUnits="userSpaceOnUse" x2="42.50" spreadMethod="reflect"><stop offset="0.012" stop-color="#5d4773"/><stop offset="0.082" stop-color="#48458f"/><stop offset="0.247" stop-color="#3d45a1"/><stop offset="0.671" stop-color="#3a54b4"/><stop offset="1.000" stop-color="#3a68c3"/></linearGradient><linearGradient id="hs12" gradientUnits="userSpaceOnUse" x2="42.50" spreadMethod="reflect"><stop offset="0.012" stop-color="#5d4773"/><stop offset="0.082" stop-color="#48458f"/><stop offset="0.247" stop-color="#3d45a1"/><stop offset="0.624" stop-color="#3a54b4"/><stop offset="0.976" stop-color="#3a71c9"/><stop offset="1.000" stop-color="#3a72c9"/></linearGradient><linearGradient id="hs13" gradientUnits="userSpaceOnUse" x2="42.50" spreadMethod="reflect"><stop offset="0.012" stop-color="#5d4773"/><stop offset="0.082" stop-color="#48458f"/><stop offset="0.247" stop-color="#3d45a2"/><stop offset="0.600" stop-color="#3a56b6"/><stop offset="0.953" stop-color="#3980d0"/><stop offset="1.000" stop-color="#3981d0"/></linearGradient><linearGradient id="hs14" gradientUnits="userSpaceOnUse" x2="42.50" spreadMethod="reflect"><stop offset="0.012" stop-color="#5d4773"/><stop offset="0.082" stop-color="#48468f"/><stop offset="0.247" stop-color="#3d45a2"/><stop offset="0.576" stop-color="#3a57b7"/><stop offset="0.929" stop-color="#3890d8"/><stop offset="1.000" stop-color="#3894d9"/></linearGradient><linearGradient id="hs15" gradientUnits="userSpaceOnUse" x2="42.50" spreadMethod="reflect"><stop offset="0.012" stop-color="#5d4773"/><stop offset="0.082" stop-color="#484690"/><stop offset="0.247" stop-color="#3d46a3"/><stop offset="0.553" stop-color="#3a59b8"/><stop offset="0.741" stop-color="#3980d0"/><stop offset="0.906" stop-color="#39a5df"/><stop offset="1.000" stop-color="#3babe0"/></linearGradient><linearGradient id="hs16" gradientUnits="userSpaceOnUse" x2="42.50" spreadMethod="reflect"><stop offset="0.012" stop-color="#5d4773"/><stop offset="0.082" stop-color="#484690"/><stop offset="0.247" stop-color="#3d46a3"/><stop offset="0.506" stop-color="#3a57b6"/><stop offset="0.671" stop-color="#397acd"/><stop offset="0.812" stop-color="#3ba9df"/><stop offset="1.000" stop-color="#52bbe0"/></linearGradient><linearGradient id="hs17" gradientUnits="userSpaceOnUse" x2="42.50" spreadMethod="reflect"><stop offset="0.012" stop-color="#5d4773"/><stop offset="0.082" stop-color="#484690"/><stop offset="0.247" stop-color="#3d46a4"/><stop offset="0.482" stop-color="#3a57b7"/><stop offset="0.624" stop-color="#3979cc"/><stop offset="0.741" stop-color="#3ba9df"/><stop offset="0.812" stop-color="#51bbe0"/><stop offset="0.906" stop-color="#77c9de"/><stop offset="1.000" stop-color="#81ccdc"/></linearGradient><linearGradient id="hs18" gradientUnits="userSpaceOnUse" x2="42.50" spreadMethod="reflect"><stop offset="0.012" stop-color="#5d4773"/><stop offset="0.082" stop-color="#484690"/><stop offset="0.271" stop-color="#3c48a6"/><stop offset="0.482" stop-color="#3a5cbb"/><stop offset="0.600" stop-color="#397ecf"/><stop offset="0.694" stop-color="#3dace0"/><stop offset="0.741" stop-color="#54bce0"/><stop offset="0.812" stop-color="#81ccdc"/><stop offset="0.906" stop-color="#93d2d5"/><stop offset="1.000" stop-color="#95d3d3"/></linearGradient><linearGradient id="hs19" gradientUnits="userSpaceOnUse" x2="42.50" spreadMethod="reflect"><stop offset="0.012" stop-color="#5d4773"/><stop offset="0.082" stop-color="#484690"/><stop offset="0.271" stop-color="#3c48a7"/><stop offset="0.459" stop-color="#3a5cbb"/><stop offset="0.553" stop-color="#3a78cc"/><stop offset="0.647" stop-color="#3dace0"/><stop offset="0.671" stop-color="#48b6e0"/><stop offset="0.718" stop-color="#74c8de"/><stop offset="0.765" stop-color="#8dd0d8"/><stop offset="0.906" stop-color="#9cd6cd"/><stop offset="1.000" stop-color="#9dd6cc"/></linearGradient><linearGradient id="hs20" gradientUnits="userSpaceOnUse" x2="42.50" spreadMethod="reflect"><stop offset="0.012" stop-color="#5d4773"/><stop offset="0.082" stop-color="#484690"/><stop offset="0.271" stop-color="#3c49a8"/><stop offset="0.435" stop-color="#3a5cbb"/><stop offset="0.529" stop-color="#397cce"/><stop offset="0.600" stop-color="#3ba9df"/><stop offset="0.624" stop-color="#47b5e0"/><stop offset="0.671" stop-color="#7acadd"/><stop offset="0.718" stop-color="#93d1d5"/><stop offset="0.859" stop-color="#9fd7cb"/><stop offset="1.000" stop-color="#a1d8ca"/></linearGradient><linearGradient id="hs21" gradientUnits="userSpaceOnUse" x2="42.50" spreadMethod="reflect"><stop offset="0.012" stop-color="#5d4773"/><stop offset="0.082" stop-color="#484690"/><stop offset="0.271" stop-color="#3c4aa9"/><stop offset="0.412" stop-color="#3a5cba"/><stop offset="0.482" stop-color="#3a71c8"/><stop offset="0.553" stop-color="#39a0dd"/><stop offset="0.576" stop-color="#41b0e0"/><stop offset="0.624" stop-color="#79cadd"/><stop offset="0.647" stop-color="#8bcfd8"/><stop offset="0.718" stop-color="#9cd6cd"/><stop offset="1.000" stop-color="#a5d9c9"/></linearGradient><linearGradient id="hs22" gradientUnits="userSpaceOnUse" x2="42.50" spreadMethod="reflect"><stop offset="0.012" stop-color="#5d4773"/><stop offset="0.082" stop-color="#484690"/><stop offset="0.294" stop-color="#3b4dac"/><stop offset="0.412" stop-color="#3a61be"/><stop offset="0.482" stop-color="#397fd0"/><stop offset="0.529" stop-color="#3aa6de"/><stop offset="0.553" stop-color="#4ab6e0"/><stop offset="0.600" stop-color="#88ced9"/><stop offset="0.647" stop-color="#99d4cf"/><stop offset="0.953" stop-color="#a7d9c9"/><stop offset="1.000" stop-color="#a7d9c9"/></linearGradient><linearGradient id="hs23" gradientUnits="userSpaceOnUse" x2="42.50" spreadMethod="reflect"><stop offset="0.012" stop-color="#5d4773"/><stop offset="0.082" stop-color="#484690"/><stop offset="0.294" stop-color="#3b4fae"/><stop offset="0.388" stop-color="#3a60bd"/><stop offset="0.435" stop-color="#3a71c8"/><stop offset="0.482" stop-color="#3893d8"/><stop offset="0.506" stop-color="#3caadf"/><stop offset="0.529" stop-color="#55bce0"/><stop offset="0.553" stop-color="#7ccbdc"/><stop offset="0.576" stop-color="#91d1d6"/><stop offset="0.671" stop-color="#a0d7cb"/><stop offset="1.000" stop-color="#a7d9c9"/></linearGradient><linearGradient id="hs24" gradientUnits="userSpaceOnUse" x2="42.50" spreadMethod="reflect"><stop offset="0.012" stop-color="#5d4773"/><stop offset="0.082" stop-color="#484691"/><stop offset="0.294" stop-color="#3b51af"/><stop offset="0.388" stop-color="#3a66c1"/><stop offset="0.435" stop-color="#397fcf"/><stop offset="0.482" stop-color="#3eacdf"/><stop offset="0.529" stop-color="#86cdda"/><stop offset="0.553" stop-color="#95d2d3"/><stop offset="0.647" stop-color="#a1d8ca"/><stop offset="0.953" stop-color="#a5d9c9"/><stop offset="1.000" stop-color="#a5d9c9"/></linearGradient><linearGradient id="hs25" gradientUnits="userSpaceOnUse" x2="42.50" spreadMethod="reflect"><stop offset="0.012" stop-color="#5d4773"/><stop offset="0.082" stop-color="#484691"/><stop offset="0.294" stop-color="#3b53b1"/><stop offset="0.388" stop-color="#3a6dc6"/><stop offset="0.435" stop-color="#3892d8"/><stop offset="0.459" stop-color="#3faddf"/><stop offset="0.482" stop-color="#65c2df"/><stop offset="0.506" stop-color="#8bcfd8"/><stop offset="0.553" stop-color="#9cd6cc"/><stop offset="0.765" stop-color="#a6d9c9"/><stop offset="1.000" stop-color="#a2d8ca"/></linearGradient><linearGradient id="hs26" gradientUnits="userSpaceOnUse" x2="42.50" spreadMethod="reflect"><stop offset="0.012" stop-color="#5d4773"/><stop offset="0.082" stop-color="#484691"/><stop offset="0.271" stop-color="#3c51af"/><stop offset="0.341" stop-color="#3a61bd"/><stop offset="0.388" stop-color="#3a78cc"/><stop offset="0.435" stop-color="#3eabdf"/><stop offset="0.459" stop-color="#67c3df"/><stop offset="0.482" stop-color="#8dcfd7"/><stop offset="0.529" stop-color="#9dd6cc"/><stop offset="0.718" stop-color="#a6d9c9"/><stop offset="1.000" stop-color="#9fd7cb"/></linearGradient><linearGradient id="hs27" gradientUnits="userSpaceOnUse" x2="42.50" spreadMethod="reflect"><stop offset="0.012" stop-color="#5d4773"/><stop offset="0.082" stop-color="#484691"/><stop offset="0.271" stop-color="#3b53b1"/><stop offset="0.341" stop-color="#3a67c1"/><stop offset="0.365" stop-color="#3a73c9"/><stop offset="0.388" stop-color="#3989d4"/><stop offset="0.412" stop-color="#3ca7de"/><stop offset="0.435" stop-color="#63c1df"/><stop offset="0.459" stop-color="#8dcfd7"/><stop offset="0.506" stop-color="#9ed6cb"/><stop offset="0.671" stop-color="#a6d9c9"/><stop offset="1.000" stop-color="#9cd6cc"/></linearGradient><linearGradient id="hs28" gradientUnits="userSpaceOnUse" x2="42.50" spreadMethod="reflect"><stop offset="0.012" stop-color="#5d4773"/><stop offset="0.082" stop-color="#484691"/><stop offset="0.271" stop-color="#3b55b3"/><stop offset="0.341" stop-color="#3a6ec6"/><stop offset="0.365" stop-color="#3981d0"/><stop offset="0.388" stop-color="#3aa0dc"/><stop offset="0.412" stop-color="#5bbedf"/><stop offset="0.435" stop-color="#8bcfd8"/><stop offset="0.459" stop-color="#98d4cf"/><stop offset="0.600" stop-color="#a6d9c9"/><stop offset="1.000" stop-color="#95d2d3"/></linearGradient><linearGradient id="hs29" gradientUnits="userSpaceOnUse" x2="42.50" spreadMethod="reflect"><stop offset="0.012" stop-color="#5d4774"/><stop offset="0.082" stop-color="#484692"/><stop offset="0.247" stop-color="#3c53b0"/><stop offset="0.318" stop-color="#3b69c2"/><stop offset="0.341" stop-color="#3a79cc"/><stop offset="0.365" stop-color="#3996d9"/><stop offset="0.388" stop-color="#4db7df"/><stop offset="0.412" stop-color="#85cdda"/><stop offset="0.435" stop-color="#97d3d0"/><stop offset="0.576" stop-color="#a6d9c9"/><stop offset="0.812" stop-color="#98d4d0"/><stop offset="1.000" stop-color="#83cddb"/></linearGradient><linearGradient id="hs30" gradientUnits="userSpaceOnUse" x2="42.50" spreadMethod="reflect"><stop offset="0.012" stop-color="#5d4774"/><stop offset="0.082" stop-color="#484692"/><stop offset="0.247" stop-color="#3c54b2"/><stop offset="0.318" stop-color="#3a70c7"/><stop offset="0.341" stop-color="#3989d3"/><stop offset="0.365" stop-color="#41adde"/><stop offset="0.388" stop-color="#78c9dc"/><stop offset="0.412" stop-color="#95d2d2"/><stop offset="0.482" stop-color="#a2d8ca"/><stop offset="0.553" stop-color="#addbc7"/><stop offset="0.671" stop-color="#a0d7cb"/><stop offset="0.812" stop-color="#8ed0d8"/><stop offset="0.953" stop-color="#60c1e0"/><stop offset="1.000" stop-color="#5bc0e0"/></linearGradient><linearGradient id="hs31" gradientUnits="userSpaceOnUse" x2="42.50" spreadMethod="reflect"><stop offset="0.012" stop-color="#5d4774"/><stop offset="0.082" stop-color="#484792"/><stop offset="0.247" stop-color="#3c56b4"/><stop offset="0.294" stop-color="#3b69c2"/><stop offset="0.318" stop-color="#3a7ccd"/><stop offset="0.341" stop-color="#3a9edb"/><stop offset="0.365" stop-color="#62c0de"/><stop offset="0.388" stop-color="#91d0d5"/><stop offset="0.435" stop-color="#9fd7cb"/><stop offset="0.482" stop-color="#a4d8c9"/><stop offset="0.506" stop-color="#b3ddc5"/><stop offset="0.529" stop-color="#d0e6b9"/><stop offset="0.553" stop-color="#cae4be"/><stop offset="0.576" stop-color="#b1dcc6"/><stop offset="0.600" stop-color="#a3d8ca"/><stop offset="0.718" stop-color="#97d4d1"/><stop offset="0.788" stop-color="#81ccdc"/><stop offset="0.882" stop-color="#4cb9e0"/><stop offset="0.976" stop-color="#42b2e0"/><stop offset="1.000" stop-color="#41b1e0"/></linearGradient><linearGradient id="hs32" gradientUnits="userSpaceOnUse" x2="42.50" spreadMethod="reflect"><stop offset="0.012" stop-color="#5d4774"/><stop offset="0.082" stop-color="#484792"/><stop offset="0.224" stop-color="#3c53b0"/><stop offset="0.271" stop-color="#3b62bd"/><stop offset="0.294" stop-color="#3b70c6"/><stop offset="0.318" stop-color="#398bd4"/><stop offset="0.341" stop-color="#49b3df"/><stop offset="0.365" stop-color="#86cdd9"/><stop offset="0.388" stop-color="#99d4cf"/><stop offset="0.459" stop-color="#a3d8c9"/><stop offset="0.482" stop-color="#b6dec3"/><stop offset="0.506" stop-color="#e3e8a7"/><stop offset="0.529" stop-color="#eae89f"/><stop offset="0.553" stop-color="#e0eaae"/><stop offset="0.576" stop-color="#c2e2c0"/><stop offset="0.600" stop-color="#a7d9c8"/><stop offset="0.718" stop-color="#8fd0d7"/><stop offset="0.788" stop-color="#5ec1e0"/><stop offset="0.812" stop-color="#4db9e0"/><stop offset="0.882" stop-color="#3fafe0"/><stop offset="1.000" stop-color="#3aaae0"/></linearGradient><linearGradient id="hs33" gradientUnits="userSpaceOnUse" x2="42.50" spreadMethod="reflect"><stop offset="0.012" stop-color="#5d4774"/><stop offset="0.082" stop-color="#484793"/><stop offset="0.224" stop-color="#3c55b2"/><stop offset="0.271" stop-color="#3b67c0"/><stop offset="0.294" stop-color="#3a7acc"/><stop offset="0.318" stop-color="#3b9fdb"/><stop offset="0.341" stop-color="#6bc3dd"/><stop offset="0.365" stop-color="#94d1d2"/><stop offset="0.412" stop-color="#a0d7ca"/><stop offset="0.435" stop-color="#a2d8ca"/><stop offset="0.459" stop-color="#aedbc6"/><stop offset="0.482" stop-color="#e4e8a1"/><stop offset="0.506" stop-color="#ece883"/><stop offset="0.529" stop-color="#ece88c"/><stop offset="0.553" stop-color="#e9e9a1"/><stop offset="0.576" stop-color="#d0e6ba"/><stop offset="0.600" stop-color="#abdbc7"/><stop offset="0.647" stop-color="#99d4cf"/><stop offset="0.694" stop-color="#8bcfd9"/><stop offset="0.765" stop-color="#4ebae0"/><stop offset="0.812" stop-color="#40b0e0"/><stop offset="1.000" stop-color="#38a1de"/></linearGradient><linearGradient id="hs34" gradientUnits="userSpaceOnUse" x2="42.50" spreadMethod="reflect"><stop offset="0.012" stop-color="#5d4774"/><stop offset="0.082" stop-color="#484793"/><stop offset="0.224" stop-color="#3c56b3"/><stop offset="0.271" stop-color="#3b6cc4"/><stop offset="0.294" stop-color="#3988d2"/><stop offset="0.318" stop-color="#49b2de"/><stop offset="0.341" stop-color="#88cdd8"/><stop offset="0.365" stop-color="#9ad4cd"/><stop offset="0.435" stop-color="#a5d9c9"/><stop offset="0.459" stop-color="#d9e6aa"/><stop offset="0.482" stop-color="#eee26a"/><stop offset="0.506" stop-color="#f0dd58"/><stop offset="0.553" stop-color="#ece898"/><stop offset="0.576" stop-color="#d5e7b7"/><stop offset="0.600" stop-color="#abdac8"/><stop offset="0.671" stop-color="#88ceda"/><stop offset="0.741" stop-color="#47b6e0"/><stop offset="0.835" stop-color="#38a6df"/><stop offset="1.000" stop-color="#3899db"/></linearGradient><linearGradient id="hs35" gradientUnits="userSpaceOnUse" x2="42.50" spreadMethod="reflect"><stop offset="0.012" stop-color="#5d4774"/><stop offset="0.082" stop-color="#484793"/><stop offset="0.224" stop-color="#3c59b5"/><stop offset="0.271" stop-color="#3b74c8"/><stop offset="0.294" stop-color="#3a98d8"/><stop offset="0.318" stop-color="#65c0dd"/><stop offset="0.341" stop-color="#94d1d2"/><stop offset="0.388" stop-color="#a0d7ca"/><stop offset="0.412" stop-color="#a3d8c9"/><stop offset="0.435" stop-color="#bee0be"/><stop offset="0.459" stop-color="#ede272"/><stop offset="0.482" stop-color="#f2c434"/><stop offset="0.506" stop-color="#f2cb36"/><stop offset="0.529" stop-color="#eee267"/><stop offset="0.553" stop-color="#ece894"/><stop offset="0.576" stop-color="#d0e6b8"/><stop offset="0.600" stop-color="#a6d9c9"/><stop offset="0.647" stop-color="#88ceda"/><stop offset="0.694" stop-color="#55bde0"/><stop offset="0.718" stop-color="#44b4e0"/><stop offset="0.812" stop-color="#38a2de"/><stop offset="0.976" stop-color="#3893d9"/><stop offset="1.000" stop-color="#3893d9"/></linearGradient><linearGradient id="hs36" gradientUnits="userSpaceOnUse" x2="42.50" spreadMethod="reflect"><stop offset="0.012" stop-color="#5d4774"/><stop offset="0.082" stop-color="#484793"/><stop offset="0.200" stop-color="#3d54b0"/><stop offset="0.247" stop-color="#3c67bf"/><stop offset="0.271" stop-color="#3a7dcd"/><stop offset="0.294" stop-color="#40a8dc"/><stop offset="0.318" stop-color="#81cad9"/><stop offset="0.341" stop-color="#99d3ce"/><stop offset="0.412" stop-color="#a6d9c8"/><stop offset="0.435" stop-color="#e1e69a"/><stop offset="0.459" stop-color="#f1bf3a"/><stop offset="0.482" stop-color="#f19c30"/><stop offset="0.506" stop-color="#f2ba31"/><stop offset="0.529" stop-color="#efde5b"/><stop offset="0.553" stop-color="#eae898"/><stop offset="0.576" stop-color="#c2e2bf"/><stop offset="0.600" stop-color="#a0d7cb"/><stop offset="0.647" stop-color="#75c9de"/><stop offset="0.671" stop-color="#56bde0"/><stop offset="0.694" stop-color="#44b4e0"/><stop offset="0.765" stop-color="#38a4df"/><stop offset="0.906" stop-color="#3891d8"/><stop offset="1.000" stop-color="#388fd7"/></linearGradient><linearGradient id="hs37" gradientUnits="userSpaceOnUse" x2="42.50" spreadMethod="reflect"><stop offset="0.012" stop-color="#5d4774"/><stop offset="0.082" stop-color="#484893"/><stop offset="0.200" stop-color="#3d55b1"/><stop offset="0.247" stop-color="#3c6bc2"/><stop offset="0.271" stop-color="#3a89d2"/><stop offset="0.294" stop-color="#51b7dd"/><stop offset="0.318" stop-color="#8ecfd5"/><stop offset="0.341" stop-color="#9bd4cb"/><stop offset="0.388" stop-color="#a2d7c9"/><stop offset="0.412" stop-color="#bbdfbf"/><stop offset="0.435" stop-color="#efd85f"/><stop offset="0.459" stop-color="#ef8634"/><stop offset="0.482" stop-color="#ee7a36"/><stop offset="0.506" stop-color="#f1ac30"/><stop offset="0.529" stop-color="#efde5e"/><stop offset="0.553" stop-color="#e5e9a3"/><stop offset="0.576" stop-color="#aedcc7"/><stop offset="0.624" stop-color="#7ccbdd"/><stop offset="0.671" stop-color="#45b4e0"/><stop offset="0.741" stop-color="#38a2de"/><stop offset="0.859" stop-color="#3890d8"/><stop offset="1.000" stop-color="#388cd6"/></linearGradient><linearGradient id="hs38" gradientUnits="userSpaceOnUse" x2="42.50" spreadMethod="reflect"><stop offset="0.012" stop-color="#5d4774"/><stop offset="0.082" stop-color="#484893"/><stop offset="0.200" stop-color="#3d56b2"/><stop offset="0.247" stop-color="#3b70c5"/><stop offset="0.271" stop-color="#3a95d7"/><stop offset="0.294" stop-color="#66c0dc"/><stop offset="0.318" stop-color="#95d1d1"/><stop offset="0.388" stop-color="#a3d8c9"/><stop offset="0.412" stop-color="#d6e4a6"/><stop offset="0.435" stop-color="#f0ae3a"/><stop offset="0.459" stop-color="#ea5538"/><stop offset="0.482" stop-color="#eb6238"/><stop offset="0.506" stop-color="#f1a831"/><stop offset="0.529" stop-color="#eee26c"/><stop offset="0.553" stop-color="#d4e6b3"/><stop offset="0.576" stop-color="#a0d7cb"/><stop offset="0.600" stop-color="#86ceda"/><stop offset="0.647" stop-color="#48b7e0"/><stop offset="0.694" stop-color="#39a7df"/><stop offset="0.765" stop-color="#388fd7"/><stop offset="1.000" stop-color="#388ad5"/></linearGradient><linearGradient id="hs39" gradientUnits="userSpaceOnUse" x2="42.50" spreadMethod="reflect"><stop offset="0.012" stop-color="#5d4774"/><stop offset="0.082" stop-color="#484894"/><stop offset="0.200" stop-color="#3d57b3"/><stop offset="0.224" stop-color="#3c62bb"/><stop offset="0.247" stop-color="#3b76c8"/><stop offset="0.271" stop-color="#3da0da"/><stop offset="0.294" stop-color="#7ac7da"/><stop offset="0.318" stop-color="#98d2ce"/><stop offset="0.388" stop-color="#a8d9c8"/><stop offset="0.412" stop-color="#eae17c"/><stop offset="0.435" stop-color="#ed7735"/><stop offset="0.459" stop-color="#e73c3a"/><stop offset="0.482" stop-color="#ea5538"/><stop offset="0.506" stop-color="#f1ad32"/><stop offset="0.529" stop-color="#ede683"/><stop offset="0.553" stop-color="#bbe0c1"/><stop offset="0.576" stop-color="#94d2d2"/><stop offset="0.600" stop-color="#77cade"/><stop offset="0.624" stop-color="#52bce0"/><stop offset="0.647" stop-color="#3fafe0"/><stop offset="0.694" stop-color="#3894d9"/><stop offset="0.765" stop-color="#397cce"/><stop offset="0.976" stop-color="#3988d4"/><stop offset="1.000" stop-color="#3888d4"/></linearGradient><linearGradient id="hs40" gradientUnits="userSpaceOnUse" x2="42.50" spreadMethod="reflect"><stop offset="0.012" stop-color="#5d4774"/><stop offset="0.082" stop-color="#484894"/><stop offset="0.200" stop-color="#3d59b4"/><stop offset="0.224" stop-color="#3c65bd"/><stop offset="0.247" stop-color="#3b7bcb"/><stop offset="0.271" stop-color="#42a9dc"/><stop offset="0.294" stop-color="#87ccd7"/><stop offset="0.318" stop-color="#9ad3cc"/><stop offset="0.365" stop-color="#a2d7c9"/><stop offset="0.388" stop-color="#b7dec1"/><stop offset="0.412" stop-color="#efcd57"/><stop offset="0.435" stop-color="#e34e3a"/><stop offset="0.459" stop-color="#bf3a42"/><stop offset="0.482" stop-color="#eb5038"/><stop offset="0.506" stop-color="#f1b938"/><stop offset="0.529" stop-color="#e6e899"/><stop offset="0.553" stop-color="#a6d9c9"/><stop offset="0.576" stop-color="#87ceda"/><stop offset="0.600" stop-color="#67c4e0"/><stop offset="0.624" stop-color="#43b2e0"/><stop offset="0.647" stop-color="#399fdd"/><stop offset="0.694" stop-color="#3978cc"/><stop offset="0.765" stop-color="#3a65c1"/><stop offset="0.953" stop-color="#3984d2"/><stop offset="1.000" stop-color="#3986d3"/></linearGradient><linearGradient id="hs41" gradientUnits="userSpaceOnUse" x2="42.50" spreadMethod="reflect"><stop offset="0.012" stop-color="#5d4774"/><stop offset="0.082" stop-color="#484894"/><stop offset="0.200" stop-color="#3d5ab4"/><stop offset="0.224" stop-color="#3c67be"/><stop offset="0.247" stop-color="#3a81ce"/><stop offset="0.271" stop-color="#4cb2dd"/><stop offset="0.294" stop-color="#8dcdd5"/><stop offset="0.318" stop-color="#9bd4cb"/><stop offset="0.365" stop-color="#a2d7c9"/><stop offset="0.388" stop-color="#c5e0b7"/><stop offset="0.412" stop-color="#efb045"/><stop offset="0.435" stop-color="#ba3d3d"/><stop offset="0.459" stop-color="#8d3a40"/><stop offset="0.482" stop-color="#ea5239"/><stop offset="0.506" stop-color="#f0c545"/><stop offset="0.529" stop-color="#d7e6ab"/><stop offset="0.553" stop-color="#9ad5cf"/><stop offset="0.576" stop-color="#7dcbdd"/><stop offset="0.600" stop-color="#55bce0"/><stop offset="0.624" stop-color="#3a9fdc"/><stop offset="0.647" stop-color="#397ecf"/><stop offset="0.671" stop-color="#3a6bc5"/><stop offset="0.741" stop-color="#3a59b9"/><stop offset="0.835" stop-color="#3a5cbb"/><stop offset="1.000" stop-color="#3983d2"/></linearGradient><linearGradient id="hs42" gradientUnits="userSpaceOnUse" x2="42.50" spreadMethod="reflect"><stop offset="0.012" stop-color="#5d4774"/><stop offset="0.082" stop-color="#484894"/><stop offset="0.176" stop-color="#3e53ad"/><stop offset="0.224" stop-color="#3c68bf"/><stop offset="0.247" stop-color="#3a86d0"/><stop offset="0.271" stop-color="#53b7dd"/><stop offset="0.294" stop-color="#91cfd3"/><stop offset="0.341" stop-color="#a0d6ca"/><stop offset="0.365" stop-color="#a3d7c9"/><stop offset="0.388" stop-color="#d0e3aa"/><stop offset="0.412" stop-color="#ee9336"/><stop offset="0.435" stop-color="#88383c"/><stop offset="0.459" stop-color="#6f383c"/><stop offset="0.482" stop-color="#ea5738"/><stop offset="0.506" stop-color="#f0cf50"/><stop offset="0.529" stop-color="#c9e2b8"/><stop offset="0.553" stop-color="#91d1d4"/><stop offset="0.576" stop-color="#72c8df"/><stop offset="0.600" stop-color="#45aedf"/><stop offset="0.624" stop-color="#397cce"/><stop offset="0.647" stop-color="#3a65c1"/><stop offset="0.718" stop-color="#3a54b4"/><stop offset="0.882" stop-color="#3a55b5"/><stop offset="0.953" stop-color="#3a69c3"/><stop offset="1.000" stop-color="#397dce"/></linearGradient><linearGradient id="hs43" gradientUnits="userSpaceOnUse" x2="42.50" spreadMethod="reflect"><stop offset="0.012" stop-color="#5d4774"/><stop offset="0.082" stop-color="#484894"/><stop offset="0.176" stop-color="#3e54ae"/><stop offset="0.224" stop-color="#3c69c0"/><stop offset="0.247" stop-color="#3a8ad1"/><stop offset="0.271" stop-color="#59badc"/><stop offset="0.294" stop-color="#93d0d2"/><stop offset="0.341" stop-color="#a0d6c9"/><stop offset="0.365" stop-color="#a3d7c9"/><stop offset="0.388" stop-color="#d7e39f"/><stop offset="0.412" stop-color="#ee7e35"/><stop offset="0.435" stop-color="#613739"/><stop offset="0.459" stop-color="#62373a"/><stop offset="0.482" stop-color="#eb5d37"/><stop offset="0.506" stop-color="#efd75e"/><stop offset="0.529" stop-color="#bce0bf"/><stop offset="0.553" stop-color="#85ced9"/><stop offset="0.576" stop-color="#58bde0"/><stop offset="0.600" stop-color="#3c91d5"/><stop offset="0.624" stop-color="#3a62bf"/><stop offset="0.671" stop-color="#3a53b3"/><stop offset="0.882" stop-color="#3b4cac"/><stop offset="0.953" stop-color="#3a55b4"/><stop offset="1.000" stop-color="#3a6cc5"/></linearGradient><linearGradient id="hs44" gradientUnits="userSpaceOnUse" x2="42.50" spreadMethod="reflect"><stop offset="0.012" stop-color="#5d4774"/><stop offset="0.082" stop-color="#484894"/><stop offset="0.176" stop-color="#3e54ae"/><stop offset="0.224" stop-color="#3c6ac1"/><stop offset="0.247" stop-color="#3a8cd2"/><stop offset="0.271" stop-color="#5dbbdc"/><stop offset="0.294" stop-color="#94d0d1"/><stop offset="0.341" stop-color="#a0d6c9"/><stop offset="0.365" stop-color="#a3d7c9"/><stop offset="0.388" stop-color="#dce398"/><stop offset="0.412" stop-color="#ee7336"/><stop offset="0.435" stop-color="#4f3637"/><stop offset="0.459" stop-color="#5d3739"/><stop offset="0.482" stop-color="#ec6036"/><stop offset="0.506" stop-color="#efda65"/><stop offset="0.529" stop-color="#b6dec2"/><stop offset="0.553" stop-color="#66c1dc"/><stop offset="0.576" stop-color="#3ba3dd"/><stop offset="0.600" stop-color="#3973c8"/><stop offset="0.624" stop-color="#3a56b6"/><stop offset="0.765" stop-color="#3b48a8"/><stop offset="0.953" stop-color="#3b49a8"/><stop offset="1.000" stop-color="#3a57b6"/></linearGradient><linearGradient id="hs45" gradientUnits="userSpaceOnUse" x2="42.50" spreadMethod="reflect"><stop offset="0.012" stop-color="#5d4774"/><stop offset="0.082" stop-color="#484894"/><stop offset="0.176" stop-color="#3e54ae"/><stop offset="0.224" stop-color="#3c6cc1"/><stop offset="0.247" stop-color="#3a8ed3"/><stop offset="0.271" stop-color="#5fbcdc"/><stop offset="0.294" stop-color="#94d0d1"/><stop offset="0.341" stop-color="#a0d6c9"/><stop offset="0.365" stop-color="#a3d7c9"/><stop offset="0.388" stop-color="#dce397"/><stop offset="0.412" stop-color="#ed7236"/><stop offset="0.435" stop-color="#4e3637"/><stop offset="0.459" stop-color="#5d3739"/><stop offset="0.482" stop-color="#ec6136"/><stop offset="0.506" stop-color="#efda65"/><stop offset="0.529" stop-color="#b6dec2"/><stop offset="0.553" stop-color="#5fbddc"/><stop offset="0.576" stop-color="#399ada"/><stop offset="0.600" stop-color="#3a6ec5"/><stop offset="0.624" stop-color="#3a55b5"/><stop offset="0.788" stop-color="#3b47a7"/><stop offset="0.953" stop-color="#3b47a7"/><stop offset="1.000" stop-color="#3a53b3"/></linearGradient><linearGradient id="hs46" gradientUnits="userSpaceOnUse" x2="42.50" spreadMethod="reflect"><stop offset="0.012" stop-color="#5d4774"/><stop offset="0.082" stop-color="#484894"/><stop offset="0.176" stop-color="#3e54ae"/><stop offset="0.224" stop-color="#3c6bc1"/><stop offset="0.247" stop-color="#3a8cd2"/><stop offset="0.271" stop-color="#5cbbdc"/><stop offset="0.294" stop-color="#94d0d1"/><stop offset="0.341" stop-color="#a0d6c9"/><stop offset="0.365" stop-color="#a3d7c9"/><stop offset="0.388" stop-color="#d8e39d"/><stop offset="0.412" stop-color="#ee7b36"/><stop offset="0.435" stop-color="#5c3639"/><stop offset="0.459" stop-color="#60373a"/><stop offset="0.482" stop-color="#eb5e37"/><stop offset="0.506" stop-color="#efd860"/><stop offset="0.529" stop-color="#bbdfc0"/><stop offset="0.553" stop-color="#80ccda"/><stop offset="0.576" stop-color="#4fb9e0"/><stop offset="0.600" stop-color="#3b8ad2"/><stop offset="0.624" stop-color="#3a5fbc"/><stop offset="0.671" stop-color="#3a52b2"/><stop offset="0.906" stop-color="#3b4bab"/><stop offset="0.976" stop-color="#3a5ab9"/><stop offset="1.000" stop-color="#3a68c3"/></linearGradient><linearGradient id="hs47" gradientUnits="userSpaceOnUse" x2="42.50" spreadMethod="reflect"><stop offset="0.012" stop-color="#5d4774"/><stop offset="0.082" stop-color="#484894"/><stop offset="0.176" stop-color="#3e54ae"/><stop offset="0.224" stop-color="#3c6ac0"/><stop offset="0.247" stop-color="#3a89d1"/><stop offset="0.271" stop-color="#56b8dc"/><stop offset="0.294" stop-color="#91cfd3"/><stop offset="0.341" stop-color="#a0d6ca"/><stop offset="0.365" stop-color="#a3d7c9"/><stop offset="0.388" stop-color="#d2e3a8"/><stop offset="0.412" stop-color="#ee8e35"/><stop offset="0.435" stop-color="#7e383b"/><stop offset="0.459" stop-color="#6b383b"/><stop offset="0.482" stop-color="#ea5838"/><stop offset="0.506" stop-color="#f0d153"/><stop offset="0.529" stop-color="#c6e1ba"/><stop offset="0.553" stop-color="#8ed1d5"/><stop offset="0.576" stop-color="#6dc6df"/><stop offset="0.600" stop-color="#41a8dd"/><stop offset="0.624" stop-color="#3a75ca"/><stop offset="0.647" stop-color="#3a61be"/><stop offset="0.718" stop-color="#3a53b3"/><stop offset="0.882" stop-color="#3a53b3"/><stop offset="0.953" stop-color="#3a65c0"/><stop offset="1.000" stop-color="#397acd"/></linearGradient><linearGradient id="hs48" gradientUnits="userSpaceOnUse" x2="42.50" spreadMethod="reflect"><stop offset="0.012" stop-color="#5d4774"/><stop offset="0.082" stop-color="#484894"/><stop offset="0.176" stop-color="#3e54ae"/><stop offset="0.224" stop-color="#3c68bf"/><stop offset="0.247" stop-color="#3a84cf"/><stop offset="0.271" stop-color="#4fb4dd"/><stop offset="0.294" stop-color="#8eced4"/><stop offset="0.318" stop-color="#9bd4cb"/><stop offset="0.365" stop-color="#a2d7c9"/><stop offset="0.388" stop-color="#c8e1b4"/><stop offset="0.412" stop-color="#efaa42"/><stop offset="0.435" stop-color="#b03c3d"/><stop offset="0.459" stop-color="#85393f"/><stop offset="0.482" stop-color="#e95339"/><stop offset="0.506" stop-color="#f0c747"/><stop offset="0.529" stop-color="#d4e5ae"/><stop offset="0.553" stop-color="#98d4d1"/><stop offset="0.576" stop-color="#7acadd"/><stop offset="0.600" stop-color="#50b9e0"/><stop offset="0.624" stop-color="#3998da"/><stop offset="0.647" stop-color="#3977cb"/><stop offset="0.694" stop-color="#3a5fbd"/><stop offset="0.788" stop-color="#3a55b5"/><stop offset="0.906" stop-color="#3a69c3"/><stop offset="1.000" stop-color="#3982d1"/></linearGradient><linearGradient id="hs49" gradientUnits="userSpaceOnUse" x2="42.50" spreadMethod="reflect"><stop offset="0.012" stop-color="#5d4774"/><stop offset="0.082" stop-color="#484894"/><stop offset="0.200" stop-color="#3d5ab5"/><stop offset="0.224" stop-color="#3c66be"/><stop offset="0.247" stop-color="#3b7ecc"/><stop offset="0.271" stop-color="#45acdc"/><stop offset="0.294" stop-color="#88ccd7"/><stop offset="0.318" stop-color="#9ad3cc"/><stop offset="0.365" stop-color="#a2d7c9"/><stop offset="0.388" stop-color="#b9debf"/><stop offset="0.412" stop-color="#efc852"/><stop offset="0.435" stop-color="#dd493b"/><stop offset="0.459" stop-color="#b43a42"/><stop offset="0.482" stop-color="#eb5038"/><stop offset="0.506" stop-color="#f1bb3b"/><stop offset="0.529" stop-color="#e4e89d"/><stop offset="0.553" stop-color="#a3d8ca"/><stop offset="0.576" stop-color="#83cddb"/><stop offset="0.624" stop-color="#40afe0"/><stop offset="0.671" stop-color="#3980d0"/><stop offset="0.718" stop-color="#3a69c3"/><stop offset="0.788" stop-color="#3a62bf"/><stop offset="0.953" stop-color="#3983d1"/><stop offset="1.000" stop-color="#3985d3"/></linearGradient><linearGradient id="hs50" gradientUnits="userSpaceOnUse" x2="42.50" spreadMethod="reflect"><stop offset="0.012" stop-color="#5d4774"/><stop offset="0.082" stop-color="#484894"/><stop offset="0.200" stop-color="#3d59b4"/><stop offset="0.224" stop-color="#3c64bd"/><stop offset="0.247" stop-color="#3b79c9"/><stop offset="0.271" stop-color="#3da3db"/><stop offset="0.294" stop-color="#7dc8d9"/><stop offset="0.318" stop-color="#98d2ce"/><stop offset="0.388" stop-color="#aadac7"/><stop offset="0.412" stop-color="#ecde73"/><stop offset="0.435" stop-color="#ed6c36"/><stop offset="0.459" stop-color="#e33a3b"/><stop offset="0.482" stop-color="#eb5338"/><stop offset="0.506" stop-color="#f1af32"/><stop offset="0.529" stop-color="#ece787"/><stop offset="0.553" stop-color="#b6dec3"/><stop offset="0.576" stop-color="#90d1d4"/><stop offset="0.600" stop-color="#72c8df"/><stop offset="0.624" stop-color="#4cb8e0"/><stop offset="0.647" stop-color="#3dade0"/><stop offset="0.718" stop-color="#3983d1"/><stop offset="0.765" stop-color="#3a77cb"/><stop offset="0.953" stop-color="#3987d3"/><stop offset="1.000" stop-color="#3987d4"/></linearGradient><linearGradient id="hs51" gradientUnits="userSpaceOnUse" x2="42.50" spreadMethod="reflect"><stop offset="0.012" stop-color="#5d4774"/><stop offset="0.082" stop-color="#484894"/><stop offset="0.200" stop-color="#3d57b3"/><stop offset="0.247" stop-color="#3b73c7"/><stop offset="0.271" stop-color="#3b98d8"/><stop offset="0.294" stop-color="#69c1dc"/><stop offset="0.318" stop-color="#95d1d1"/><stop offset="0.388" stop-color="#a3d8c9"/><stop offset="0.412" stop-color="#dbe59f"/><stop offset="0.435" stop-color="#f0a337"/><stop offset="0.459" stop-color="#e94e38"/><stop offset="0.482" stop-color="#eb5e38"/><stop offset="0.506" stop-color="#f1a831"/><stop offset="0.529" stop-color="#eee370"/><stop offset="0.553" stop-color="#d0e5b6"/><stop offset="0.576" stop-color="#9ed6cc"/><stop offset="0.600" stop-color="#80ccdb"/><stop offset="0.647" stop-color="#44b4e0"/><stop offset="0.694" stop-color="#38a3de"/><stop offset="0.765" stop-color="#388cd6"/><stop offset="1.000" stop-color="#3889d5"/></linearGradient><linearGradient id="hs52" gradientUnits="userSpaceOnUse" x2="42.50" spreadMethod="reflect"><stop offset="0.012" stop-color="#5d4774"/><stop offset="0.082" stop-color="#484894"/><stop offset="0.200" stop-color="#3d56b2"/><stop offset="0.247" stop-color="#3b6ec4"/><stop offset="0.271" stop-color="#3a8dd3"/><stop offset="0.294" stop-color="#54b8dd"/><stop offset="0.318" stop-color="#8fcfd5"/><stop offset="0.341" stop-color="#9bd4cc"/><stop offset="0.388" stop-color="#a2d7c9"/><stop offset="0.412" stop-color="#c0e0bb"/><stop offset="0.435" stop-color="#efd256"/><stop offset="0.459" stop-color="#ee7b36"/><stop offset="0.482" stop-color="#ed7437"/><stop offset="0.506" stop-color="#f1ab30"/><stop offset="0.529" stop-color="#efdf5f"/><stop offset="0.553" stop-color="#e3e8a6"/><stop offset="0.576" stop-color="#abdbc8"/><stop offset="0.600" stop-color="#94d2d2"/><stop offset="0.624" stop-color="#74c9de"/><stop offset="0.647" stop-color="#52bce0"/><stop offset="0.671" stop-color="#42b2e0"/><stop offset="0.741" stop-color="#389edd"/><stop offset="0.859" stop-color="#388ed7"/><stop offset="1.000" stop-color="#388bd6"/></linearGradient><linearGradient id="hs53" gradientUnits="userSpaceOnUse" x2="42.50" spreadMethod="reflect"><stop offset="0.012" stop-color="#5d4774"/><stop offset="0.082" stop-color="#484893"/><stop offset="0.200" stop-color="#3d55b1"/><stop offset="0.247" stop-color="#3c69c1"/><stop offset="0.271" stop-color="#3a81ce"/><stop offset="0.294" stop-color="#41abdd"/><stop offset="0.318" stop-color="#81cad9"/><stop offset="0.341" stop-color="#98d3ce"/><stop offset="0.412" stop-color="#a8d9c8"/><stop offset="0.435" stop-color="#e6e58e"/><stop offset="0.459" stop-color="#f1b536"/><stop offset="0.482" stop-color="#f09531"/><stop offset="0.506" stop-color="#f2b631"/><stop offset="0.529" stop-color="#efde5b"/><stop offset="0.553" stop-color="#eae999"/><stop offset="0.576" stop-color="#bee1c1"/><stop offset="0.600" stop-color="#9ed7cc"/><stop offset="0.624" stop-color="#89cfd8"/><stop offset="0.671" stop-color="#4cb9e0"/><stop offset="0.718" stop-color="#3cace0"/><stop offset="0.859" stop-color="#3892d9"/><stop offset="1.000" stop-color="#388dd7"/></linearGradient><linearGradient id="hs54" gradientUnits="userSpaceOnUse" x2="42.50" spreadMethod="reflect"><stop offset="0.012" stop-color="#5d4774"/><stop offset="0.082" stop-color="#484893"/><stop offset="0.200" stop-color="#3d54b0"/><stop offset="0.247" stop-color="#3c66bf"/><stop offset="0.271" stop-color="#3b78ca"/><stop offset="0.294" stop-color="#3a9cda"/><stop offset="0.318" stop-color="#66c1dd"/><stop offset="0.341" stop-color="#93d1d3"/><stop offset="0.388" stop-color="#a0d7ca"/><stop offset="0.412" stop-color="#a2d8c9"/><stop offset="0.435" stop-color="#c6e1b9"/><stop offset="0.459" stop-color="#eede64"/><stop offset="0.482" stop-color="#f2bc31"/><stop offset="0.506" stop-color="#f2c834"/><stop offset="0.529" stop-color="#efe163"/><stop offset="0.553" stop-color="#ece894"/><stop offset="0.576" stop-color="#cee6ba"/><stop offset="0.600" stop-color="#a5d9c9"/><stop offset="0.624" stop-color="#98d4d0"/><stop offset="0.647" stop-color="#80ccdc"/><stop offset="0.694" stop-color="#4ab8e0"/><stop offset="0.765" stop-color="#39a8e0"/><stop offset="0.906" stop-color="#3893d9"/><stop offset="1.000" stop-color="#3891d8"/></linearGradient><linearGradient id="hs55" gradientUnits="userSpaceOnUse" x2="42.50" spreadMethod="reflect"><stop offset="0.012" stop-color="#5d4774"/><stop offset="0.082" stop-color="#484893"/><stop offset="0.224" stop-color="#3c59b5"/><stop offset="0.271" stop-color="#3b70c6"/><stop offset="0.294" stop-color="#398cd4"/><stop offset="0.318" stop-color="#4ab3de"/><stop offset="0.341" stop-color="#87cdd8"/><stop offset="0.365" stop-color="#99d4ce"/><stop offset="0.435" stop-color="#a7d9c8"/><stop offset="0.459" stop-color="#e0e7a2"/><stop offset="0.482" stop-color="#efde5c"/><stop offset="0.506" stop-color="#f1da4e"/><stop offset="0.529" stop-color="#ede676"/><stop offset="0.553" stop-color="#ece896"/><stop offset="0.576" stop-color="#d4e7b6"/><stop offset="0.600" stop-color="#aadac8"/><stop offset="0.671" stop-color="#7eccdc"/><stop offset="0.718" stop-color="#4cb9e0"/><stop offset="0.788" stop-color="#3aaae0"/><stop offset="0.953" stop-color="#3897da"/><stop offset="1.000" stop-color="#3896da"/></linearGradient><linearGradient id="hs56" gradientUnits="userSpaceOnUse" x2="42.50" spreadMethod="reflect"><stop offset="0.012" stop-color="#5d4774"/><stop offset="0.082" stop-color="#484793"/><stop offset="0.224" stop-color="#3c57b3"/><stop offset="0.271" stop-color="#3b6ac2"/><stop offset="0.294" stop-color="#3a7ece"/><stop offset="0.318" stop-color="#3ca2dc"/><stop offset="0.341" stop-color="#6ac3dd"/><stop offset="0.365" stop-color="#93d1d3"/><stop offset="0.412" stop-color="#9fd7ca"/><stop offset="0.435" stop-color="#a2d8ca"/><stop offset="0.459" stop-color="#b5ddc3"/><stop offset="0.482" stop-color="#e8e898"/><stop offset="0.506" stop-color="#ece77c"/><stop offset="0.529" stop-color="#ece888"/><stop offset="0.553" stop-color="#eae99f"/><stop offset="0.576" stop-color="#d2e7b9"/><stop offset="0.600" stop-color="#abdbc7"/><stop offset="0.671" stop-color="#90d0d7"/><stop offset="0.718" stop-color="#6cc6df"/><stop offset="0.741" stop-color="#52bce0"/><stop offset="0.765" stop-color="#45b4e0"/><stop offset="0.882" stop-color="#38a4df"/><stop offset="1.000" stop-color="#389ddc"/></linearGradient><linearGradient id="hs57" gradientUnits="userSpaceOnUse" x2="42.50" spreadMethod="reflect"><stop offset="0.012" stop-color="#5d4774"/><stop offset="0.082" stop-color="#484793"/><stop offset="0.224" stop-color="#3c55b2"/><stop offset="0.271" stop-color="#3b66bf"/><stop offset="0.294" stop-color="#3b74c9"/><stop offset="0.318" stop-color="#3990d6"/><stop offset="0.341" stop-color="#49b3df"/><stop offset="0.365" stop-color="#83ccda"/><stop offset="0.388" stop-color="#97d3d0"/><stop offset="0.459" stop-color="#a2d8ca"/><stop offset="0.482" stop-color="#bfe0bf"/><stop offset="0.506" stop-color="#e7e8a0"/><stop offset="0.529" stop-color="#ebe89b"/><stop offset="0.553" stop-color="#e3eaab"/><stop offset="0.576" stop-color="#c6e3bf"/><stop offset="0.600" stop-color="#a8dac8"/><stop offset="0.694" stop-color="#91d1d6"/><stop offset="0.741" stop-color="#75c9de"/><stop offset="0.788" stop-color="#4cb9e0"/><stop offset="0.859" stop-color="#3dade0"/><stop offset="1.000" stop-color="#38a6df"/></linearGradient><linearGradient id="hs58" gradientUnits="userSpaceOnUse" x2="42.50" spreadMethod="reflect"><stop offset="0.012" stop-color="#5d4774"/><stop offset="0.082" stop-color="#484793"/><stop offset="0.224" stop-color="#3c54b1"/><stop offset="0.294" stop-color="#3b6dc4"/><stop offset="0.318" stop-color="#3a81cf"/><stop offset="0.341" stop-color="#3ba1dc"/><stop offset="0.365" stop-color="#5fbfde"/><stop offset="0.388" stop-color="#8ecfd6"/><stop offset="0.435" stop-color="#9ed6cb"/><stop offset="0.482" stop-color="#a4d8c9"/><stop offset="0.529" stop-color="#d9e8b4"/><stop offset="0.553" stop-color="#cfe6bb"/><stop offset="0.576" stop-color="#b4ddc5"/><stop offset="0.600" stop-color="#a4d8c9"/><stop offset="0.718" stop-color="#94d2d4"/><stop offset="0.765" stop-color="#80ccdc"/><stop offset="0.835" stop-color="#4fbae0"/><stop offset="0.906" stop-color="#40b0e0"/><stop offset="1.000" stop-color="#3dade0"/></linearGradient><linearGradient id="hs59" gradientUnits="userSpaceOnUse" x2="42.50" spreadMethod="reflect"><stop offset="0.012" stop-color="#5d4774"/><stop offset="0.082" stop-color="#484793"/><stop offset="0.247" stop-color="#3c57b4"/><stop offset="0.318" stop-color="#3a76ca"/><stop offset="0.341" stop-color="#398ed5"/><stop offset="0.365" stop-color="#41aedf"/><stop offset="0.388" stop-color="#73c7dd"/><stop offset="0.412" stop-color="#93d1d4"/><stop offset="0.459" stop-color="#9fd7cb"/><stop offset="0.506" stop-color="#a3d8c9"/><stop offset="0.553" stop-color="#b2ddc5"/><stop offset="0.600" stop-color="#a3d8ca"/><stop offset="0.741" stop-color="#96d3d2"/><stop offset="0.812" stop-color="#81ccdc"/><stop offset="0.906" stop-color="#54bce0"/><stop offset="1.000" stop-color="#48b6e0"/></linearGradient><linearGradient id="hs60" gradientUnits="userSpaceOnUse" x2="42.50" spreadMethod="reflect"><stop offset="0.012" stop-color="#5d4774"/><stop offset="0.082" stop-color="#484792"/><stop offset="0.247" stop-color="#3c55b3"/><stop offset="0.318" stop-color="#3b6ec5"/><stop offset="0.341" stop-color="#397fcf"/><stop offset="0.365" stop-color="#399ada"/><stop offset="0.388" stop-color="#4bb6df"/><stop offset="0.412" stop-color="#7ecbdb"/><stop offset="0.435" stop-color="#95d2d3"/><stop offset="0.506" stop-color="#a1d8ca"/><stop offset="0.647" stop-color="#a2d8ca"/><stop offset="0.812" stop-color="#94d2d4"/><stop offset="0.976" stop-color="#70c7df"/><stop offset="1.000" stop-color="#6fc7df"/></linearGradient><linearGradient id="hs61" gradientUnits="userSpaceOnUse" x2="42.50" spreadMethod="reflect"><stop offset="0.012" stop-color="#5d4774"/><stop offset="0.082" stop-color="#484792"/><stop offset="0.247" stop-color="#3c54b1"/><stop offset="0.318" stop-color="#3b68c2"/><stop offset="0.365" stop-color="#3988d3"/><stop offset="0.388" stop-color="#3aa4dd"/><stop offset="0.412" stop-color="#55bbdf"/><stop offset="0.435" stop-color="#84cdda"/><stop offset="0.459" stop-color="#96d3d2"/><stop offset="0.553" stop-color="#a3d8ca"/><stop offset="0.788" stop-color="#9dd6cc"/><stop offset="1.000" stop-color="#8dd0d8"/></linearGradient><linearGradient id="hs62" gradientUnits="userSpaceOnUse" x2="42.50" spreadMethod="reflect"><stop offset="0.012" stop-color="#5d4774"/><stop offset="0.082" stop-color="#484692"/><stop offset="0.271" stop-color="#3b56b4"/><stop offset="0.341" stop-color="#3a6dc5"/><stop offset="0.388" stop-color="#388fd7"/><stop offset="0.412" stop-color="#3ca9df"/><stop offset="0.435" stop-color="#5cbfdf"/><stop offset="0.459" stop-color="#86cdda"/><stop offset="0.482" stop-color="#95d2d2"/><stop offset="0.600" stop-color="#a4d9c9"/><stop offset="1.000" stop-color="#98d4d0"/></linearGradient><linearGradient id="hs63" gradientUnits="userSpaceOnUse" x2="42.50" spreadMethod="reflect"><stop offset="0.012" stop-color="#5d4773"/><stop offset="0.082" stop-color="#484692"/><stop offset="0.271" stop-color="#3b54b2"/><stop offset="0.365" stop-color="#3a71c8"/><stop offset="0.412" stop-color="#3895d9"/><stop offset="0.435" stop-color="#3eaddf"/><stop offset="0.459" stop-color="#5dc0df"/><stop offset="0.482" stop-color="#85cdda"/><stop offset="0.506" stop-color="#94d2d3"/><stop offset="0.600" stop-color="#a2d8ca"/><stop offset="0.835" stop-color="#a0d7cb"/><stop offset="1.000" stop-color="#9ed7cb"/></linearGradient><linearGradient id="hs64" gradientUnits="userSpaceOnUse" x2="42.50" spreadMethod="reflect"><stop offset="0.012" stop-color="#5d4773"/><stop offset="0.082" stop-color="#484691"/><stop offset="0.271" stop-color="#3b53b1"/><stop offset="0.365" stop-color="#3a6bc4"/><stop offset="0.412" stop-color="#3985d2"/><stop offset="0.459" stop-color="#3faee0"/><stop offset="0.482" stop-color="#5cbfe0"/><stop offset="0.506" stop-color="#81ccdb"/><stop offset="0.529" stop-color="#92d1d5"/><stop offset="0.624" stop-color="#a1d8ca"/><stop offset="0.859" stop-color="#a2d8ca"/><stop offset="1.000" stop-color="#a0d7cb"/></linearGradient><linearGradient id="hs65" gradientUnits="userSpaceOnUse" x2="42.50" spreadMethod="reflect"><stop offset="0.012" stop-color="#5d4773"/><stop offset="0.082" stop-color="#484691"/><stop offset="0.294" stop-color="#3b54b3"/><stop offset="0.388" stop-color="#3a6ec6"/><stop offset="0.435" stop-color="#3989d4"/><stop offset="0.482" stop-color="#3faee0"/><stop offset="0.506" stop-color="#56bde0"/><stop offset="0.529" stop-color="#7acadd"/><stop offset="0.553" stop-color="#8ed0d7"/><stop offset="0.624" stop-color="#9ed7cb"/><stop offset="0.882" stop-color="#a4d9c9"/><stop offset="1.000" stop-color="#a3d8ca"/></linearGradient><linearGradient id="hs66" gradientUnits="userSpaceOnUse" x2="42.50" spreadMethod="reflect"><stop offset="0.012" stop-color="#5d4773"/><stop offset="0.082" stop-color="#484691"/><stop offset="0.294" stop-color="#3b52b1"/><stop offset="0.412" stop-color="#3a70c8"/><stop offset="0.482" stop-color="#389ddc"/><stop offset="0.506" stop-color="#3eade0"/><stop offset="0.529" stop-color="#4eb9e0"/><stop offset="0.553" stop-color="#6fc7df"/><stop offset="0.576" stop-color="#87ceda"/><stop offset="0.624" stop-color="#98d4d0"/><stop offset="0.859" stop-color="#a5d9c9"/><stop offset="1.000" stop-color="#a5d9c9"/></linearGradient><linearGradient id="hs67" gradientUnits="userSpaceOnUse" x2="42.50" spreadMethod="reflect"><stop offset="0.012" stop-color="#5d4773"/><stop offset="0.082" stop-color="#484691"/><stop offset="0.294" stop-color="#3b51b0"/><stop offset="0.412" stop-color="#3a6ac4"/><stop offset="0.482" stop-color="#388bd5"/><stop offset="0.529" stop-color="#3cabe0"/><stop offset="0.553" stop-color="#47b5e0"/><stop offset="0.600" stop-color="#7bcbdd"/><stop offset="0.647" stop-color="#94d2d4"/><stop offset="0.788" stop-color="#a1d8ca"/><stop offset="1.000" stop-color="#a5d9c9"/></linearGradient><linearGradient id="hs68" gradientUnits="userSpaceOnUse" x2="42.50" spreadMethod="reflect"><stop offset="0.012" stop-color="#5d4773"/><stop offset="0.082" stop-color="#484691"/><stop offset="0.294" stop-color="#3b4fae"/><stop offset="0.412" stop-color="#3a65c0"/><stop offset="0.482" stop-color="#397fd0"/><stop offset="0.553" stop-color="#3ba9df"/><stop offset="0.576" stop-color="#42b2e0"/><stop offset="0.600" stop-color="#52bce0"/><stop offset="0.647" stop-color="#7fccdc"/><stop offset="0.694" stop-color="#93d1d5"/><stop offset="0.835" stop-color="#9fd7cb"/><stop offset="1.000" stop-color="#a2d8ca"/></linearGradient><linearGradient id="hs69" gradientUnits="userSpaceOnUse" x2="42.50" spreadMethod="reflect"><stop offset="0.012" stop-color="#5d4773"/><stop offset="0.082" stop-color="#484690"/><stop offset="0.271" stop-color="#3c4caa"/><stop offset="0.412" stop-color="#3a60bd"/><stop offset="0.506" stop-color="#3980d0"/><stop offset="0.576" stop-color="#39a6df"/><stop offset="0.624" stop-color="#47b6e0"/><stop offset="0.694" stop-color="#7dcbdd"/><stop offset="0.765" stop-color="#94d2d4"/><stop offset="0.976" stop-color="#9ed7cb"/><stop offset="1.000" stop-color="#9ed7cb"/></linearGradient><linearGradient id="hs70" gradientUnits="userSpaceOnUse" x2="42.50" spreadMethod="reflect"><stop offset="0.012" stop-color="#5d4773"/><stop offset="0.082" stop-color="#484690"/><stop offset="0.271" stop-color="#3c4ba9"/><stop offset="0.435" stop-color="#3a61be"/><stop offset="0.529" stop-color="#397fcf"/><stop offset="0.624" stop-color="#3cabe0"/><stop offset="0.671" stop-color="#49b7e0"/><stop offset="0.741" stop-color="#77cade"/><stop offset="0.835" stop-color="#91d1d6"/><stop offset="1.000" stop-color="#98d4d0"/></linearGradient><linearGradient id="hs71" gradientUnits="userSpaceOnUse" x2="42.50" spreadMethod="reflect"><stop offset="0.012" stop-color="#5d4773"/><stop offset="0.082" stop-color="#484690"/><stop offset="0.271" stop-color="#3c4aa8"/><stop offset="0.435" stop-color="#3a5cba"/><stop offset="0.553" stop-color="#397dcf"/><stop offset="0.671" stop-color="#3dade0"/><stop offset="0.741" stop-color="#53bce0"/><stop offset="0.812" stop-color="#75c9df"/><stop offset="0.929" stop-color="#8acfd9"/><stop offset="1.000" stop-color="#8dcfd8"/></linearGradient><linearGradient id="hs72" gradientUnits="userSpaceOnUse" x2="42.50" spreadMethod="reflect"><stop offset="0.012" stop-color="#5d4773"/><stop offset="0.082" stop-color="#484690"/><stop offset="0.271" stop-color="#3c49a7"/><stop offset="0.459" stop-color="#3a5cbb"/><stop offset="0.576" stop-color="#397bcd"/><stop offset="0.718" stop-color="#3dade0"/><stop offset="0.812" stop-color="#53bce0"/><stop offset="0.906" stop-color="#6fc7df"/><stop offset="1.000" stop-color="#76c9de"/></linearGradient><linearGradient id="hs73" gradientUnits="userSpaceOnUse" x2="42.50" spreadMethod="reflect"><stop offset="0.012" stop-color="#5d4773"/><stop offset="0.082" stop-color="#484690"/><stop offset="0.271" stop-color="#3c48a6"/><stop offset="0.482" stop-color="#3a5cbb"/><stop offset="0.624" stop-color="#3980d0"/><stop offset="0.765" stop-color="#3cace0"/><stop offset="1.000" stop-color="#58bee0"/></linearGradient><linearGradient id="hs74" gradientUnits="userSpaceOnUse" x2="42.50" spreadMethod="reflect"><stop offset="0.012" stop-color="#5d4773"/><stop offset="0.082" stop-color="#484690"/><stop offset="0.247" stop-color="#3d46a4"/><stop offset="0.506" stop-color="#3a5bba"/><stop offset="0.671" stop-color="#3983d1"/><stop offset="0.812" stop-color="#3aaae0"/><stop offset="1.000" stop-color="#44b4e0"/></linearGradient><linearGradient id="hs75" gradientUnits="userSpaceOnUse" x2="42.50" spreadMethod="reflect"><stop offset="0.012" stop-color="#5d4773"/><stop offset="0.082" stop-color="#484690"/><stop offset="0.247" stop-color="#3d46a4"/><stop offset="0.529" stop-color="#3a5bba"/><stop offset="0.765" stop-color="#388ed7"/><stop offset="0.906" stop-color="#3aa9e0"/><stop offset="1.000" stop-color="#3cace0"/></linearGradient><linearGradient id="hs76" gradientUnits="userSpaceOnUse" x2="42.50" spreadMethod="reflect"><stop offset="0.012" stop-color="#5d4773"/><stop offset="0.082" stop-color="#484690"/><stop offset="0.247" stop-color="#3d46a3"/><stop offset="0.553" stop-color="#3a59b9"/><stop offset="0.906" stop-color="#3898db"/><stop offset="1.000" stop-color="#389edd"/></linearGradient><linearGradient id="hs77" gradientUnits="userSpaceOnUse" x2="42.50" spreadMethod="reflect"><stop offset="0.012" stop-color="#5d4773"/><stop offset="0.082" stop-color="#484690"/><stop offset="0.247" stop-color="#3d46a2"/><stop offset="0.576" stop-color="#3a58b8"/><stop offset="0.929" stop-color="#388ad5"/><stop offset="1.000" stop-color="#388cd6"/></linearGradient><linearGradient id="hs78" gradientUnits="userSpaceOnUse" x2="42.50" spreadMethod="reflect"><stop offset="0.012" stop-color="#5d4773"/><stop offset="0.082" stop-color="#48468f"/><stop offset="0.247" stop-color="#3d45a2"/><stop offset="0.600" stop-color="#3a57b7"/><stop offset="0.953" stop-color="#397ecf"/><stop offset="1.000" stop-color="#397fcf"/></linearGradient><linearGradient id="hs79" gradientUnits="userSpaceOnUse" x2="42.50" spreadMethod="reflect"><stop offset="0.012" stop-color="#5d4773"/><stop offset="0.082" stop-color="#48458f"/><stop offset="0.247" stop-color="#3d45a1"/><stop offset="0.624" stop-color="#3a55b5"/><stop offset="0.953" stop-color="#3a71c8"/><stop offset="1.000" stop-color="#3a72c9"/></linearGradient><linearGradient id="hs80" gradientUnits="userSpaceOnUse" x2="42.50" spreadMethod="reflect"><stop offset="0.012" stop-color="#5d4773"/><stop offset="0.082" stop-color="#48458f"/><stop offset="0.247" stop-color="#3d45a1"/><stop offset="0.671" stop-color="#3a55b5"/><stop offset="1.000" stop-color="#3a69c3"/></linearGradient><linearGradient id="hs81" gradientUnits="userSpaceOnUse" x2="42.50" spreadMethod="reflect"><stop offset="0.012" stop-color="#5d4773"/><stop offset="0.082" stop-color="#48458f"/><stop offset="0.247" stop-color="#3d45a1"/><stop offset="0.694" stop-color="#3a54b4"/><stop offset="1.000" stop-color="#3a62be"/></linearGradient><linearGradient id="hs82" gradientUnits="userSpaceOnUse" x2="42.50" spreadMethod="reflect"><stop offset="0.012" stop-color="#5d4773"/><stop offset="0.082" stop-color="#48458f"/><stop offset="0.247" stop-color="#3d45a0"/><stop offset="0.765" stop-color="#3a54b4"/><stop offset="1.000" stop-color="#3a5bba"/></linearGradient><linearGradient id="hs83" gradientUnits="userSpaceOnUse" x2="42.50" spreadMethod="reflect"><stop offset="0.012" stop-color="#5d4773"/><stop offset="0.082" stop-color="#48458f"/><stop offset="0.224" stop-color="#3d459f"/><stop offset="0.788" stop-color="#3a52b2"/><stop offset="1.000" stop-color="#3a56b6"/></linearGradient><linearGradient id="hs84" gradientUnits="userSpaceOnUse" x2="42.50" spreadMethod="reflect"><stop offset="0.012" stop-color="#5d4773"/><stop offset="0.082" stop-color="#48458f"/><stop offset="0.224" stop-color="#3d459f"/><stop offset="1.000" stop-color="#3a53b3"/></linearGradient><linearGradient id="hs85" gradientUnits="userSpaceOnUse" x2="42.50" spreadMethod="reflect"><stop offset="0.012" stop-color="#5d4773"/><stop offset="0.082" stop-color="#48458f"/><stop offset="0.224" stop-color="#3d459f"/><stop offset="1.000" stop-color="#3a50b0"/></linearGradient><linearGradient id="hs86" gradientUnits="userSpaceOnUse" x2="42.50" spreadMethod="reflect"><stop offset="0.012" stop-color="#5d4773"/><stop offset="0.082" stop-color="#48458f"/><stop offset="0.224" stop-color="#3d459f"/><stop offset="1.000" stop-color="#3b4dad"/></linearGradient><linearGradient id="hs87" gradientUnits="userSpaceOnUse" x2="42.50" spreadMethod="reflect"><stop offset="0.012" stop-color="#5d4773"/><stop offset="0.082" stop-color="#48458f"/><stop offset="0.224" stop-color="#3d459f"/><stop offset="1.000" stop-color="#3b4bab"/></linearGradient><linearGradient id="hs88" gradientUnits="userSpaceOnUse" x2="42.50" spreadMethod="reflect"><stop offset="0.012" stop-color="#5d4773"/><stop offset="0.082" stop-color="#48458f"/><stop offset="0.224" stop-color="#3d459f"/><stop offset="1.000" stop-color="#3b49a9"/></linearGradient><linearGradient id="hs89" gradientUnits="userSpaceOnUse" x2="42.50" spreadMethod="reflect"><stop offset="0.012" stop-color="#5d4773"/><stop offset="0.082" stop-color="#48458f"/><stop offset="0.224" stop-color="#3d459f"/><stop offset="1.000" stop-color="#3b48a8"/></linearGradient><linearGradient id="hs90" gradientUnits="userSpaceOnUse" x2="42.50" spreadMethod="reflect"><stop offset="0.012" stop-color="#5d4773"/><stop offset="0.082" stop-color="#48458f"/><stop offset="0.224" stop-color="#3d459f"/><stop offset="1.000" stop-color="#3b47a7"/></linearGradient><linearGradient id="hs91" gradientUnits="userSpaceOnUse" x2="42.50" spreadMethod="reflect"><stop offset="0.012" stop-color="#5d4773"/><stop offset="0.082" stop-color="#48458f"/><stop offset="0.224" stop-color="#3d459f"/><stop offset="1.000" stop-color="#3b46a5"/></linearGradient><linearGradient id="hs92" gradientUnits="userSpaceOnUse" x2="42.50" spreadMethod="reflect"><stop offset="0.012" stop-color="#5d4773"/><stop offset="0.082" stop-color="#48458f"/><stop offset="0.224" stop-color="#3d459f"/><stop offset="1.000" stop-color="#3b45a4"/></linearGradient><linearGradient id="hs93" gradientUnits="userSpaceOnUse" x2="42.50" spreadMethod="reflect"><stop offset="0.012" stop-color="#5d4773"/><stop offset="0.082" stop-color="#48458f"/><stop offset="0.224" stop-color="#3d459f"/><stop offset="1.000" stop-color="#3b45a4"/></linearGradient></defs>
<rect y="0" width="85" height="4" fill="url(#hs0)"/>
<rect y="1" width="85" height="4" fill="url(#hs1)"/>
<rect y="2" width="85" height="4" fill="url(#hs2)"/>
<rect y="3" width="85" height="4" fill="url(#hs3)"/>
<rect y="4" width="85" height="4" fill="url(#hs4)"/>
<rect y="5" width="85" height="4" fill="url(#hs5)"/>
<rect y="6" width="85" height="4" fill="url(#hs6)"/>
<rect y="7" width="85" height="4" fill="url(#hs7)"/>
<rect y="8" width="85" height="4" fill="url(#hs8)"/>
<rect y="9" width="85" height="4" fill="url(#hs9)"/>
<rect y="10" width="85" height="4" fill="url(#hs10)"/>
<rect y="11" width="85" height="4" fill="url(#hs11)"/>
<rect y="12" width="85" height="4" fill="url(#hs12)"/>
<rect y="13" width="85" height="4" fill="url(#hs13)"/>
<rect y="14" width="85" height="4" fill="url(#hs14)"/>
<rect y="15" width="85" height="4" fill="url(#hs15)"/>
<rect y="16" width="85" height="4" fill="url(#hs16)"/>
<rect y="17" width="85" height="4" fill="url(#hs17)"/>
<rect y="18" width="85" height="4" fill="url(#hs18)"/>
<rect y="19" width="85" height="4" fill="url(#hs19)"/>
<rect y="20" width="85" height="4" fill="url(#hs20)"/>
<rect y="21" width="85" height="4" fill="url(#hs21)"/>
<rect y="22" width="85" height="4" fill="url(#hs22)"/>
<rect y="23" width="85" height="4" fill="url(#hs23)"/>
<rect y="24" width="85" height="4" fill="url(#hs24)"/>
<rect y="25" width="85" height="4" fill="url(#hs25)"/>
<rect y="26" width="85" height="4" fill="url(#hs26)"/>
<rect y="27" width="85" height="4" fill="url(#hs27)"/>
<rect y="28" width="85" height="4" fill="url(#hs28)"/>
<rect y="29" width="85" height="4" fill="url(#hs29)"/>
<rect y="30" width="85" height="4" fill="url(#hs30)"/>
<rect y="31" width="85" height="4" fill="url(#hs31)"/>
<rect y="32" width="85" height="4" fill="url(#hs32)"/>
<rect y="33" width="85" height="4" fill="url(#hs33)"/>
<rect y="34" width="85" height="4" fill="url(#hs34)"/>
<rect y="35" width="85" height="4" fill="url(#hs35)"/>
<rect y="36" width="85" height="4" fill="url(#hs36)"/>
<rect y="37" width="85" height="4" fill="url(#hs37)"/>
<rect y="38" width="85" height="4" fill="url(#hs38)"/>
<rect y="39" width="85" height="4" fill="url(#hs39)"/>
<rect y="40" width="85" height="4" fill="url(#hs40)"/>
<rect y="41" width="85" height="4" fill="url(#hs41)"/>
<rect y="42" width="85" height="4" fill="url(#hs42)"/>
<rect y="43" width="85" height="4" fill="url(#hs43)"/>
<rect y="44" width="85" height="4" fill="url(#hs44)"/>
<rect y="45" width="85" height="4" fill="url(#hs45)"/>
<rect y="46" width="85" height="4" fill="url(#hs46)"/>
<rect y="47" width="85" height="4" fill="url(#hs47)"/>
<rect y="48" width="85" height="4" fill="url(#hs48)"/>
<rect y="49" width="85" height="4" fill="url(#hs49)"/>
<rect y="50" width="85" height="4" fill="url(#hs50)"/>
<rect y="51" width="85" height="4" fill="url(#hs51)"/>
<rect y="52" width="85" height="4" fill="url(#hs52)"/>
<rect y="53" width="85" height="4" fill="url(#hs53)"/>
<rect y="54" width="85" height="4" fill="url(#hs54)"/>
<rect y="55" width="85" height="4" fill="url(#hs55)"/>
<rect y="56" width="85" height="4" fill="url(#hs56)"/>
<rect y="57" width="85" height="4" fill="url(#hs57)"/>
<rect y="58" width="85" height="4" fill="url(#hs58)"/>
<rect y="59" width="85" height="4" fill="url(#hs59)"/>
<rect y="60" width="85" height="4" fill="url(#hs60)"/>
<rect y="61" width="85" height="4" fill="url(#hs61)"/>
<rect y="62" width="85" height="4" fill="url(#hs62)"/>
<rect y="63" width="85" height="4" fill="url(#hs63)"/>
<rect y="64" width="85" height="4" fill="url(#hs64)"/>
<rect y="65" width="85" height="4" fill="url(#hs65)"/>
<rect y="66" width="85" height="4" fill="url(#hs66)"/>
<rect y="67" width="85" height="4" fill="url(#hs67)"/>
<rect y="68" width="85" height="4" fill="url(#hs68)"/>
<rect y="69" width="85" height="4" fill="url(#hs69)"/>
<rect y="70" width="85" height="4" fill="url(#hs70)"/>
<rect y="71" width="85" height="4" fill="url(#hs71)"/>
<rect y="72" width="85" height="4" fill="url(#hs72)"/>
<rect y="73" width="85" height="4" fill="url(#hs73)"/>
<rect y="74" width="85" height="4" fill="url(#hs74)"/>
<rect y="75" width="85" height="4" fill="url(#hs75)"/>
<rect y="76" width="85" height="4" fill="url(#hs76)"/>
<rect y="77" width="85" height="4" fill="url(#hs77)"/>
<rect y="78" width="85" height="4" fill="url(#hs78)"/>
<rect y="79" width="85" height="4" fill="url(#hs79)"/>
<rect y="80" width="85" height="4" fill="url(#hs80)"/>
<rect y="81" width="85" height="4" fill="url(#hs81)"/>
<rect y="82" width="85" height="4" fill="url(#hs82)"/>
<rect y="83" width="85" height="4" fill="url(#hs83)"/>
<rect y="84" width="85" height="4" fill="url(#hs84)"/>
<rect y="85" width="85" height="4" fill="url(#hs85)"/>
<rect y="86" width="85" height="4" fill="url(#hs86)"/>
<rect y="87" width="85" height="4" fill="url(#hs87)"/>
<rect y="88" width="85" height="4" fill="url(#hs88)"/>
<rect y="89" width="85" height="4" fill="url(#hs89)"/>
<rect y="90" width="85" height="4" fill="url(#hs90)"/>
<rect y="91" width="85" height="3" fill="url(#hs91)"/>
<rect y="92" width="85" height="2" fill="url(#hs92)"/>
<rect y="93" width="85" height="1" fill="url(#hs93)"/>
</symbol>
<filter id="sb" x="0" y="0" width="1" height="1" color-interpolation-filters="sRGB"><feGaussianBlur stdDeviation="0.5"/><feComponentTransfer><feFuncA type="linear" slope="0" intercept="1"/></feComponentTransfer></filter>
<clipPath id="fb"><rect x="306.5" y="41" width="202" height="153"/></clipPath>
</defs>
<use href="#hs" x="62.4" y="114.6" width="83.6" height="92.0" filter="url(#sb)"/>
<use href="#hs" x="175.0" y="323.4" width="83.7" height="91.9" filter="url(#sb)"/>
<use href="#hm" x="321.3" y="251.3" width="170.5" height="188.7"/>
<g stroke="#8a8a8a" stroke-width="1.1" fill="none">
<line x1="49.4" y1="56.5" x2="49.4" y2="418.7"/>
<line x1="44.3" y1="56.5" x2="55.6" y2="56.5"/>
<line x1="44.3" y1="107.9" x2="55.6" y2="107.9"/>
<line x1="44.3" y1="210.9" x2="55.6" y2="210.9"/>
<line x1="44.3" y1="262.4" x2="55.6" y2="262.4"/>
<line x1="44.3" y1="365.3" x2="55.6" y2="365.3"/>
<line x1="44.3" y1="418.7" x2="55.6" y2="418.7"/>
</g>
<g stroke="#4a4a4a" stroke-width="1.1" fill="none">
<line x1="49" y1="314.5" x2="273.5" y2="314.5"/>
<line x1="106.5" y1="309" x2="106.5" y2="320"/>
<line x1="161.3" y1="309" x2="161.3" y2="320"/>
<line x1="216.8" y1="309" x2="216.8" y2="320"/>
<line x1="273.0" y1="309" x2="273.0" y2="320"/>
</g>
<text x="42" y="113.3" font-size="15.3" fill="#2b2b2b" text-anchor="end" >2.0</text>
<text x="42" y="216.1" font-size="15.3" fill="#2b2b2b" text-anchor="end" >1.0</text>
<text x="42" y="320" font-size="15.3" fill="#2b2b2b" text-anchor="end" >0.0</text>
<text x="42" y="425.4" font-size="15.3" fill="#2b2b2b" text-anchor="end" >−1.0</text>
<text x="106.4" y="303" font-size="15.3" fill="#2b2b2b" text-anchor="middle" >0.5</text>
<text x="161.5" y="303" font-size="15.3" fill="#2b2b2b" text-anchor="middle" >1.0</text>
<text x="216.7" y="303" font-size="15.3" fill="#2b2b2b" text-anchor="middle" >1.5</text>
<text x="271.7" y="303" font-size="15.3" fill="#2b2b2b" text-anchor="middle" >2.0</text>
<text x="184.2" y="277.4" font-size="15.2" fill="#2b2b2b"><tspan font-style="italic">a</tspan>* = <tspan font-style="italic">H</tspan> (r.l.u.)</text>
<text transform="translate(15.5,237) rotate(-90)" font-size="15.5" fill="#2b2b2b" text-anchor="middle"><tspan font-style="italic">b</tspan>* = <tspan font-style="italic">K</tspan> (r.l.u.)</text>
<g stroke="#2e2e2e" stroke-width="1.2" fill="none" stroke-linejoin="miter">
<polyline points="70.5,84.4 70.5,211.4"/>
<polyline points="108.8,60 81.5,85.3 81.5,211.4"/>
<polyline points="108.8,81.2 92.8,95 92.8,211.4"/>
<polyline points="110.6,99.4 104.6,104 104.6,211.4"/>
<polyline points="44.9,160.5 171,160.5 186.2,147"/>
<polyline points="55.9,173.8 172,173.8 185.6,168.2"/>
<polyline points="55.9,186.4 173.8,186.4 184.4,190"/>
<polyline points="55,197.5 173.8,197.5"/>
<polyline points="53.3,108 157,214.5"/>
<polyline points="216.7,314.3 216.7,429.2"/>
<polyline points="157.2,368.7 267.6,368.7"/>
</g>
<text x="115.3" y="63.8" font-size="15.3" fill="#2b2b2b" text-anchor="start" >h</text>
<text x="115.3" y="85" font-size="15.3" fill="#2b2b2b" text-anchor="start" >f</text>
<text x="115.9" y="106.4" font-size="15.3" fill="#2b2b2b" text-anchor="start" >b,d</text>
<text x="190.6" y="149.7" font-size="15.3" fill="#2b2b2b" text-anchor="start" >a,c</text>
<text x="190.6" y="172.4" font-size="15.3" fill="#2b2b2b" text-anchor="start" >e</text>
<text x="190.6" y="194.4" font-size="15.3" fill="#2b2b2b" text-anchor="start" >g</text>
<text x="147.5" y="375" font-size="15.3" fill="#2b2b2b" text-anchor="start" >j</text>
<text x="202" y="436.8" font-size="15.3" fill="#2b2b2b" text-anchor="start" >k</text>
<g stroke="#444" stroke-width="1" stroke-dasharray="1.3,1.1" fill="none">
<line x1="258.7" y1="323.4" x2="321.3" y2="251.3"/>
<line x1="258.7" y1="415.5" x2="321.3" y2="440"/>
</g>
<line x1="321.6" y1="251.3" x2="321.6" y2="440" stroke="#2c2c36" stroke-width="1.1"/>
<line x1="321.3" y1="251.8" x2="492" y2="251.8" stroke="#40405a" stroke-width="1"/>
<g stroke="#3a3a3a" stroke-width="1" fill="none">
<line x1="321.3" y1="440" x2="492" y2="440"/>
<line x1="492" y1="251.3" x2="492" y2="440"/>
<line x1="322.3" y1="440" x2="322.3" y2="443.6"/>
<line x1="364.3" y1="440" x2="364.3" y2="443.6"/>
<line x1="406.7" y1="440" x2="406.7" y2="443.6"/>
<line x1="448.3" y1="440" x2="448.3" y2="443.6"/>
<line x1="491.7" y1="440" x2="491.7" y2="443.6"/>
<line x1="492" y1="262.1" x2="496.5" y2="262.1"/>
<line x1="492" y1="304.8" x2="496.5" y2="304.8"/>
<line x1="492" y1="346.7" x2="496.5" y2="346.7"/>
<line x1="492" y1="387.8" x2="496.5" y2="387.8"/>
<line x1="492" y1="429.7" x2="496.5" y2="429.7"/>
</g>
<text x="499" y="310.2" font-size="15.5" fill="#2b2b2b" text-anchor="start" >0.6</text>
<text x="499" y="393.2" font-size="15.5" fill="#2b2b2b" text-anchor="start" >0.4</text>
<text x="364.3" y="461.3" font-size="15.5" fill="#2b2b2b" text-anchor="middle" >0.4</text>
<text x="448.3" y="461.3" font-size="15.5" fill="#2b2b2b" text-anchor="middle" >0.6</text>
<text x="379.5" y="473.5" font-size="15.6" fill="#2b2b2b"><tspan font-style="italic">H</tspan> (r.l.u.)</text>
<text transform="translate(538.5,348) rotate(-90)" font-size="15.3" fill="#2b2b2b" text-anchor="middle"><tspan font-style="italic">K</tspan> (r.l.u.)</text>
<rect x="474.8" y="259.2" width="15" height="14.3" fill="#fff"/>
<text x="482.3" y="271.5" font-size="17.5" font-weight="bold" fill="#222" text-anchor="middle" style="stroke:#222;stroke-width:0.9px">c</text>
<g stroke="#555" stroke-width="0.85" fill="none">
<line x1="315.6" y1="41.2" x2="315.6" y2="47"/>
<line x1="315.6" y1="194" x2="315.6" y2="188.5"/>
<line x1="338.4" y1="41.2" x2="338.4" y2="47"/>
<line x1="338.4" y1="194" x2="338.4" y2="188.5"/>
<line x1="361.4" y1="41.2" x2="361.4" y2="47"/>
<line x1="361.4" y1="194" x2="361.4" y2="188.5"/>
<line x1="384.6" y1="41.2" x2="384.6" y2="47"/>
<line x1="384.6" y1="194" x2="384.6" y2="188.5"/>
<line x1="407.6" y1="41.2" x2="407.6" y2="47"/>
<line x1="407.6" y1="194" x2="407.6" y2="188.5"/>
<line x1="430.6" y1="41.2" x2="430.6" y2="47"/>
<line x1="430.6" y1="194" x2="430.6" y2="188.5"/>
<line x1="453.6" y1="41.2" x2="453.6" y2="47"/>
<line x1="453.6" y1="194" x2="453.6" y2="188.5"/>
<line x1="476.6" y1="41.2" x2="476.6" y2="47"/>
<line x1="476.6" y1="194" x2="476.6" y2="188.5"/>
<line x1="499.6" y1="41.2" x2="499.6" y2="47"/>
<line x1="499.6" y1="194" x2="499.6" y2="188.5"/>
<line x1="306.5" y1="53.6" x2="313" y2="53.6"/>
<line x1="306.5" y1="77" x2="313" y2="77"/>
<line x1="306.5" y1="100.4" x2="313" y2="100.4"/>
<line x1="306.5" y1="124" x2="313" y2="124"/>
<line x1="306.5" y1="147.4" x2="313" y2="147.4"/>
<line x1="306.5" y1="171" x2="313" y2="171"/>
<line x1="502.5" y1="53.4" x2="508.5" y2="53.4"/>
<line x1="505.5" y1="76.9" x2="508.5" y2="76.9"/>
<line x1="502.5" y1="100.5" x2="508.5" y2="100.5"/>
<line x1="505.5" y1="123.9" x2="508.5" y2="123.9"/>
<line x1="502.5" y1="147.3" x2="508.5" y2="147.3"/>
<line x1="505.5" y1="171" x2="508.5" y2="171"/>
</g>
<g clip-path="url(#fb)">
<g fill="#2e2e2e">
<rect x="305.88" y="190.40" width="6.4" height="6.4"/>
<rect x="310.25" y="190.40" width="6.4" height="6.4"/>
<rect x="314.63" y="190.40" width="6.4" height="6.4"/>
<rect x="319.01" y="190.30" width="6.4" height="6.4"/>
<rect x="323.38" y="190.00" width="6.4" height="6.4"/>
<rect x="327.76" y="189.30" width="6.4" height="6.4"/>
<rect x="332.14" y="187.30" width="6.4" height="6.4"/>
<rect x="336.52" y="184.60" width="6.4" height="6.4"/>
<rect x="340.89" y="179.40" width="6.4" height="6.4"/>
<rect x="345.27" y="171.20" width="6.4" height="6.4"/>
<rect x="349.65" y="160.80" width="6.4" height="6.4"/>
<rect x="354.02" y="145.00" width="6.4" height="6.4"/>
<rect x="358.40" y="126.80" width="6.4" height="6.4"/>
<rect x="362.78" y="108.40" width="6.4" height="6.4"/>
<rect x="367.15" y="84.20" width="6.4" height="6.4"/>
<rect x="371.53" y="66.80" width="6.4" height="6.4"/>
<rect x="375.91" y="60.10" width="6.4" height="6.4"/>
<rect x="380.29" y="62.50" width="6.4" height="6.4"/>
<rect x="384.66" y="72.20" width="6.4" height="6.4"/>
<rect x="389.04" y="91.00" width="6.4" height="6.4"/>
<rect x="393.42" y="115.20" width="6.4" height="6.4"/>
<rect x="397.79" y="136.20" width="6.4" height="6.4"/>
<rect x="402.17" y="159.20" width="6.4" height="6.4"/>
<rect x="406.55" y="173.80" width="6.4" height="6.4"/>
<rect x="410.92" y="182.10" width="6.4" height="6.4"/>
<rect x="415.30" y="185.60" width="6.4" height="6.4"/>
<rect x="419.68" y="186.10" width="6.4" height="6.4"/>
<rect x="424.06" y="185.30" width="6.4" height="6.4"/>
<rect x="428.43" y="184.00" width="6.4" height="6.4"/>
<rect x="432.81" y="183.10" width="6.4" height="6.4"/>
<rect x="437.19" y="182.80" width="6.4" height="6.4"/>
<rect x="441.56" y="183.10" width="6.4" height="6.4"/>
<rect x="445.94" y="184.00" width="6.4" height="6.4"/>
<rect x="450.32" y="185.10" width="6.4" height="6.4"/>
<rect x="454.69" y="186.30" width="6.4" height="6.4"/>
<rect x="459.07" y="187.30" width="6.4" height="6.4"/>
<rect x="463.45" y="188.10" width="6.4" height="6.4"/>
<rect x="467.83" y="188.60" width="6.4" height="6.4"/>
<rect x="472.20" y="189.10" width="6.4" height="6.4"/>
<rect x="476.58" y="189.60" width="6.4" height="6.4"/>
<rect x="480.96" y="190.00" width="6.4" height="6.4"/>
<rect x="485.33" y="190.20" width="6.4" height="6.4"/>
<rect x="489.71" y="190.30" width="6.4" height="6.4"/>
<rect x="494.09" y="190.40" width="6.4" height="6.4"/>
<rect x="498.46" y="190.40" width="6.4" height="6.4"/>
<rect x="502.84" y="190.40" width="6.4" height="6.4"/>
</g>
<g fill="#fff" stroke="#2e2e2e" stroke-width="0.9">
<circle cx="309.08" cy="193.40" r="3.6"/>
<circle cx="313.45" cy="193.40" r="3.6"/>
<circle cx="317.83" cy="193.40" r="3.6"/>
<circle cx="322.21" cy="193.40" r="3.6"/>
<circle cx="326.58" cy="193.40" r="3.6"/>
<circle cx="330.96" cy="193.40" r="3.6"/>
<circle cx="335.34" cy="193.40" r="3.6"/>
<circle cx="339.72" cy="193.39" r="3.6"/>
<circle cx="344.09" cy="193.35" r="3.6"/>
<circle cx="348.47" cy="193.27" r="3.6"/>
<circle cx="352.85" cy="193.09" r="3.6"/>
<circle cx="357.22" cy="192.74" r="3.6"/>
<circle cx="361.60" cy="192.16" r="3.6"/>
<circle cx="365.98" cy="191.37" r="3.6"/>
<circle cx="370.35" cy="190.50" r="3.6"/>
<circle cx="374.73" cy="189.77" r="3.6"/>
<circle cx="379.11" cy="189.41" r="3.6"/>
<circle cx="383.49" cy="189.56" r="3.6"/>
<circle cx="387.86" cy="190.17" r="3.6"/>
<circle cx="392.24" cy="191.02" r="3.6"/>
<circle cx="396.62" cy="191.86" r="3.6"/>
<circle cx="400.99" cy="189.60" r="3.6"/>
<circle cx="405.37" cy="186.40" r="3.6"/>
<circle cx="409.75" cy="179.00" r="3.6"/>
<circle cx="414.12" cy="166.00" r="3.6"/>
<circle cx="418.50" cy="150.00" r="3.6"/>
<circle cx="422.88" cy="129.60" r="3.6"/>
<circle cx="427.25" cy="112.20" r="3.6"/>
<circle cx="431.63" cy="88.00" r="3.6"/>
<circle cx="436.01" cy="78.60" r="3.6"/>
<circle cx="440.39" cy="71.00" r="3.6"/>
<circle cx="444.76" cy="77.40" r="3.6"/>
<circle cx="449.14" cy="89.40" r="3.6"/>
<circle cx="453.52" cy="108.60" r="3.6"/>
<circle cx="457.89" cy="134.00" r="3.6"/>
<circle cx="462.27" cy="153.00" r="3.6"/>
<circle cx="466.65" cy="172.20" r="3.6"/>
<circle cx="471.03" cy="184.00" r="3.6"/>
<circle cx="475.40" cy="190.80" r="3.6"/>
<circle cx="479.78" cy="193.40" r="3.6"/>
<circle cx="484.16" cy="193.40" r="3.6"/>
<circle cx="488.53" cy="193.40" r="3.6"/>
<circle cx="492.91" cy="193.40" r="3.6"/>
<circle cx="497.29" cy="193.40" r="3.6"/>
<circle cx="501.66" cy="193.40" r="3.6"/>
<circle cx="506.04" cy="193.40" r="3.6"/>
</g></g>
<rect x="306.5" y="41.5" width="202" height="152.3" fill="none" stroke="#3a3a3a" stroke-width="0.95"/>
<text x="315" y="93.5" font-size="15.2" fill="#2b2b2b" text-anchor="start" >(2,0,0)</text>
<text x="461.2" y="93.5" font-size="15.0" fill="#2b2b2b" text-anchor="start" >(0,2,0)</text>
<text x="485.6" y="63.4" font-size="17.5" font-weight="bold" fill="#222" style="stroke:#222;stroke-width:0.9px">b</text>
<text x="260.5" y="63.4" font-size="17.5" font-weight="bold" fill="#222" style="stroke:#222;stroke-width:0.9px">a</text>
<text x="512.0" y="57" font-size="15.5" fill="#2b2b2b" text-anchor="start" >30</text>
<text x="512.0" y="104" font-size="15.5" fill="#2b2b2b" text-anchor="start" >20</text>
<text x="512.0" y="151" font-size="15.5" fill="#2b2b2b" text-anchor="start" >10</text>
<text x="361.8" y="210.3" font-size="15.5" fill="#2b2b2b" text-anchor="middle" >3.80</text>
<text x="454.2" y="210.3" font-size="15.5" fill="#2b2b2b" text-anchor="middle" >3.90</text>
<text x="332" y="229.9" font-size="15.6" fill="#2b2b2b" text-anchor="start" >Lattice parameter (Å)</text>
<text transform="translate(548.5,117) rotate(-90)" font-size="16.3" fill="#2b2b2b" text-anchor="middle">Intensity</text>
<text transform="translate(565,118) rotate(-90)" font-size="16.1" fill="#2b2b2b" text-anchor="middle">(×10<tspan font-size="10.5" dy="-5.5">3</tspan><tspan dy="5.5"> counts per second)</tspan></text>
<defs><linearGradient id="cb" x1="0" x2="1" y1="0" y2="0">
<stop offset="0.0" stop-color="#3c3c8c"/>
<stop offset="0.03" stop-color="#3b46a6"/>
<stop offset="0.06" stop-color="#3a58b8"/>
<stop offset="0.085" stop-color="#3a70c8"/>
<stop offset="0.105" stop-color="#3890d8"/>
<stop offset="0.115" stop-color="#38a8e0"/>
<stop offset="0.13" stop-color="#48b8e0"/>
<stop offset="0.14" stop-color="#70c8e0"/>
<stop offset="0.16" stop-color="#90d0d8"/>
<stop offset="0.2" stop-color="#9cd6cc"/>
<stop offset="0.25" stop-color="#a2d8ca"/>
<stop offset="0.29" stop-color="#b0dcc6"/>
<stop offset="0.32" stop-color="#c8e4c0"/>
<stop offset="0.355" stop-color="#e0ecb0"/>
<stop offset="0.39" stop-color="#ece8a0"/>
<stop offset="0.43" stop-color="#ece890"/>
<stop offset="0.48" stop-color="#ece878"/>
<stop offset="0.515" stop-color="#f0e060"/>
<stop offset="0.545" stop-color="#f2d438"/>
<stop offset="0.595" stop-color="#f2c030"/>
<stop offset="0.63" stop-color="#f2a830"/>
<stop offset="0.67" stop-color="#f09030"/>
<stop offset="0.7" stop-color="#ee7838"/>
<stop offset="0.74" stop-color="#ec6038"/>
<stop offset="0.775" stop-color="#e84a38"/>
<stop offset="0.82" stop-color="#ec3838"/>
<stop offset="0.845" stop-color="#d83a40"/>
<stop offset="0.87" stop-color="#b03a44"/>
<stop offset="0.897" stop-color="#803a40"/>
<stop offset="0.92" stop-color="#583838"/>
<stop offset="0.95" stop-color="#3a3434"/>
<stop offset="0.975" stop-color="#2e3230"/>
<stop offset="1.0" stop-color="#2a302e"/>
</linearGradient></defs>
<rect x="193.8" y="492" width="191.2" height="17.8" fill="url(#cb)" stroke="#3a3a3a" stroke-width="0.6"/>
<g stroke="#6a6a6a" stroke-width="0.6">
<line x1="212.9" y1="492" x2="212.9" y2="494"/><line x1="212.9" y1="507.8" x2="212.9" y2="509.8"/>
<line x1="232.0" y1="492" x2="232.0" y2="494"/><line x1="232.0" y1="507.8" x2="232.0" y2="509.8"/>
<line x1="251.2" y1="492" x2="251.2" y2="494"/><line x1="251.2" y1="507.8" x2="251.2" y2="509.8"/>
<line x1="270.3" y1="492" x2="270.3" y2="494"/><line x1="270.3" y1="507.8" x2="270.3" y2="509.8"/>
<line x1="289.4" y1="492" x2="289.4" y2="494"/><line x1="289.4" y1="507.8" x2="289.4" y2="509.8"/>
<line x1="308.5" y1="492" x2="308.5" y2="494"/><line x1="308.5" y1="507.8" x2="308.5" y2="509.8"/>
<line x1="327.6" y1="492" x2="327.6" y2="494"/><line x1="327.6" y1="507.8" x2="327.6" y2="509.8"/>
<line x1="346.8" y1="492" x2="346.8" y2="494"/><line x1="346.8" y1="507.8" x2="346.8" y2="509.8"/>
<line x1="365.9" y1="492" x2="365.9" y2="494"/><line x1="365.9" y1="507.8" x2="365.9" y2="509.8"/>
</g>
<text x="194.8" y="526.5" font-size="15.3" fill="#2b2b2b" text-anchor="middle" >0</text>
<text x="290" y="526.5" font-size="15.3" fill="#2b2b2b" text-anchor="middle" >0.5</text>
<text x="385" y="526.5" font-size="15.3" fill="#2b2b2b" text-anchor="middle" >1</text>
</svg></body></html>
